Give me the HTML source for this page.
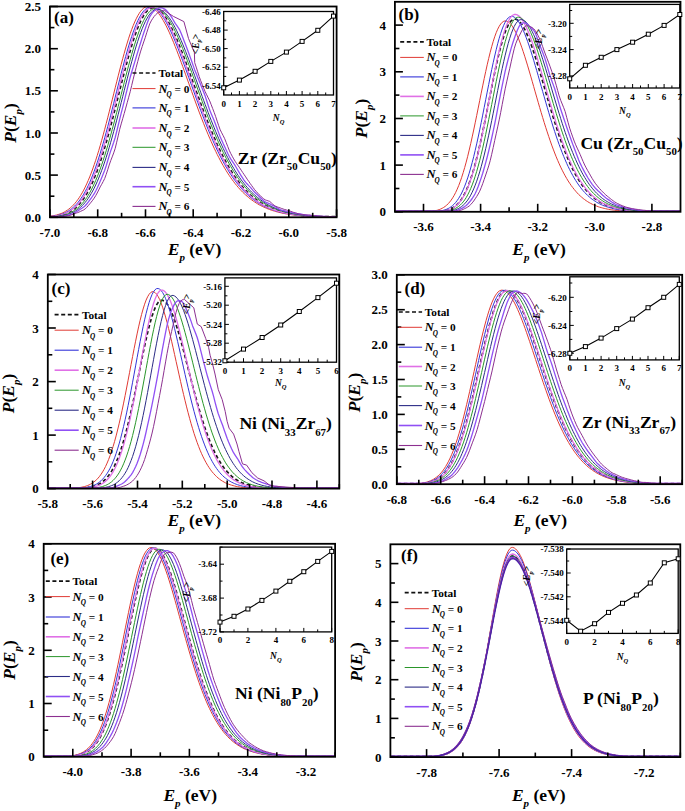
<!DOCTYPE html><html><head><meta charset="utf-8"><style>
html,body{margin:0;padding:0;background:#fff;}
svg{display:block;}
text{font-family:"Liberation Serif",serif;font-weight:bold;fill:#000;}
.tl{font-size:13px;}
.at{font-size:17.5px;}
.sub{font-size:11px;font-style:italic;}
.pl{font-size:17px;}
.lg{font-size:11.3px;}
.lsub{font-size:7.2px;font-style:italic;}
.lgN{font-size:12.5px;font-style:italic;}
.ml{font-size:17.6px;}
.msub{font-size:10.8px;}
.il{font-size:9px;}
.iat{font-size:9.5px;font-weight:bold;}
</style></head><body><svg width="685" height="811" viewBox="0 0 685 811">
<rect width="685" height="811" fill="#fff"/>
<polyline points="50.7,216.6 52.2,216.6 53.7,216.4 55.2,216.2 56.7,216.0 58.2,215.7 59.7,215.4 61.2,215.1 62.7,214.7 64.2,214.2 65.7,213.7 67.2,213.0 68.7,212.3 70.2,211.5 71.7,210.6 73.2,209.6 74.7,208.5 76.2,207.2 77.7,205.8 79.2,204.2 80.7,202.5 82.2,200.6 83.7,198.5 85.2,196.2 86.7,193.7 88.2,191.1 89.7,188.2 91.2,185.1 92.7,181.8 94.2,178.3 95.7,174.5 97.2,170.6 98.7,166.4 100.2,162.0 101.7,157.4 103.2,152.6 104.7,147.6 106.2,142.4 107.7,137.1 109.2,131.6 110.7,125.9 112.2,120.2 113.7,114.4 115.2,108.4 116.7,102.5 118.2,96.5 119.7,90.5 121.2,84.5 122.7,78.6 124.2,72.7 125.7,67.0 127.2,61.4 128.7,55.9 130.2,50.7 131.7,45.6 133.2,40.8 134.7,36.2 136.2,32.0 137.7,28.0 139.2,24.3 140.7,21.0 142.2,18.0 143.7,15.4 145.2,13.2 146.7,11.3 148.2,9.9 149.7,8.8 151.2,8.2 152.7,7.9 154.2,8.0 155.7,8.4 157.2,9.1 158.7,10.0 160.2,11.2 161.7,12.7 163.2,14.4 164.7,16.4 166.2,18.5 167.7,20.9 169.2,23.5 170.7,26.3 172.2,29.3 173.7,32.5 175.2,35.8 176.7,39.2 178.2,42.8 179.7,46.5 181.2,50.3 182.7,54.1 184.2,58.1 185.7,62.1 187.2,66.2 188.7,70.3 190.2,74.5 191.7,78.6 193.2,82.8 194.7,87.0 196.2,91.2 197.7,95.3 199.2,99.4 200.7,103.5 202.2,107.6 203.7,111.6 205.2,115.5 206.7,119.4 208.2,123.2 209.7,126.9 211.2,130.6 212.7,134.2 214.2,137.7 215.7,141.1 217.2,144.5 218.7,147.7 220.2,150.8 221.7,153.9 223.2,156.9 224.7,159.7 226.2,162.5 227.7,165.2 229.2,167.8 230.7,170.3 232.2,172.7 233.7,175.0 235.2,177.2 236.7,179.3 238.2,181.4 239.7,183.3 241.2,185.2 242.7,187.0 244.2,188.7 245.7,190.3 247.2,191.9 248.7,193.3 250.2,194.8 251.7,196.1 253.2,197.4 254.7,198.6 256.2,199.7 257.7,200.8 259.2,201.8 260.7,202.8 262.2,203.7 263.7,204.6 265.2,205.4 266.7,206.2 268.2,206.9 269.7,207.6 271.2,208.3 272.7,208.9 274.2,209.4 275.7,210.0 277.2,210.5 278.7,210.9 280.2,211.4 281.7,211.8 283.2,212.2 284.7,212.6 286.2,212.9 287.7,213.2 289.2,213.5 290.7,213.8 292.2,214.1 293.7,214.3 295.2,214.5 296.7,214.7 298.2,214.9 299.7,215.1 301.2,215.3 302.7,215.4 304.2,215.6 305.7,215.7 307.2,215.8 308.7,215.9 310.2,216.1 311.7,216.2 313.2,216.2 314.7,216.3 316.2,216.4 317.7,216.5 319.2,216.5 320.7,216.6 322.2,216.6 323.7,216.6 325.2,216.6 326.7,216.6 328.2,216.6 329.7,216.6 331.2,216.6 332.7,216.6 334.2,216.6 335.7,216.6 335.8,216.6" fill="none" stroke="#1a1a1a" stroke-width="1.7" stroke-dasharray="3.6 2.6"/>
<polyline points="50.7,216.2 52.2,215.9 53.7,215.7 55.2,215.3 56.7,215.0 58.2,214.5 59.7,214.0 61.2,213.5 62.7,212.8 64.2,212.1 65.7,211.2 67.2,210.3 68.7,209.2 70.2,208.0 71.7,206.7 73.2,205.2 74.7,203.6 76.2,201.8 77.7,199.8 79.2,197.7 80.7,195.3 82.2,192.8 83.7,190.1 85.2,187.1 86.7,183.9 88.2,180.5 89.7,176.9 91.2,173.1 92.7,169.0 94.2,164.7 95.7,160.3 97.2,155.6 98.7,150.7 100.2,145.6 101.7,140.3 103.2,134.9 104.7,129.3 106.2,123.6 107.7,117.8 109.2,111.9 110.7,105.9 112.2,99.9 113.7,93.9 115.2,87.8 116.7,81.8 118.2,75.9 119.7,70.0 121.2,64.3 122.7,58.7 124.2,53.3 125.7,48.0 127.2,43.0 128.7,38.2 130.2,33.7 131.7,29.5 133.2,25.6 134.7,22.0 136.2,18.8 137.7,15.9 139.2,13.4 140.7,11.2 142.2,9.5 143.7,8.1 145.2,7.2 146.7,6.7 148.2,6.5 149.7,6.7 151.2,7.2 152.7,7.9 154.2,9.0 155.7,10.3 157.2,11.8 158.7,13.6 160.2,15.6 161.7,17.9 163.2,20.4 164.7,23.1 166.2,25.9 167.7,29.0 169.2,32.2 170.7,35.6 172.2,39.1 173.7,42.7 175.2,46.5 176.7,50.3 178.2,54.2 179.7,58.2 181.2,62.3 182.7,66.4 184.2,70.6 185.7,74.8 187.2,79.0 188.7,83.2 190.2,87.4 191.7,91.6 193.2,95.7 194.7,99.9 196.2,104.0 197.7,108.0 199.2,112.1 200.7,116.0 202.2,119.9 203.7,123.7 205.2,127.5 206.7,131.1 208.2,134.7 209.7,138.2 211.2,141.6 212.7,145.0 214.2,148.2 215.7,151.3 217.2,154.4 218.7,157.3 220.2,160.2 221.7,163.0 223.2,165.6 224.7,168.2 226.2,170.7 227.7,173.1 229.2,175.4 230.7,177.6 232.2,179.7 233.7,181.7 235.2,183.7 236.7,185.5 238.2,187.3 239.7,189.0 241.2,190.6 242.7,192.2 244.2,193.6 245.7,195.0 247.2,196.3 248.7,197.6 250.2,198.8 251.7,199.9 253.2,201.0 254.7,202.0 256.2,203.0 257.7,203.9 259.2,204.8 260.7,205.6 262.2,206.3 263.7,207.1 265.2,207.7 266.7,208.4 268.2,209.0 269.7,209.5 271.2,210.1 272.7,210.6 274.2,211.0 275.7,211.5 277.2,211.9 278.7,212.3 280.2,212.6 281.7,213.0 283.2,213.3 284.7,213.6 286.2,213.9 287.7,214.1 289.2,214.3 290.7,214.6 292.2,214.8 293.7,215.0 295.2,215.1 296.7,215.3 298.2,215.5 299.7,215.6 301.2,215.7 302.7,215.9 304.2,216.0 305.7,216.1 307.2,216.2 308.7,216.3 310.2,216.3 311.7,216.4 313.2,216.5 314.7,216.6 316.2,216.6 317.7,216.6 319.2,216.6 320.7,216.6 322.2,216.6 323.7,216.6 325.2,216.6 326.7,216.6 328.2,216.6 329.7,216.6 331.2,216.6 332.7,216.6 334.2,216.6 335.7,216.6 335.8,216.6" fill="none" stroke="#e03a34" stroke-width="1.0" stroke-linejoin="round"/>
<polyline points="50.7,216.4 52.2,216.3 53.7,216.1 55.2,215.8 56.7,215.5 58.2,215.2 59.7,214.8 61.2,214.3 62.7,213.8 64.2,213.2 65.7,212.5 67.2,211.7 68.7,210.8 70.2,209.8 71.7,208.7 73.2,207.4 74.7,206.0 76.2,204.5 77.7,202.8 79.2,200.9 80.7,198.8 82.2,196.6 83.7,194.2 85.2,191.5 86.7,188.7 88.2,185.6 89.7,182.4 91.2,178.9 92.7,175.1 94.2,171.2 95.7,167.1 97.2,162.7 98.7,158.1 100.2,153.3 101.7,148.3 103.2,143.2 104.7,137.9 106.2,132.4 107.7,126.7 109.2,121.0 110.7,115.2 112.2,109.2 113.7,103.3 115.2,97.2 116.7,91.2 118.2,85.2 119.7,79.3 121.2,73.4 122.7,67.6 124.2,61.9 125.7,56.4 127.2,51.1 128.7,46.0 130.2,41.1 131.7,36.5 133.2,32.1 134.7,28.1 136.2,24.3 137.7,20.9 139.2,17.9 140.7,15.2 142.2,12.9 143.7,10.9 145.2,9.4 146.7,8.3 148.2,7.5 149.7,7.2 151.2,7.2 152.7,7.5 154.2,8.1 155.7,9.0 157.2,10.2 158.7,11.6 160.2,13.3 161.7,15.2 163.2,17.4 164.7,19.7 166.2,22.3 167.7,25.1 169.2,28.0 170.7,31.2 172.2,34.4 173.7,37.9 175.2,41.4 176.7,45.1 178.2,48.9 179.7,52.8 181.2,56.7 182.7,60.7 184.2,64.8 185.7,68.9 187.2,73.1 188.7,77.3 190.2,81.5 191.7,85.7 193.2,89.9 194.7,94.0 196.2,98.2 197.7,102.3 199.2,106.4 200.7,110.4 202.2,114.3 203.7,118.2 205.2,122.1 206.7,125.9 208.2,129.6 209.7,133.2 211.2,136.7 212.7,140.2 214.2,143.5 215.7,146.8 217.2,150.0 218.7,153.1 220.2,156.1 221.7,159.0 223.2,161.8 224.7,164.5 226.2,167.1 227.7,169.6 229.2,172.0 230.7,174.4 232.2,176.6 233.7,178.8 235.2,180.8 236.7,182.8 238.2,184.7 239.7,186.5 241.2,188.2 242.7,189.9 244.2,191.5 245.7,193.0 247.2,194.4 248.7,195.8 250.2,197.0 251.7,198.3 253.2,199.4 254.7,200.5 256.2,201.6 257.7,202.6 259.2,203.5 260.7,204.4 262.2,205.2 263.7,206.0 265.2,206.7 266.7,207.4 268.2,208.1 269.7,208.7 271.2,209.3 272.7,209.8 274.2,210.4 275.7,210.8 277.2,211.3 278.7,211.7 280.2,212.1 281.7,212.5 283.2,212.8 284.7,213.1 286.2,213.4 287.7,213.7 289.2,214.0 290.7,214.2 292.2,214.5 293.7,214.7 295.2,214.9 296.7,215.1 298.2,215.2 299.7,215.4 301.2,215.5 302.7,215.7 304.2,215.8 305.7,215.9 307.2,216.0 308.7,216.1 310.2,216.2 311.7,216.3 313.2,216.4 314.7,216.5 316.2,216.5 317.7,216.6 319.2,216.6 320.7,216.6 322.2,216.6 323.7,216.6 325.2,216.6 326.7,216.6 328.2,216.6 329.7,216.6 331.2,216.6 332.7,216.6 334.2,216.6 335.7,216.6 335.8,216.6" fill="none" stroke="#3434d8" stroke-width="1.0" stroke-linejoin="round"/>
<polyline points="50.7,216.6 52.2,216.4 53.7,216.3 55.2,216.1 56.7,215.8 58.2,215.5 59.7,215.2 61.2,214.8 62.7,214.3 64.2,213.8 65.7,213.2 67.2,212.5 68.7,211.7 70.2,210.8 71.7,209.8 73.2,208.7 74.7,207.4 76.2,206.0 77.7,204.5 79.2,202.8 80.7,200.9 82.2,198.9 83.7,196.6 85.2,194.2 86.7,191.6 88.2,188.7 89.7,185.7 91.2,182.4 92.7,178.9 94.2,175.2 95.7,171.3 97.2,167.2 98.7,162.8 100.2,158.2 101.7,153.5 103.2,148.5 104.7,143.3 106.2,138.0 107.7,132.5 109.2,126.9 110.7,121.2 112.2,115.4 113.7,109.5 115.2,103.5 116.7,97.5 118.2,91.5 119.7,85.5 121.2,79.5 122.7,73.7 124.2,67.9 125.7,62.3 127.2,56.8 128.7,51.5 130.2,46.3 131.7,41.5 133.2,36.8 134.7,32.5 136.2,28.4 137.7,24.7 139.2,21.3 140.7,18.3 142.2,15.6 143.7,13.3 145.2,11.3 146.7,9.8 148.2,8.7 149.7,7.9 151.2,7.6 152.7,7.6 154.2,7.9 155.7,8.6 157.2,9.5 158.7,10.6 160.2,12.0 161.7,13.7 163.2,15.6 164.7,17.8 166.2,20.1 167.7,22.7 169.2,25.5 170.7,28.4 172.2,31.5 173.7,34.8 175.2,38.2 176.7,41.8 178.2,45.4 179.7,49.2 181.2,53.1 182.7,57.0 184.2,61.1 185.7,65.1 187.2,69.2 188.7,73.4 190.2,77.6 191.7,81.8 193.2,85.9 194.7,90.1 196.2,94.3 197.7,98.4 199.2,102.5 200.7,106.6 202.2,110.6 203.7,114.5 205.2,118.4 206.7,122.3 208.2,126.0 209.7,129.7 211.2,133.3 212.7,136.9 214.2,140.3 215.7,143.7 217.2,146.9 218.7,150.1 220.2,153.2 221.7,156.2 223.2,159.1 224.7,161.9 226.2,164.6 227.7,167.2 229.2,169.7 230.7,172.1 232.2,174.5 233.7,176.7 235.2,178.8 236.7,180.9 238.2,182.9 239.7,184.8 241.2,186.6 242.7,188.3 244.2,190.0 245.7,191.5 247.2,193.0 248.7,194.4 250.2,195.8 251.7,197.1 253.2,198.3 254.7,199.5 256.2,200.6 257.7,201.6 259.2,202.6 260.7,203.5 262.2,204.4 263.7,205.2 265.2,206.0 266.7,206.8 268.2,207.5 269.7,208.1 271.2,208.7 272.7,209.3 274.2,209.9 275.7,210.4 277.2,210.8 278.7,211.3 280.2,211.7 281.7,212.1 283.2,212.5 284.7,212.8 286.2,213.2 287.7,213.5 289.2,213.7 290.7,214.0 292.2,214.2 293.7,214.5 295.2,214.7 296.7,214.9 298.2,215.1 299.7,215.2 301.2,215.4 302.7,215.5 304.2,215.7 305.7,215.8 307.2,215.9 308.7,216.0 310.2,216.1 311.7,216.2 313.2,216.3 314.7,216.4 316.2,216.5 317.7,216.5 319.2,216.6 320.7,216.6 322.2,216.6 323.7,216.6 325.2,216.6 326.7,216.6 328.2,216.6 329.7,216.6 331.2,216.6 332.7,216.6 334.2,216.6 335.7,216.6 335.8,216.6" fill="none" stroke="#e070e6" stroke-width="1.3" stroke-linejoin="round"/>
<polyline points="50.7,216.6 52.2,216.6 53.7,216.6 55.2,216.5 56.7,216.3 58.2,216.1 59.7,215.9 61.2,215.6 62.7,215.3 64.2,214.9 65.7,214.5 67.2,214.0 68.7,213.4 70.2,212.8 71.7,212.0 73.2,211.2 74.7,210.2 76.2,209.2 77.7,208.0 79.2,206.7 80.7,205.2 82.2,203.6 83.7,201.8 85.2,199.8 86.7,197.7 88.2,195.3 89.7,192.8 91.2,190.0 92.7,187.1 94.2,183.9 95.7,180.5 97.2,176.9 98.7,173.1 100.2,169.1 101.7,164.8 103.2,160.4 104.7,155.7 106.2,150.8 107.7,145.8 109.2,140.5 110.7,135.1 112.2,129.6 113.7,124.0 115.2,118.2 116.7,112.3 118.2,106.4 119.7,100.5 121.2,94.5 122.7,88.5 124.2,82.6 125.7,76.7 127.2,70.9 128.7,65.2 130.2,59.7 131.7,54.3 133.2,49.2 134.7,44.2 136.2,39.5 137.7,35.1 139.2,30.9 140.7,27.1 142.2,23.6 143.7,20.4 145.2,17.6 146.7,15.1 148.2,13.1 149.7,11.4 151.2,10.1 152.7,9.2 154.2,8.7 155.7,8.6 157.2,8.8 158.7,9.3 160.2,10.1 161.7,11.1 163.2,12.4 164.7,14.0 166.2,15.8 167.7,17.8 169.2,20.1 170.7,22.6 172.2,25.3 173.7,28.1 175.2,31.2 176.7,34.4 178.2,37.7 179.7,41.2 181.2,44.8 182.7,48.5 184.2,52.3 185.7,56.2 187.2,60.2 188.7,64.2 190.2,68.3 191.7,72.4 193.2,76.6 194.7,80.7 196.2,84.9 197.7,89.1 199.2,93.2 200.7,97.3 202.2,101.4 203.7,105.5 205.2,109.5 206.7,113.5 208.2,117.4 209.7,121.2 211.2,125.0 212.7,128.7 214.2,132.3 215.7,135.9 217.2,139.3 218.7,142.7 220.2,146.0 221.7,149.2 223.2,152.3 224.7,155.3 226.2,158.2 227.7,161.0 229.2,163.8 230.7,166.4 232.2,168.9 233.7,171.4 235.2,173.7 236.7,176.0 238.2,178.2 239.7,180.3 241.2,182.3 242.7,184.2 244.2,186.0 245.7,187.8 247.2,189.4 248.7,191.0 250.2,192.5 251.7,194.0 253.2,195.4 254.7,196.7 256.2,197.9 257.7,199.1 259.2,200.2 260.7,201.3 262.2,202.3 263.7,203.2 265.2,204.1 266.7,205.0 268.2,205.8 269.7,206.5 271.2,207.2 272.7,207.9 274.2,208.5 275.7,209.1 277.2,209.7 278.7,210.2 280.2,210.7 281.7,211.1 283.2,211.6 284.7,212.0 286.2,212.4 287.7,212.7 289.2,213.0 290.7,213.4 292.2,213.6 293.7,213.9 295.2,214.2 296.7,214.4 298.2,214.6 299.7,214.8 301.2,215.0 302.7,215.2 304.2,215.3 305.7,215.5 307.2,215.6 308.7,215.8 310.2,215.9 311.7,216.0 313.2,216.1 314.7,216.2 316.2,216.3 317.7,216.4 319.2,216.4 320.7,216.5 322.2,216.6 323.7,216.6 325.2,216.6 326.7,216.6 328.2,216.6 329.7,216.6 331.2,216.6 332.7,216.6 334.2,216.6 335.7,216.6 335.8,216.6" fill="none" stroke="#2a962a" stroke-width="1.0" stroke-linejoin="round"/>
<polyline points="50.7,216.6 52.2,216.6 53.7,216.6 55.2,216.6 56.7,216.6 58.2,216.4 59.7,216.2 61.2,216.0 62.7,215.7 64.2,215.4 65.7,215.1 67.2,214.7 68.7,214.2 70.2,213.6 71.7,213.0 73.2,212.3 74.7,211.5 76.2,210.6 77.7,209.5 79.2,208.4 80.7,207.1 82.2,205.7 83.7,204.1 85.2,202.4 86.7,200.5 88.2,198.4 89.7,196.1 91.2,193.6 92.7,191.0 94.2,188.1 95.7,185.0 97.2,181.7 98.7,178.1 100.2,174.4 101.7,170.4 103.2,166.3 104.7,161.9 106.2,157.3 107.7,152.5 109.2,147.5 110.7,142.3 112.2,137.0 113.7,131.5 115.2,125.9 116.7,120.2 118.2,114.4 119.7,108.5 121.2,102.5 122.7,96.6 124.2,90.6 125.7,84.7 127.2,78.8 128.7,73.0 130.2,67.3 131.7,61.8 133.2,56.4 134.7,51.1 136.2,46.1 137.7,41.4 139.2,36.9 140.7,32.6 142.2,28.7 143.7,25.1 145.2,21.8 146.7,18.9 148.2,16.4 149.7,14.2 151.2,12.4 152.7,11.0 154.2,10.0 155.7,9.3 157.2,9.1 158.7,9.2 160.2,9.7 161.7,10.4 163.2,11.3 164.7,12.5 166.2,14.0 167.7,15.8 169.2,17.7 170.7,19.9 172.2,22.3 173.7,24.9 175.2,27.7 176.7,30.7 178.2,33.9 179.7,37.2 181.2,40.6 182.7,44.2 184.2,47.8 185.7,51.6 187.2,55.5 188.7,59.4 190.2,63.4 191.7,67.5 193.2,71.6 194.7,75.7 196.2,79.9 197.7,84.0 199.2,88.2 200.7,92.3 202.2,96.4 203.7,100.5 205.2,104.6 206.7,108.6 208.2,112.6 209.7,116.5 211.2,120.3 212.7,124.1 214.2,127.8 215.7,131.5 217.2,135.0 218.7,138.5 220.2,141.9 221.7,145.2 223.2,148.4 224.7,151.5 226.2,154.6 227.7,157.5 229.2,160.4 230.7,163.1 232.2,165.8 233.7,168.3 235.2,170.8 236.7,173.2 238.2,175.5 239.7,177.7 241.2,179.8 242.7,181.8 244.2,183.7 245.7,185.6 247.2,187.3 248.7,189.0 250.2,190.6 251.7,192.2 253.2,193.6 254.7,195.0 256.2,196.3 257.7,197.6 259.2,198.8 260.7,199.9 262.2,201.0 263.7,202.0 265.2,203.0 266.7,203.9 268.2,204.8 269.7,205.6 271.2,206.3 272.7,207.0 274.2,207.7 275.7,208.4 277.2,209.0 278.7,209.5 280.2,210.1 281.7,210.6 283.2,211.0 284.7,211.5 286.2,211.9 287.7,212.3 289.2,212.6 290.7,213.0 292.2,213.3 293.7,213.6 295.2,213.8 296.7,214.1 298.2,214.3 299.7,214.6 301.2,214.8 302.7,215.0 304.2,215.1 305.7,215.3 307.2,215.5 308.7,215.6 310.2,215.7 311.7,215.9 313.2,216.0 314.7,216.1 316.2,216.2 317.7,216.3 319.2,216.3 320.7,216.4 322.2,216.5 323.7,216.6 325.2,216.6 326.7,216.6 328.2,216.6 329.7,216.6 331.2,216.6 332.7,216.6 334.2,216.6 335.7,216.6 335.8,216.6" fill="none" stroke="#2c2c86" stroke-width="1.0" stroke-linejoin="round"/>
<polyline points="50.7,216.6 52.2,216.6 53.7,216.6 55.2,216.6 56.7,216.6 58.2,216.6 59.7,216.6 61.2,216.5 62.7,216.3 64.2,216.1 65.7,215.8 67.2,215.4 68.7,215.0 70.2,214.6 71.7,214.1 73.2,213.5 74.7,212.8 76.2,212.0 77.7,211.0 79.2,210.0 80.7,209.0 82.2,208.0 83.7,206.9 85.2,205.7 86.7,204.0 88.2,202.2 89.7,200.2 91.2,198.2 92.7,196.0 94.2,193.7 95.7,191.0 97.2,188.0 98.7,184.7 100.2,181.3 101.7,177.8 103.2,174.1 104.7,170.2 106.2,165.7 107.7,160.8 109.2,155.6 110.7,150.9 112.2,146.7 113.7,142.3 115.2,137.5 116.7,131.5 118.2,125.4 119.7,119.2 121.2,113.2 122.7,107.3 124.2,101.3 125.7,95.2 127.2,89.1 128.7,83.0 130.2,77.2 131.7,72.0 133.2,67.0 134.7,62.1 136.2,57.0 137.7,52.1 139.2,47.3 140.7,42.5 142.2,37.6 143.7,33.0 145.2,28.7 146.7,24.4 148.2,20.4 149.7,16.8 151.2,14.3 152.7,12.4 154.2,10.9 155.7,9.6 157.2,8.6 158.7,8.0 160.2,7.8 161.7,7.9 163.2,8.3 164.7,9.0 166.2,10.3 167.7,11.9 169.2,13.8 170.7,15.9 172.2,18.2 173.7,20.8 175.2,23.4 176.7,25.4 178.2,27.6 179.7,29.9 181.2,33.4 182.7,37.2 184.2,41.2 185.7,45.1 187.2,49.0 188.7,53.0 190.2,57.1 191.7,61.3 193.2,65.6 194.7,69.9 196.2,73.6 197.7,77.4 199.2,81.1 200.7,84.8 202.2,88.5 203.7,92.2 205.2,96.1 206.7,100.8 208.2,105.5 209.7,110.1 211.2,113.8 212.7,117.3 214.2,120.8 215.7,124.7 217.2,128.8 218.7,132.9 220.2,136.8 221.7,140.2 223.2,143.6 224.7,146.8 226.2,150.0 227.7,153.2 229.2,156.2 230.7,158.9 232.2,161.2 233.7,163.4 235.2,165.7 236.7,168.3 238.2,170.9 239.7,173.3 241.2,175.8 242.7,178.2 244.2,180.5 245.7,182.4 247.2,184.0 248.7,185.6 250.2,187.1 251.7,188.9 253.2,190.6 254.7,192.2 256.2,193.7 257.7,195.1 259.2,196.5 260.7,197.9 262.2,199.3 263.7,200.7 265.2,201.9 266.7,202.5 268.2,203.2 269.7,203.8 271.2,204.6 272.7,205.3 274.2,206.0 275.7,206.9 277.2,207.9 278.7,208.8 280.2,209.6 281.7,210.1 283.2,210.5 284.7,210.9 286.2,211.3 287.7,211.6 289.2,211.9 290.7,212.2 292.2,212.6 293.7,212.9 295.2,213.2 296.7,213.5 298.2,213.7 299.7,213.9 301.2,214.2 302.7,214.5 304.2,214.7 305.7,215.0 307.2,215.1 308.7,215.3 310.2,215.5 311.7,215.6 313.2,215.6 314.7,215.7 316.2,215.9 317.7,216.0 319.2,216.2 320.7,216.3 322.2,216.3 323.7,216.4 325.2,216.4 326.7,216.6 328.2,216.6 329.7,216.6 331.2,216.6 332.7,216.6 334.2,216.6 335.7,216.6 335.8,216.6" fill="none" stroke="#9050f4" stroke-width="1.3" stroke-linejoin="round"/>
<polyline points="50.7,216.6 52.2,216.6 53.7,216.6 55.2,216.6 56.7,216.6 58.2,216.6 59.7,216.6 61.2,216.6 62.7,216.4 64.2,216.2 65.7,216.0 67.2,215.8 68.7,215.6 70.2,215.3 71.7,214.8 73.2,214.3 74.7,213.6 76.2,213.1 77.7,212.6 79.2,212.0 80.7,211.3 82.2,210.6 83.7,209.9 85.2,208.9 86.7,207.4 88.2,205.7 89.7,203.9 91.2,202.1 92.7,200.2 94.2,198.1 95.7,195.7 97.2,193.0 98.7,190.0 100.2,186.9 101.7,184.3 103.2,181.5 104.7,178.5 106.2,174.4 107.7,169.8 109.2,165.0 110.7,160.7 112.2,156.9 113.7,152.9 115.2,148.4 116.7,142.2 118.2,135.9 119.7,129.3 121.2,123.9 122.7,118.7 124.2,113.5 125.7,108.1 127.2,102.7 128.7,97.2 130.2,91.7 131.7,85.4 133.2,79.2 134.7,73.1 136.2,67.3 137.7,61.7 139.2,56.2 140.7,51.1 142.2,46.5 143.7,42.0 145.2,37.7 146.7,32.8 148.2,28.2 149.7,23.9 151.2,20.9 152.7,18.5 154.2,16.4 155.7,14.7 157.2,13.3 158.7,12.3 160.2,11.6 161.7,10.7 163.2,10.3 164.7,10.1 165.2,11.1 173.4,16.4 183.9,21.6 188.5,38.5 194.4,52.6 194.7,62.6 196.2,67.1 197.7,71.8 199.2,76.5 200.7,80.7 202.2,84.4 203.7,88.2 205.2,91.8 206.7,94.8 208.2,97.9 209.7,100.9 211.2,104.7 212.7,108.6 214.2,112.5 215.7,116.7 217.2,121.2 218.7,125.7 220.2,129.8 221.7,132.8 223.2,135.7 224.7,138.7 226.2,142.5 227.7,146.4 229.2,150.2 230.7,153.4 232.2,156.2 233.7,158.9 235.2,161.4 236.7,163.7 238.2,165.8 239.7,167.9 241.2,170.2 242.7,172.5 244.2,174.7 245.7,176.9 247.2,179.2 248.7,181.3 250.2,183.5 251.7,185.6 253.2,187.7 254.7,189.7 256.2,191.4 257.7,193.1 259.2,194.7 260.7,196.1 262.2,197.5 263.7,198.8 265.2,199.9 266.7,200.4 268.2,200.9 269.7,201.4 271.2,202.7 272.7,204.1 274.2,205.4 275.7,206.3 277.2,206.9 278.7,207.4 280.2,207.9 281.7,208.5 283.2,209.0 284.7,209.5 286.2,209.9 287.7,210.4 289.2,210.7 290.7,211.3 292.2,211.8 293.7,212.4 295.2,212.9 296.7,213.3 298.2,213.8 299.7,214.1 301.2,214.4 302.7,214.6 304.2,214.8 305.7,214.9 307.2,215.0 308.7,215.0 310.2,215.1 311.7,215.3 313.2,215.5 314.7,215.7 316.2,215.8 317.7,216.0 319.2,216.1 320.7,216.2 322.2,216.3 323.7,216.4 325.2,216.4 326.7,216.4 328.2,216.4 329.7,216.5 331.2,216.5 332.7,216.6 334.2,216.6 335.7,216.6 335.8,216.6" fill="none" stroke="#8c3090" stroke-width="1.0" stroke-linejoin="round"/>
<rect x="49.9" y="6.5" width="286.7" height="210.8" fill="none" stroke="#000" stroke-width="1.8"/>
<line x1="49.9" y1="217.3" x2="49.9" y2="209.3" stroke="#000" stroke-width="1.6"/>
<text x="49.9" y="236.8" text-anchor="middle" class="tl">-7.0</text>
<line x1="97.7" y1="217.3" x2="97.7" y2="209.3" stroke="#000" stroke-width="1.6"/>
<text x="97.7" y="236.8" text-anchor="middle" class="tl">-6.8</text>
<line x1="145.5" y1="217.3" x2="145.5" y2="209.3" stroke="#000" stroke-width="1.6"/>
<text x="145.5" y="236.8" text-anchor="middle" class="tl">-6.6</text>
<line x1="193.2" y1="217.3" x2="193.2" y2="209.3" stroke="#000" stroke-width="1.6"/>
<text x="193.2" y="236.8" text-anchor="middle" class="tl">-6.4</text>
<line x1="241.0" y1="217.3" x2="241.0" y2="209.3" stroke="#000" stroke-width="1.6"/>
<text x="241.0" y="236.8" text-anchor="middle" class="tl">-6.2</text>
<line x1="288.8" y1="217.3" x2="288.8" y2="209.3" stroke="#000" stroke-width="1.6"/>
<text x="288.8" y="236.8" text-anchor="middle" class="tl">-6.0</text>
<line x1="336.6" y1="217.3" x2="336.6" y2="209.3" stroke="#000" stroke-width="1.6"/>
<text x="336.6" y="236.8" text-anchor="middle" class="tl">-5.8</text>
<line x1="73.8" y1="217.3" x2="73.8" y2="212.8" stroke="#000" stroke-width="1.6"/>
<line x1="121.6" y1="217.3" x2="121.6" y2="212.8" stroke="#000" stroke-width="1.6"/>
<line x1="169.4" y1="217.3" x2="169.4" y2="212.8" stroke="#000" stroke-width="1.6"/>
<line x1="217.1" y1="217.3" x2="217.1" y2="212.8" stroke="#000" stroke-width="1.6"/>
<line x1="264.9" y1="217.3" x2="264.9" y2="212.8" stroke="#000" stroke-width="1.6"/>
<line x1="312.7" y1="217.3" x2="312.7" y2="212.8" stroke="#000" stroke-width="1.6"/>
<line x1="49.9" y1="217.3" x2="57.9" y2="217.3" stroke="#000" stroke-width="1.6"/>
<text x="40.9" y="221.8" text-anchor="end" class="tl">0.0</text>
<line x1="49.9" y1="175.1" x2="57.9" y2="175.1" stroke="#000" stroke-width="1.6"/>
<text x="40.9" y="179.6" text-anchor="end" class="tl">0.5</text>
<line x1="49.9" y1="133.0" x2="57.9" y2="133.0" stroke="#000" stroke-width="1.6"/>
<text x="40.9" y="137.5" text-anchor="end" class="tl">1.0</text>
<line x1="49.9" y1="90.8" x2="57.9" y2="90.8" stroke="#000" stroke-width="1.6"/>
<text x="40.9" y="95.3" text-anchor="end" class="tl">1.5</text>
<line x1="49.9" y1="48.7" x2="57.9" y2="48.7" stroke="#000" stroke-width="1.6"/>
<text x="40.9" y="53.2" text-anchor="end" class="tl">2.0</text>
<line x1="49.9" y1="6.5" x2="57.9" y2="6.5" stroke="#000" stroke-width="1.6"/>
<text x="40.9" y="11.0" text-anchor="end" class="tl">2.5</text>
<line x1="49.9" y1="196.2" x2="54.4" y2="196.2" stroke="#000" stroke-width="1.6"/>
<line x1="49.9" y1="154.1" x2="54.4" y2="154.1" stroke="#000" stroke-width="1.6"/>
<line x1="49.9" y1="111.9" x2="54.4" y2="111.9" stroke="#000" stroke-width="1.6"/>
<line x1="49.9" y1="69.7" x2="54.4" y2="69.7" stroke="#000" stroke-width="1.6"/>
<line x1="49.9" y1="27.6" x2="54.4" y2="27.6" stroke="#000" stroke-width="1.6"/>
<text x="167.7" y="254.7" class="at"><tspan font-style="italic">E</tspan><tspan class="sub" dy="6">p</tspan><tspan dy="-6"> (eV)</tspan></text>
<text transform="translate(15.5,123.0) rotate(-90)" text-anchor="middle" class="at"><tspan font-style="italic">P</tspan>(<tspan font-style="italic">E</tspan><tspan class="sub" dy="6">p</tspan><tspan dy="-6">)</tspan></text>
<text x="54.0" y="22.5" class="pl">(a)</text>
<line x1="132.5" y1="73.0" x2="155.5" y2="73.0" stroke="#111" stroke-width="1.7" stroke-dasharray="4 2.6"/>
<text x="158.5" y="77.0" class="lg">Total</text>
<line x1="132.5" y1="88.6" x2="155.5" y2="88.6" stroke="#e03a34" stroke-width="1.0"/>
<text x="158.5" y="92.6" class="lg"><tspan class="lgN">N</tspan><tspan class="lsub" dx="-1" dy="4.5">Q</tspan><tspan dy="-4.5"> = 0</tspan></text>
<line x1="132.5" y1="107.9" x2="155.5" y2="107.9" stroke="#3434d8" stroke-width="1.1"/>
<text x="158.5" y="111.9" class="lg"><tspan class="lgN">N</tspan><tspan class="lsub" dx="-1" dy="4.5">Q</tspan><tspan dy="-4.5"> = 1</tspan></text>
<line x1="132.5" y1="128.0" x2="155.5" y2="128.0" stroke="#e070e6" stroke-width="1.6"/>
<text x="158.5" y="132.0" class="lg"><tspan class="lgN">N</tspan><tspan class="lsub" dx="-1" dy="4.5">Q</tspan><tspan dy="-4.5"> = 2</tspan></text>
<line x1="132.5" y1="147.3" x2="155.5" y2="147.3" stroke="#2a962a" stroke-width="1.0"/>
<text x="158.5" y="151.3" class="lg"><tspan class="lgN">N</tspan><tspan class="lsub" dx="-1" dy="4.5">Q</tspan><tspan dy="-4.5"> = 3</tspan></text>
<line x1="132.5" y1="167.4" x2="155.5" y2="167.4" stroke="#2c2c86" stroke-width="1.1"/>
<text x="158.5" y="171.4" class="lg"><tspan class="lgN">N</tspan><tspan class="lsub" dx="-1" dy="4.5">Q</tspan><tspan dy="-4.5"> = 4</tspan></text>
<line x1="132.5" y1="186.7" x2="155.5" y2="186.7" stroke="#9050f4" stroke-width="1.6"/>
<text x="158.5" y="190.7" class="lg"><tspan class="lgN">N</tspan><tspan class="lsub" dx="-1" dy="4.5">Q</tspan><tspan dy="-4.5"> = 5</tspan></text>
<line x1="132.5" y1="206.4" x2="155.5" y2="206.4" stroke="#8c3090" stroke-width="1.1"/>
<text x="158.5" y="210.4" class="lg"><tspan class="lgN">N</tspan><tspan class="lsub" dx="-1" dy="4.5">Q</tspan><tspan dy="-4.5"> = 6</tspan></text>
<text x="237.8" y="163.8" class="ml">Zr (Zr<tspan class="msub" dy="6.5">50</tspan><tspan dy="-6.5">Cu</tspan><tspan class="msub" dy="6.5">50</tspan><tspan dy="-6.5">)</tspan></text>
<rect x="223.7" y="11.5" width="109.8" height="83.5" fill="#fff" stroke="#000" stroke-width="1.3"/>
<line x1="223.7" y1="95.0" x2="223.7" y2="91.0" stroke="#000" stroke-width="1"/>
<text x="223.7" y="106.5" text-anchor="middle" class="il">0</text>
<line x1="239.4" y1="95.0" x2="239.4" y2="91.0" stroke="#000" stroke-width="1"/>
<text x="239.4" y="106.5" text-anchor="middle" class="il">1</text>
<line x1="255.1" y1="95.0" x2="255.1" y2="91.0" stroke="#000" stroke-width="1"/>
<text x="255.1" y="106.5" text-anchor="middle" class="il">2</text>
<line x1="270.8" y1="95.0" x2="270.8" y2="91.0" stroke="#000" stroke-width="1"/>
<text x="270.8" y="106.5" text-anchor="middle" class="il">3</text>
<line x1="286.4" y1="95.0" x2="286.4" y2="91.0" stroke="#000" stroke-width="1"/>
<text x="286.4" y="106.5" text-anchor="middle" class="il">4</text>
<line x1="302.1" y1="95.0" x2="302.1" y2="91.0" stroke="#000" stroke-width="1"/>
<text x="302.1" y="106.5" text-anchor="middle" class="il">5</text>
<line x1="317.8" y1="95.0" x2="317.8" y2="91.0" stroke="#000" stroke-width="1"/>
<text x="317.8" y="106.5" text-anchor="middle" class="il">6</text>
<line x1="333.5" y1="95.0" x2="333.5" y2="91.0" stroke="#000" stroke-width="1"/>
<text x="333.5" y="106.5" text-anchor="middle" class="il">7</text>
<line x1="231.5" y1="95.0" x2="231.5" y2="92.5" stroke="#000" stroke-width="1"/>
<line x1="247.2" y1="95.0" x2="247.2" y2="92.5" stroke="#000" stroke-width="1"/>
<line x1="262.9" y1="95.0" x2="262.9" y2="92.5" stroke="#000" stroke-width="1"/>
<line x1="278.6" y1="95.0" x2="278.6" y2="92.5" stroke="#000" stroke-width="1"/>
<line x1="294.3" y1="95.0" x2="294.3" y2="92.5" stroke="#000" stroke-width="1"/>
<line x1="310.0" y1="95.0" x2="310.0" y2="92.5" stroke="#000" stroke-width="1"/>
<line x1="325.7" y1="95.0" x2="325.7" y2="92.5" stroke="#000" stroke-width="1"/>
<line x1="223.7" y1="11.5" x2="227.7" y2="11.5" stroke="#000" stroke-width="1"/>
<text x="220.7" y="14.7" text-anchor="end" class="il">-6.46</text>
<line x1="223.7" y1="30.1" x2="227.7" y2="30.1" stroke="#000" stroke-width="1"/>
<text x="220.7" y="33.3" text-anchor="end" class="il">-6.48</text>
<line x1="223.7" y1="48.6" x2="227.7" y2="48.6" stroke="#000" stroke-width="1"/>
<text x="220.7" y="51.8" text-anchor="end" class="il">-6.50</text>
<line x1="223.7" y1="67.2" x2="227.7" y2="67.2" stroke="#000" stroke-width="1"/>
<text x="220.7" y="70.4" text-anchor="end" class="il">-6.52</text>
<line x1="223.7" y1="85.7" x2="227.7" y2="85.7" stroke="#000" stroke-width="1"/>
<text x="220.7" y="88.9" text-anchor="end" class="il">-6.54</text>
<line x1="223.7" y1="20.8" x2="226.2" y2="20.8" stroke="#000" stroke-width="1"/>
<line x1="223.7" y1="39.3" x2="226.2" y2="39.3" stroke="#000" stroke-width="1"/>
<line x1="223.7" y1="57.9" x2="226.2" y2="57.9" stroke="#000" stroke-width="1"/>
<line x1="223.7" y1="76.4" x2="226.2" y2="76.4" stroke="#000" stroke-width="1"/>
<polyline points="223.7,87.8 239.4,80.1 255.1,71.3 270.8,61.4 286.4,52.1 302.1,41.4 317.8,30.3 333.5,16.1" fill="none" stroke="#000" stroke-width="1.1"/>
<rect x="221.7" y="85.8" width="4" height="4" fill="#fff" stroke="#000" stroke-width="1"/>
<rect x="237.4" y="78.1" width="4" height="4" fill="#fff" stroke="#000" stroke-width="1"/>
<rect x="253.1" y="69.3" width="4" height="4" fill="#fff" stroke="#000" stroke-width="1"/>
<rect x="268.8" y="59.4" width="4" height="4" fill="#fff" stroke="#000" stroke-width="1"/>
<rect x="284.4" y="50.1" width="4" height="4" fill="#fff" stroke="#000" stroke-width="1"/>
<rect x="300.1" y="39.4" width="4" height="4" fill="#fff" stroke="#000" stroke-width="1"/>
<rect x="315.8" y="28.3" width="4" height="4" fill="#fff" stroke="#000" stroke-width="1"/>
<rect x="331.5" y="14.1" width="4" height="4" fill="#fff" stroke="#000" stroke-width="1"/>
<text x="278.6" y="121.0" text-anchor="middle" class="iat"><tspan font-style="italic">N</tspan><tspan font-size="6.5" font-style="italic" dy="3">Q</tspan></text>
<text transform="translate(198.5,44.0) rotate(-90)" text-anchor="middle" class="iat">&lt;<tspan font-style="italic">E</tspan><tspan font-size="6.5" font-style="italic" dy="2.5">p</tspan><tspan dy="-2.5">&gt;</tspan></text>
<polyline points="395.7,211.1 397.2,211.1 398.7,211.1 400.2,211.1 401.7,211.1 403.2,211.1 404.7,211.1 406.2,211.1 407.7,211.1 409.2,211.1 410.7,211.1 412.2,211.1 413.7,211.1 415.2,211.1 416.7,211.1 418.2,211.1 419.7,211.1 421.2,211.1 422.7,211.1 424.2,211.1 425.7,211.1 427.2,211.1 428.7,211.1 430.2,211.1 431.7,211.1 433.2,211.1 434.7,211.1 436.2,211.1 437.7,211.1 439.2,211.1 440.7,211.1 442.2,211.1 443.7,211.0 445.2,210.7 446.7,210.3 448.2,209.9 449.7,209.4 451.2,208.7 452.7,207.9 454.2,207.0 455.7,205.8 457.2,204.5 458.7,202.9 460.2,201.0 461.7,198.9 463.2,196.5 464.7,193.7 466.2,190.6 467.7,187.2 469.2,183.3 470.7,179.1 472.2,174.5 473.7,169.5 475.2,164.1 476.7,158.3 478.2,152.2 479.7,145.7 481.2,139.0 482.7,132.0 484.2,124.8 485.7,117.4 487.2,109.9 488.7,102.3 490.2,94.7 491.7,87.2 493.2,79.8 494.7,72.6 496.2,65.6 497.7,58.9 499.2,52.6 500.7,46.7 502.2,41.3 503.7,36.4 505.2,32.0 506.7,28.3 508.2,25.1 509.7,22.6 511.2,20.8 512.7,19.6 514.2,19.1 515.7,19.2 517.2,19.8 518.7,20.8 520.2,22.3 521.7,24.3 523.2,26.6 524.7,29.3 526.2,32.4 527.7,35.8 529.2,39.5 530.7,43.4 532.2,47.7 533.7,52.1 535.2,56.7 536.7,61.5 538.2,66.4 539.7,71.4 541.2,76.5 542.7,81.6 544.2,86.8 545.7,92.0 547.2,97.1 548.7,102.3 550.2,107.3 551.7,112.3 553.2,117.2 554.7,122.0 556.2,126.7 557.7,131.3 559.2,135.8 560.7,140.1 562.2,144.2 563.7,148.2 565.2,152.1 566.7,155.8 568.2,159.4 569.7,162.8 571.2,166.0 572.7,169.1 574.2,172.0 575.7,174.8 577.2,177.4 578.7,179.9 580.2,182.2 581.7,184.4 583.2,186.5 584.7,188.4 586.2,190.2 587.7,191.9 589.2,193.5 590.7,195.0 592.2,196.4 593.7,197.6 595.2,198.8 596.7,199.9 598.2,200.9 599.7,201.9 601.2,202.8 602.7,203.6 604.2,204.3 605.7,205.0 607.2,205.6 608.7,206.2 610.2,206.7 611.7,207.2 613.2,207.6 614.7,208.0 616.2,208.4 617.7,208.7 619.2,209.0 620.7,209.3 622.2,209.5 623.7,209.8 625.2,210.0 626.7,210.2 628.2,210.3 629.7,210.5 631.2,210.6 632.7,210.7 634.2,210.9 635.7,211.0 637.2,211.1 638.7,211.1 640.2,211.1 641.7,211.1 643.2,211.1 644.7,211.1 646.2,211.1 647.7,211.1 649.2,211.1 650.7,211.1 652.2,211.1 653.7,211.1 655.2,211.1 656.7,211.1 658.2,211.1 659.7,211.1 661.2,211.1 662.7,211.1 664.2,211.1 665.7,211.1 667.2,211.1 668.7,211.1 670.2,211.1 671.7,211.1 673.2,211.1 674.7,211.1 676.2,211.1 677.7,211.1 679.2,211.1 679.7,211.1" fill="none" stroke="#1a1a1a" stroke-width="1.7" stroke-dasharray="3.6 2.6"/>
<polyline points="395.7,211.1 397.2,211.1 398.7,211.1 400.2,211.1 401.7,211.1 403.2,211.1 404.7,211.1 406.2,211.1 407.7,211.1 409.2,211.1 410.7,211.1 412.2,211.1 413.7,211.1 415.2,211.1 416.7,211.1 418.2,211.1 419.7,211.1 421.2,211.1 422.7,211.1 424.2,211.1 425.7,211.1 427.2,211.1 428.7,211.1 430.2,211.1 431.7,211.1 433.2,211.1 434.7,210.8 436.2,210.5 437.7,210.1 439.2,209.6 440.7,209.0 442.2,208.3 443.7,207.4 445.2,206.4 446.7,205.2 448.2,203.7 449.7,202.0 451.2,200.1 452.7,197.8 454.2,195.3 455.7,192.4 457.2,189.2 458.7,185.6 460.2,181.7 461.7,177.3 463.2,172.6 464.7,167.5 466.2,162.1 467.7,156.3 469.2,150.1 470.7,143.7 472.2,136.9 473.7,130.0 475.2,122.8 476.7,115.5 478.2,108.1 479.7,100.6 481.2,93.2 482.7,85.9 484.2,78.6 485.7,71.6 487.2,64.8 488.7,58.4 490.2,52.3 491.7,46.7 493.2,41.5 494.7,36.8 496.2,32.7 497.7,29.2 499.2,26.3 500.7,24.0 502.2,22.3 503.7,21.3 505.2,20.9 506.7,21.2 508.2,21.9 509.7,23.1 511.2,24.7 512.7,26.8 514.2,29.3 515.7,32.2 517.2,35.5 518.7,39.1 520.2,43.0 521.7,47.2 523.2,51.6 524.7,56.2 526.2,61.0 527.7,65.9 529.2,71.0 530.7,76.1 532.2,81.3 533.7,86.6 535.2,91.9 536.7,97.1 538.2,102.3 539.7,107.5 541.2,112.6 542.7,117.6 544.2,122.5 545.7,127.3 547.2,131.9 548.7,136.4 550.2,140.8 551.7,145.1 553.2,149.1 554.7,153.0 556.2,156.8 557.7,160.4 559.2,163.8 560.7,167.1 562.2,170.2 563.7,173.1 565.2,175.9 566.7,178.5 568.2,181.0 569.7,183.3 571.2,185.5 572.7,187.5 574.2,189.4 575.7,191.2 577.2,192.9 578.7,194.5 580.2,195.9 581.7,197.2 583.2,198.5 584.7,199.6 586.2,200.7 587.7,201.7 589.2,202.6 590.7,203.4 592.2,204.2 593.7,204.9 595.2,205.5 596.7,206.1 598.2,206.7 599.7,207.2 601.2,207.6 602.7,208.0 604.2,208.4 605.7,208.7 607.2,209.1 608.7,209.3 610.2,209.6 611.7,209.8 613.2,210.0 614.7,210.2 616.2,210.4 617.7,210.5 619.2,210.7 620.7,210.8 622.2,210.9 623.7,211.0 625.2,211.1 626.7,211.1 628.2,211.1 629.7,211.1 631.2,211.1 632.7,211.1 634.2,211.1 635.7,211.1 637.2,211.1 638.7,211.1 640.2,211.1 641.7,211.1 643.2,211.1 644.7,211.1 646.2,211.1 647.7,211.1 649.2,211.1 650.7,211.1 652.2,211.1 653.7,211.1 655.2,211.1 656.7,211.1 658.2,211.1 659.7,211.1 661.2,211.1 662.7,211.1 664.2,211.1 665.7,211.1 667.2,211.1 668.7,211.1 670.2,211.1 671.7,211.1 673.2,211.1 674.7,211.1 676.2,211.1 677.7,211.1 679.2,211.1 679.7,211.1" fill="none" stroke="#e03a34" stroke-width="1.0" stroke-linejoin="round"/>
<polyline points="395.7,211.1 397.2,211.1 398.7,211.1 400.2,211.1 401.7,211.1 403.2,211.1 404.7,211.1 406.2,211.1 407.7,211.1 409.2,211.1 410.7,211.1 412.2,211.1 413.7,211.1 415.2,211.1 416.7,211.1 418.2,211.1 419.7,211.1 421.2,211.1 422.7,211.1 424.2,211.1 425.7,211.1 427.2,211.1 428.7,211.1 430.2,211.1 431.7,211.1 433.2,211.1 434.7,211.1 436.2,211.1 437.7,211.1 439.2,211.1 440.7,210.9 442.2,210.6 443.7,210.2 445.2,209.8 446.7,209.2 448.2,208.5 449.7,207.7 451.2,206.7 452.7,205.5 454.2,204.1 455.7,202.4 457.2,200.5 458.7,198.3 460.2,195.8 461.7,193.0 463.2,189.8 464.7,186.2 466.2,182.2 467.7,177.9 469.2,173.2 470.7,168.0 472.2,162.5 473.7,156.7 475.2,150.4 476.7,143.9 478.2,137.0 479.7,129.9 481.2,122.6 482.7,115.1 484.2,107.4 485.7,99.8 487.2,92.1 488.7,84.5 490.2,77.0 491.7,69.7 493.2,62.7 494.7,56.0 496.2,49.7 497.7,43.7 499.2,38.3 500.7,33.4 502.2,29.0 503.7,25.3 505.2,22.2 506.7,19.7 508.2,17.9 509.7,16.8 511.2,16.3 512.7,16.4 514.2,17.1 515.7,18.2 517.2,19.8 518.7,21.8 520.2,24.2 521.7,27.0 523.2,30.2 524.7,33.7 526.2,37.6 527.7,41.7 529.2,46.0 530.7,50.6 532.2,55.4 533.7,60.3 535.2,65.4 536.7,70.5 538.2,75.7 539.7,81.0 541.2,86.3 542.7,91.6 544.2,96.8 545.7,102.1 547.2,107.2 548.7,112.3 550.2,117.3 551.7,122.2 553.2,127.0 554.7,131.6 556.2,136.1 557.7,140.5 559.2,144.7 560.7,148.7 562.2,152.6 563.7,156.4 565.2,159.9 566.7,163.4 568.2,166.6 569.7,169.7 571.2,172.6 572.7,175.4 574.2,178.0 575.7,180.5 577.2,182.8 578.7,185.0 580.2,187.0 581.7,189.0 583.2,190.8 584.7,192.4 586.2,194.0 587.7,195.5 589.2,196.8 590.7,198.1 592.2,199.3 593.7,200.3 595.2,201.3 596.7,202.3 598.2,203.1 599.7,203.9 601.2,204.6 602.7,205.3 604.2,205.9 605.7,206.4 607.2,206.9 608.7,207.4 610.2,207.8 611.7,208.2 613.2,208.6 614.7,208.9 616.2,209.2 617.7,209.4 619.2,209.7 620.7,209.9 622.2,210.1 623.7,210.3 625.2,210.4 626.7,210.6 628.2,210.7 629.7,210.8 631.2,210.9 632.7,211.0 634.2,211.1 635.7,211.1 637.2,211.1 638.7,211.1 640.2,211.1 641.7,211.1 643.2,211.1 644.7,211.1 646.2,211.1 647.7,211.1 649.2,211.1 650.7,211.1 652.2,211.1 653.7,211.1 655.2,211.1 656.7,211.1 658.2,211.1 659.7,211.1 661.2,211.1 662.7,211.1 664.2,211.1 665.7,211.1 667.2,211.1 668.7,211.1 670.2,211.1 671.7,211.1 673.2,211.1 674.7,211.1 676.2,211.1 677.7,211.1 679.2,211.1 679.7,211.1" fill="none" stroke="#3434d8" stroke-width="1.0" stroke-linejoin="round"/>
<polyline points="395.7,211.1 397.2,211.1 398.7,211.1 400.2,211.1 401.7,211.1 403.2,211.1 404.7,211.1 406.2,211.1 407.7,211.1 409.2,211.1 410.7,211.1 412.2,211.1 413.7,211.1 415.2,211.1 416.7,211.1 418.2,211.1 419.7,211.1 421.2,211.1 422.7,211.1 424.2,211.1 425.7,211.1 427.2,211.1 428.7,211.1 430.2,211.1 431.7,211.1 433.2,211.1 434.7,211.1 436.2,211.1 437.7,211.1 439.2,211.1 440.7,211.1 442.2,211.1 443.7,211.0 445.2,210.8 446.7,210.4 448.2,210.0 449.7,209.5 451.2,208.9 452.7,208.1 454.2,207.2 455.7,206.1 457.2,204.8 458.7,203.2 460.2,201.4 461.7,199.3 463.2,196.9 464.7,194.2 466.2,191.1 467.7,187.7 469.2,183.9 470.7,179.7 472.2,175.1 473.7,170.0 475.2,164.6 476.7,158.9 478.2,152.7 479.7,146.2 481.2,139.4 482.7,132.3 484.2,125.0 485.7,117.4 487.2,109.8 488.7,102.0 490.2,94.2 491.7,86.5 493.2,78.9 494.7,71.4 496.2,64.2 497.7,57.2 499.2,50.6 500.7,44.5 502.2,38.8 503.7,33.6 505.2,28.9 506.7,24.9 508.2,21.5 509.7,18.7 511.2,16.7 512.7,15.3 514.2,14.5 515.7,14.4 517.2,14.9 518.7,15.8 520.2,17.2 521.7,19.1 523.2,21.3 524.7,24.0 526.2,27.0 527.7,30.4 529.2,34.1 530.7,38.1 532.2,42.3 533.7,46.8 535.2,51.5 536.7,56.3 538.2,61.3 539.7,66.4 541.2,71.6 542.7,76.8 544.2,82.1 545.7,87.4 547.2,92.7 548.7,97.9 550.2,103.1 551.7,108.3 553.2,113.3 554.7,118.3 556.2,123.1 557.7,127.8 559.2,132.4 560.7,136.9 562.2,141.2 563.7,145.3 565.2,149.3 566.7,153.2 568.2,156.9 569.7,160.4 571.2,163.8 572.7,167.0 574.2,170.0 575.7,172.9 577.2,175.6 578.7,178.2 580.2,180.7 581.7,183.0 583.2,185.1 584.7,187.2 586.2,189.1 587.7,190.8 589.2,192.5 590.7,194.0 592.2,195.5 593.7,196.8 595.2,198.1 596.7,199.2 598.2,200.3 599.7,201.3 601.2,202.2 602.7,203.1 604.2,203.8 605.7,204.6 607.2,205.2 608.7,205.8 610.2,206.4 611.7,206.9 613.2,207.4 614.7,207.8 616.2,208.2 617.7,208.5 619.2,208.8 620.7,209.1 622.2,209.4 623.7,209.6 625.2,209.9 626.7,210.1 628.2,210.2 629.7,210.4 631.2,210.5 632.7,210.7 634.2,210.8 635.7,210.9 637.2,211.0 638.7,211.1 640.2,211.1 641.7,211.1 643.2,211.1 644.7,211.1 646.2,211.1 647.7,211.1 649.2,211.1 650.7,211.1 652.2,211.1 653.7,211.1 655.2,211.1 656.7,211.1 658.2,211.1 659.7,211.1 661.2,211.1 662.7,211.1 664.2,211.1 665.7,211.1 667.2,211.1 668.7,211.1 670.2,211.1 671.7,211.1 673.2,211.1 674.7,211.1 676.2,211.1 677.7,211.1 679.2,211.1 679.7,211.1" fill="none" stroke="#e070e6" stroke-width="1.3" stroke-linejoin="round"/>
<polyline points="395.7,211.1 397.2,211.1 398.7,211.1 400.2,211.1 401.7,211.1 403.2,211.1 404.7,211.1 406.2,211.1 407.7,211.1 409.2,211.1 410.7,211.1 412.2,211.1 413.7,211.1 415.2,211.1 416.7,211.1 418.2,211.1 419.7,211.1 421.2,211.1 422.7,211.1 424.2,211.1 425.7,211.1 427.2,211.1 428.7,211.1 430.2,211.1 431.7,211.1 433.2,211.1 434.7,211.1 436.2,211.1 437.7,211.1 439.2,211.1 440.7,211.1 442.2,211.1 443.7,211.1 445.2,211.1 446.7,211.1 448.2,210.8 449.7,210.5 451.2,210.1 452.7,209.7 454.2,209.1 455.7,208.3 457.2,207.4 458.7,206.4 460.2,205.1 461.7,203.6 463.2,201.9 464.7,199.9 466.2,197.6 467.7,194.9 469.2,191.9 470.7,188.6 472.2,184.9 473.7,180.8 475.2,176.3 476.7,171.4 478.2,166.1 479.7,160.5 481.2,154.4 482.7,148.1 484.2,141.4 485.7,134.4 487.2,127.1 488.7,119.7 490.2,112.2 491.7,104.5 493.2,96.8 494.7,89.2 496.2,81.6 497.7,74.2 499.2,67.0 500.7,60.1 502.2,53.6 503.7,47.4 505.2,41.7 506.7,36.6 508.2,31.9 509.7,27.9 511.2,24.5 512.7,21.7 514.2,19.6 515.7,18.1 517.2,17.3 518.7,17.2 520.2,17.6 521.7,18.5 523.2,19.8 524.7,21.6 526.2,23.7 527.7,26.3 529.2,29.2 530.7,32.5 532.2,36.0 533.7,39.9 535.2,44.0 536.7,48.3 538.2,52.9 539.7,57.6 541.2,62.4 542.7,67.4 544.2,72.4 545.7,77.5 547.2,82.7 548.7,87.9 550.2,93.0 551.7,98.2 553.2,103.3 554.7,108.3 556.2,113.3 557.7,118.1 559.2,122.9 560.7,127.6 562.2,132.1 563.7,136.5 565.2,140.8 566.7,144.9 568.2,148.8 569.7,152.7 571.2,156.3 572.7,159.8 574.2,163.2 575.7,166.4 577.2,169.4 578.7,172.3 580.2,175.0 581.7,177.6 583.2,180.1 584.7,182.4 586.2,184.5 587.7,186.6 589.2,188.5 590.7,190.3 592.2,192.0 593.7,193.5 595.2,195.0 596.7,196.4 598.2,197.6 599.7,198.8 601.2,199.9 602.7,200.9 604.2,201.9 605.7,202.7 607.2,203.5 608.7,204.3 610.2,204.9 611.7,205.6 613.2,206.1 614.7,206.6 616.2,207.1 617.7,207.6 619.2,208.0 620.7,208.3 622.2,208.7 623.7,209.0 625.2,209.3 626.7,209.5 628.2,209.7 629.7,209.9 631.2,210.1 632.7,210.3 634.2,210.5 635.7,210.6 637.2,210.7 638.7,210.8 640.2,210.9 641.7,211.0 643.2,211.1 644.7,211.1 646.2,211.1 647.7,211.1 649.2,211.1 650.7,211.1 652.2,211.1 653.7,211.1 655.2,211.1 656.7,211.1 658.2,211.1 659.7,211.1 661.2,211.1 662.7,211.1 664.2,211.1 665.7,211.1 667.2,211.1 668.7,211.1 670.2,211.1 671.7,211.1 673.2,211.1 674.7,211.1 676.2,211.1 677.7,211.1 679.2,211.1 679.7,211.1" fill="none" stroke="#2a962a" stroke-width="1.0" stroke-linejoin="round"/>
<polyline points="395.7,211.1 397.2,211.1 398.7,211.1 400.2,211.1 401.7,211.1 403.2,211.1 404.7,211.1 406.2,211.1 407.7,211.1 409.2,211.1 410.7,211.1 412.2,211.1 413.7,211.1 415.2,211.1 416.7,211.1 418.2,211.1 419.7,211.1 421.2,211.1 422.7,211.1 424.2,211.1 425.7,211.1 427.2,211.1 428.7,211.1 430.2,211.1 431.7,211.1 433.2,211.1 434.7,211.1 436.2,211.1 437.7,211.1 439.2,211.1 440.7,211.1 442.2,211.1 443.7,211.1 445.2,211.1 446.7,211.1 448.2,211.1 449.7,211.1 451.2,210.9 452.7,210.6 454.2,210.2 455.7,209.7 457.2,209.1 458.7,208.4 460.2,207.5 461.7,206.5 463.2,205.2 464.7,203.8 466.2,202.0 467.7,200.1 469.2,197.8 470.7,195.2 472.2,192.2 473.7,188.9 475.2,185.2 476.7,181.2 478.2,176.7 479.7,171.9 481.2,166.7 482.7,161.0 484.2,155.1 485.7,148.7 487.2,142.1 488.7,135.2 490.2,128.0 491.7,120.7 493.2,113.2 494.7,105.6 496.2,98.0 497.7,90.4 499.2,82.9 500.7,75.6 502.2,68.5 503.7,61.6 505.2,55.2 506.7,49.1 508.2,43.5 509.7,38.4 511.2,33.8 512.7,29.9 514.2,26.5 515.7,23.8 517.2,21.8 518.7,20.4 520.2,19.7 521.7,19.6 523.2,20.0 524.7,20.9 526.2,22.2 527.7,23.9 529.2,26.1 530.7,28.6 532.2,31.5 533.7,34.7 535.2,38.2 536.7,41.9 538.2,45.9 539.7,50.2 541.2,54.6 542.7,59.2 544.2,64.0 545.7,68.8 547.2,73.8 548.7,78.8 550.2,83.8 551.7,88.9 553.2,94.0 554.7,99.0 556.2,104.0 557.7,109.0 559.2,113.8 560.7,118.6 562.2,123.3 563.7,127.9 565.2,132.4 566.7,136.7 568.2,140.9 569.7,145.0 571.2,148.9 572.7,152.6 574.2,156.3 575.7,159.7 577.2,163.0 578.7,166.2 580.2,169.2 581.7,172.1 583.2,174.8 584.7,177.4 586.2,179.8 587.7,182.1 589.2,184.3 590.7,186.3 592.2,188.2 593.7,190.0 595.2,191.7 596.7,193.3 598.2,194.7 599.7,196.1 601.2,197.4 602.7,198.6 604.2,199.7 605.7,200.7 607.2,201.6 608.7,202.5 610.2,203.3 611.7,204.1 613.2,204.7 614.7,205.4 616.2,206.0 617.7,206.5 619.2,207.0 620.7,207.4 622.2,207.8 623.7,208.2 625.2,208.6 626.7,208.9 628.2,209.2 629.7,209.4 631.2,209.6 632.7,209.9 634.2,210.1 635.7,210.2 637.2,210.4 638.7,210.5 640.2,210.7 641.7,210.8 643.2,210.9 644.7,211.0 646.2,211.1 647.7,211.1 649.2,211.1 650.7,211.1 652.2,211.1 653.7,211.1 655.2,211.1 656.7,211.1 658.2,211.1 659.7,211.1 661.2,211.1 662.7,211.1 664.2,211.1 665.7,211.1 667.2,211.1 668.7,211.1 670.2,211.1 671.7,211.1 673.2,211.1 674.7,211.1 676.2,211.1 677.7,211.1 679.2,211.1 679.7,211.1" fill="none" stroke="#2c2c86" stroke-width="1.0" stroke-linejoin="round"/>
<polyline points="395.7,211.1 397.2,211.1 398.7,211.1 400.2,211.1 401.7,211.1 403.2,211.1 404.7,211.1 406.2,211.1 407.7,211.1 409.2,211.1 410.7,211.1 412.2,211.1 413.7,211.1 415.2,211.1 416.7,211.1 418.2,211.1 419.7,211.1 421.2,211.1 422.7,211.1 424.2,211.1 425.7,211.1 427.2,211.1 428.7,211.1 430.2,211.1 431.7,211.1 433.2,211.1 434.7,211.1 436.2,211.1 437.7,211.1 439.2,211.1 440.7,211.1 442.2,211.1 443.7,211.1 445.2,211.1 446.7,211.1 448.2,211.1 449.7,211.1 451.2,211.1 452.7,211.1 454.2,211.0 455.7,210.7 457.2,210.3 458.7,209.7 460.2,209.1 461.7,208.4 463.2,207.6 464.7,206.6 466.2,205.4 467.7,204.0 469.2,202.3 470.7,200.5 472.2,198.5 473.7,196.2 475.2,193.5 476.7,190.2 478.2,186.5 479.7,182.3 481.2,177.9 482.7,173.2 484.2,168.0 485.7,162.6 487.2,157.0 488.7,151.0 490.2,144.7 491.7,138.0 493.2,131.1 494.7,124.0 496.2,116.4 497.7,108.7 499.2,100.9 500.7,93.2 502.2,85.7 503.7,78.3 505.2,71.2 506.7,65.0 508.2,59.1 509.7,53.6 511.2,48.2 512.7,43.2 514.2,38.8 515.7,34.5 517.2,30.6 518.7,27.2 520.2,24.7 521.7,23.4 523.2,22.8 524.7,22.9 526.2,23.4 527.7,24.4 529.2,25.9 530.7,27.2 532.2,28.6 533.7,30.3 535.2,32.7 536.7,36.5 538.2,40.6 539.7,45.0 541.2,48.7 542.7,52.4 544.2,56.4 545.7,61.0 547.2,66.1 548.7,71.4 550.2,76.4 551.7,80.5 553.2,84.6 554.7,88.7 556.2,93.9 557.7,99.1 559.2,104.4 560.7,109.2 562.2,113.7 563.7,118.2 565.2,122.6 566.7,127.2 568.2,131.5 569.7,135.8 571.2,140.0 572.7,144.1 574.2,148.1 575.7,152.1 577.2,156.1 578.7,159.9 580.2,163.4 581.7,166.5 583.2,169.4 584.7,172.2 586.2,174.9 587.7,177.5 589.2,179.9 590.7,182.2 592.2,184.3 593.7,186.2 595.2,188.0 596.7,189.5 598.2,191.0 599.7,192.3 601.2,193.8 602.7,195.3 604.2,196.6 605.7,197.8 607.2,198.9 608.7,199.9 610.2,200.9 611.7,202.0 613.2,202.9 614.7,203.8 616.2,204.5 617.7,205.1 619.2,205.6 620.7,206.2 622.2,206.7 623.7,207.2 625.2,207.6 626.7,207.9 628.2,208.2 629.7,208.5 631.2,208.8 632.7,209.1 634.2,209.4 635.7,209.7 637.2,209.9 638.7,210.2 640.2,210.3 641.7,210.5 643.2,210.6 644.7,210.7 646.2,210.8 647.7,210.9 649.2,210.9 650.7,211.0 652.2,211.1 653.7,211.1 655.2,211.1 656.7,211.1 658.2,211.1 659.7,211.1 661.2,211.1 662.7,211.1 664.2,211.1 665.7,211.1 667.2,211.1 668.7,211.1 670.2,211.1 671.7,211.1 673.2,211.1 674.7,211.1 676.2,211.1 677.7,211.1 679.2,211.1 679.7,211.1" fill="none" stroke="#9050f4" stroke-width="1.3" stroke-linejoin="round"/>
<polyline points="395.7,211.1 397.2,211.1 398.7,211.1 400.2,211.1 401.7,211.1 403.2,211.1 404.7,211.1 406.2,211.1 407.7,211.1 409.2,211.1 410.7,211.1 412.2,211.1 413.7,211.1 415.2,211.1 416.7,211.1 418.2,211.1 419.7,211.1 421.2,211.1 422.7,211.1 424.2,211.1 425.7,211.1 427.2,211.1 428.7,211.1 430.2,211.1 431.7,211.1 433.2,211.1 434.7,211.1 436.2,211.1 437.7,211.1 439.2,211.1 440.7,211.1 442.2,211.1 443.7,211.1 445.2,211.1 446.7,211.1 448.2,211.1 449.7,211.1 451.2,211.1 452.7,211.1 454.2,211.1 455.7,211.1 457.2,211.1 458.7,210.8 460.2,210.5 461.7,210.0 463.2,209.4 464.7,208.6 466.2,207.9 467.7,207.0 469.2,206.0 470.7,204.6 472.2,202.9 473.7,201.0 475.2,198.8 476.7,196.5 478.2,194.0 479.7,191.2 481.2,187.7 482.7,183.7 484.2,179.4 485.7,175.0 487.2,170.6 488.7,165.9 490.2,160.7 491.7,154.3 493.2,147.6 494.7,140.5 496.2,133.8 497.7,126.9 499.2,119.9 500.7,112.4 502.2,104.5 503.7,96.6 505.2,88.8 506.7,81.9 508.2,75.2 509.7,68.7 511.2,61.8 512.7,55.1 514.2,48.8 515.7,43.8 517.2,40.0 518.7,36.8 520.2,34.0 521.7,30.9 523.2,28.4 524.7,26.6 526.2,25.8 527.7,25.8 529.2,26.3 530.7,26.9 532.2,27.6 533.7,28.8 535.2,30.5 536.7,32.9 538.2,35.8 539.7,38.9 541.2,42.7 542.7,46.7 544.2,51.0 545.7,55.0 547.2,58.8 548.7,62.8 550.2,66.9 551.7,71.2 553.2,75.6 554.7,80.0 556.2,85.2 557.7,90.6 559.2,95.9 560.7,100.3 562.2,104.0 563.7,107.7 565.2,111.7 566.7,117.4 568.2,122.8 569.7,128.2 571.2,132.7 572.7,136.9 574.2,141.1 575.7,144.8 577.2,148.1 578.7,151.3 580.2,154.6 581.7,158.2 583.2,161.7 584.7,165.0 586.2,167.9 587.7,170.6 589.2,173.2 590.7,175.9 592.2,178.5 593.7,180.9 595.2,183.2 596.7,185.1 598.2,187.0 599.7,188.7 601.2,190.4 602.7,191.9 604.2,193.4 605.7,194.8 607.2,196.1 608.7,197.3 610.2,198.5 611.7,199.7 613.2,200.8 614.7,201.9 616.2,202.8 617.7,203.6 619.2,204.3 620.7,205.0 622.2,205.7 623.7,206.2 625.2,206.8 626.7,207.3 628.2,207.7 629.7,208.1 631.2,208.4 632.7,208.7 634.2,209.0 635.7,209.2 637.2,209.4 638.7,209.6 640.2,209.8 641.7,210.0 643.2,210.2 644.7,210.3 646.2,210.5 647.7,210.6 649.2,210.8 650.7,210.9 652.2,211.0 653.7,211.1 655.2,211.1 656.7,211.1 658.2,211.1 659.7,211.1 661.2,211.1 662.7,211.1 664.2,211.1 665.7,211.1 667.2,211.1 668.7,211.1 670.2,211.1 671.7,211.1 673.2,211.1 674.7,211.1 676.2,211.1 677.7,211.1 679.2,211.1 679.7,211.1" fill="none" stroke="#8c3090" stroke-width="1.0" stroke-linejoin="round"/>
<rect x="394.9" y="1.8" width="285.6" height="210.0" fill="none" stroke="#000" stroke-width="1.8"/>
<line x1="423.5" y1="211.8" x2="423.5" y2="203.8" stroke="#000" stroke-width="1.6"/>
<text x="423.5" y="231.3" text-anchor="middle" class="tl">-3.6</text>
<line x1="480.6" y1="211.8" x2="480.6" y2="203.8" stroke="#000" stroke-width="1.6"/>
<text x="480.6" y="231.3" text-anchor="middle" class="tl">-3.4</text>
<line x1="537.7" y1="211.8" x2="537.7" y2="203.8" stroke="#000" stroke-width="1.6"/>
<text x="537.7" y="231.3" text-anchor="middle" class="tl">-3.2</text>
<line x1="594.8" y1="211.8" x2="594.8" y2="203.8" stroke="#000" stroke-width="1.6"/>
<text x="594.8" y="231.3" text-anchor="middle" class="tl">-3.0</text>
<line x1="651.9" y1="211.8" x2="651.9" y2="203.8" stroke="#000" stroke-width="1.6"/>
<text x="651.9" y="231.3" text-anchor="middle" class="tl">-2.8</text>
<line x1="452.0" y1="211.8" x2="452.0" y2="207.3" stroke="#000" stroke-width="1.6"/>
<line x1="509.1" y1="211.8" x2="509.1" y2="207.3" stroke="#000" stroke-width="1.6"/>
<line x1="566.3" y1="211.8" x2="566.3" y2="207.3" stroke="#000" stroke-width="1.6"/>
<line x1="623.4" y1="211.8" x2="623.4" y2="207.3" stroke="#000" stroke-width="1.6"/>
<line x1="394.9" y1="211.8" x2="402.9" y2="211.8" stroke="#000" stroke-width="1.6"/>
<text x="385.9" y="216.3" text-anchor="end" class="tl">0</text>
<line x1="394.9" y1="165.1" x2="402.9" y2="165.1" stroke="#000" stroke-width="1.6"/>
<text x="385.9" y="169.6" text-anchor="end" class="tl">1</text>
<line x1="394.9" y1="118.5" x2="402.9" y2="118.5" stroke="#000" stroke-width="1.6"/>
<text x="385.9" y="123.0" text-anchor="end" class="tl">2</text>
<line x1="394.9" y1="71.8" x2="402.9" y2="71.8" stroke="#000" stroke-width="1.6"/>
<text x="385.9" y="76.3" text-anchor="end" class="tl">3</text>
<line x1="394.9" y1="25.1" x2="402.9" y2="25.1" stroke="#000" stroke-width="1.6"/>
<text x="385.9" y="29.6" text-anchor="end" class="tl">4</text>
<line x1="394.9" y1="188.5" x2="399.4" y2="188.5" stroke="#000" stroke-width="1.6"/>
<line x1="394.9" y1="141.8" x2="399.4" y2="141.8" stroke="#000" stroke-width="1.6"/>
<line x1="394.9" y1="95.1" x2="399.4" y2="95.1" stroke="#000" stroke-width="1.6"/>
<line x1="394.9" y1="48.5" x2="399.4" y2="48.5" stroke="#000" stroke-width="1.6"/>
<text x="512.3" y="255.3" class="at"><tspan font-style="italic">E</tspan><tspan class="sub" dy="6">p</tspan><tspan dy="-6"> (eV)</tspan></text>
<text transform="translate(366.5,118.5) rotate(-90)" text-anchor="middle" class="at"><tspan font-style="italic">P</tspan>(<tspan font-style="italic">E</tspan><tspan class="sub" dy="6">p</tspan><tspan dy="-6">)</tspan></text>
<text x="398.5" y="19.8" class="pl">(b)</text>
<line x1="400.2" y1="41.9" x2="423.8" y2="41.9" stroke="#111" stroke-width="1.7" stroke-dasharray="4 2.6"/>
<text x="426.5" y="45.9" class="lg">Total</text>
<line x1="400.2" y1="57.4" x2="423.8" y2="57.4" stroke="#e03a34" stroke-width="1.0"/>
<text x="426.5" y="61.4" class="lg"><tspan class="lgN">N</tspan><tspan class="lsub" dx="-1" dy="4.5">Q</tspan><tspan dy="-4.5"> = 0</tspan></text>
<line x1="400.2" y1="76.9" x2="423.8" y2="76.9" stroke="#3434d8" stroke-width="1.1"/>
<text x="426.5" y="80.9" class="lg"><tspan class="lgN">N</tspan><tspan class="lsub" dx="-1" dy="4.5">Q</tspan><tspan dy="-4.5"> = 1</tspan></text>
<line x1="400.2" y1="96.4" x2="423.8" y2="96.4" stroke="#e070e6" stroke-width="1.6"/>
<text x="426.5" y="100.4" class="lg"><tspan class="lgN">N</tspan><tspan class="lsub" dx="-1" dy="4.5">Q</tspan><tspan dy="-4.5"> = 2</tspan></text>
<line x1="400.2" y1="115.9" x2="423.8" y2="115.9" stroke="#2a962a" stroke-width="1.0"/>
<text x="426.5" y="119.9" class="lg"><tspan class="lgN">N</tspan><tspan class="lsub" dx="-1" dy="4.5">Q</tspan><tspan dy="-4.5"> = 3</tspan></text>
<line x1="400.2" y1="135.4" x2="423.8" y2="135.4" stroke="#2c2c86" stroke-width="1.1"/>
<text x="426.5" y="139.4" class="lg"><tspan class="lgN">N</tspan><tspan class="lsub" dx="-1" dy="4.5">Q</tspan><tspan dy="-4.5"> = 4</tspan></text>
<line x1="400.2" y1="154.9" x2="423.8" y2="154.9" stroke="#9050f4" stroke-width="1.6"/>
<text x="426.5" y="158.9" class="lg"><tspan class="lgN">N</tspan><tspan class="lsub" dx="-1" dy="4.5">Q</tspan><tspan dy="-4.5"> = 5</tspan></text>
<line x1="400.2" y1="174.4" x2="423.8" y2="174.4" stroke="#8c3090" stroke-width="1.1"/>
<text x="426.5" y="178.4" class="lg"><tspan class="lgN">N</tspan><tspan class="lsub" dx="-1" dy="4.5">Q</tspan><tspan dy="-4.5"> = 6</tspan></text>
<text x="580.4" y="148.5" class="ml">Cu (Zr<tspan class="msub" dy="6.5">50</tspan><tspan dy="-6.5">Cu</tspan><tspan class="msub" dy="6.5">50</tspan><tspan dy="-6.5">)</tspan></text>
<rect x="569.7" y="4.4" width="110.1" height="83.6" fill="#fff" stroke="#000" stroke-width="1.3"/>
<line x1="569.7" y1="88.0" x2="569.7" y2="84.0" stroke="#000" stroke-width="1"/>
<text x="569.7" y="99.5" text-anchor="middle" class="il">0</text>
<line x1="585.4" y1="88.0" x2="585.4" y2="84.0" stroke="#000" stroke-width="1"/>
<text x="585.4" y="99.5" text-anchor="middle" class="il">1</text>
<line x1="601.2" y1="88.0" x2="601.2" y2="84.0" stroke="#000" stroke-width="1"/>
<text x="601.2" y="99.5" text-anchor="middle" class="il">2</text>
<line x1="616.9" y1="88.0" x2="616.9" y2="84.0" stroke="#000" stroke-width="1"/>
<text x="616.9" y="99.5" text-anchor="middle" class="il">3</text>
<line x1="632.6" y1="88.0" x2="632.6" y2="84.0" stroke="#000" stroke-width="1"/>
<text x="632.6" y="99.5" text-anchor="middle" class="il">4</text>
<line x1="648.3" y1="88.0" x2="648.3" y2="84.0" stroke="#000" stroke-width="1"/>
<text x="648.3" y="99.5" text-anchor="middle" class="il">5</text>
<line x1="664.1" y1="88.0" x2="664.1" y2="84.0" stroke="#000" stroke-width="1"/>
<text x="664.1" y="99.5" text-anchor="middle" class="il">6</text>
<line x1="679.8" y1="88.0" x2="679.8" y2="84.0" stroke="#000" stroke-width="1"/>
<text x="679.8" y="99.5" text-anchor="middle" class="il">7</text>
<line x1="577.6" y1="88.0" x2="577.6" y2="85.5" stroke="#000" stroke-width="1"/>
<line x1="593.3" y1="88.0" x2="593.3" y2="85.5" stroke="#000" stroke-width="1"/>
<line x1="609.0" y1="88.0" x2="609.0" y2="85.5" stroke="#000" stroke-width="1"/>
<line x1="624.8" y1="88.0" x2="624.8" y2="85.5" stroke="#000" stroke-width="1"/>
<line x1="640.5" y1="88.0" x2="640.5" y2="85.5" stroke="#000" stroke-width="1"/>
<line x1="656.2" y1="88.0" x2="656.2" y2="85.5" stroke="#000" stroke-width="1"/>
<line x1="671.9" y1="88.0" x2="671.9" y2="85.5" stroke="#000" stroke-width="1"/>
<line x1="569.7" y1="23.3" x2="573.7" y2="23.3" stroke="#000" stroke-width="1"/>
<text x="566.7" y="26.5" text-anchor="end" class="il">-3.20</text>
<line x1="569.7" y1="49.6" x2="573.7" y2="49.6" stroke="#000" stroke-width="1"/>
<text x="566.7" y="52.8" text-anchor="end" class="il">-3.24</text>
<line x1="569.7" y1="75.9" x2="573.7" y2="75.9" stroke="#000" stroke-width="1"/>
<text x="566.7" y="79.1" text-anchor="end" class="il">-3.28</text>
<line x1="569.7" y1="10.5" x2="572.2" y2="10.5" stroke="#000" stroke-width="1"/>
<line x1="569.7" y1="36.4" x2="572.2" y2="36.4" stroke="#000" stroke-width="1"/>
<line x1="569.7" y1="62.5" x2="572.2" y2="62.5" stroke="#000" stroke-width="1"/>
<polyline points="569.7,78.8 585.4,65.3 601.2,57.3 616.9,49.6 632.6,42.2 648.3,34.2 664.1,25.4 679.8,14.5" fill="none" stroke="#000" stroke-width="1.1"/>
<rect x="567.7" y="76.8" width="4" height="4" fill="#fff" stroke="#000" stroke-width="1"/>
<rect x="583.4" y="63.3" width="4" height="4" fill="#fff" stroke="#000" stroke-width="1"/>
<rect x="599.2" y="55.3" width="4" height="4" fill="#fff" stroke="#000" stroke-width="1"/>
<rect x="614.9" y="47.6" width="4" height="4" fill="#fff" stroke="#000" stroke-width="1"/>
<rect x="630.6" y="40.2" width="4" height="4" fill="#fff" stroke="#000" stroke-width="1"/>
<rect x="646.3" y="32.2" width="4" height="4" fill="#fff" stroke="#000" stroke-width="1"/>
<rect x="662.1" y="23.4" width="4" height="4" fill="#fff" stroke="#000" stroke-width="1"/>
<rect x="677.8" y="12.5" width="4" height="4" fill="#fff" stroke="#000" stroke-width="1"/>
<text x="624.8" y="114.0" text-anchor="middle" class="iat"><tspan font-style="italic">N</tspan><tspan font-size="6.5" font-style="italic" dy="3">Q</tspan></text>
<text transform="translate(542.0,39.0) rotate(-90)" text-anchor="middle" class="iat">&lt;<tspan font-style="italic">E</tspan><tspan font-size="6.5" font-style="italic" dy="2.5">p</tspan><tspan dy="-2.5">&gt;</tspan></text>
<polyline points="48.6,487.9 50.1,487.9 51.6,487.9 53.1,487.9 54.6,487.9 56.1,487.9 57.6,487.9 59.1,487.9 60.6,487.9 62.1,487.9 63.6,487.9 65.1,487.9 66.6,487.9 68.1,487.9 69.6,487.9 71.1,487.9 72.6,487.9 74.1,487.9 75.6,487.9 77.1,487.9 78.6,487.9 80.1,487.9 81.6,487.9 83.1,487.9 84.6,487.9 86.1,487.8 87.6,487.6 89.1,487.3 90.6,487.0 92.1,486.7 93.6,486.3 95.1,485.8 96.6,485.2 98.1,484.5 99.6,483.7 101.1,482.8 102.6,481.7 104.1,480.5 105.6,479.0 107.1,477.4 108.6,475.6 110.1,473.5 111.6,471.1 113.1,468.5 114.6,465.6 116.1,462.3 117.6,458.8 119.1,454.9 120.6,450.6 122.1,446.0 123.6,441.0 125.1,435.7 126.6,430.0 128.1,424.0 129.6,417.7 131.1,411.1 132.6,404.3 134.1,397.2 135.6,389.9 137.1,382.6 138.6,375.1 140.1,367.7 141.6,360.3 143.1,353.0 144.6,346.0 146.1,339.2 147.6,332.7 149.1,326.7 150.6,321.1 152.1,316.1 153.6,311.7 155.1,307.9 156.6,304.9 158.1,302.6 159.6,301.0 161.1,300.3 162.6,300.3 164.1,300.9 165.6,302.2 167.1,303.9 168.6,306.3 170.1,309.1 171.6,312.4 173.1,316.1 174.6,320.2 176.1,324.7 177.6,329.5 179.1,334.6 180.6,339.9 182.1,345.3 183.6,350.9 185.1,356.7 186.6,362.5 188.1,368.3 189.6,374.1 191.1,379.9 192.6,385.6 194.1,391.3 195.6,396.8 197.1,402.3 198.6,407.5 200.1,412.6 201.6,417.6 203.1,422.3 204.6,426.9 206.1,431.2 207.6,435.4 209.1,439.3 210.6,443.1 212.1,446.6 213.6,449.9 215.1,453.1 216.6,456.0 218.1,458.8 219.6,461.3 221.1,463.7 222.6,465.9 224.1,468.0 225.6,469.9 227.1,471.6 228.6,473.2 230.1,474.7 231.6,476.1 233.1,477.3 234.6,478.5 236.1,479.5 237.6,480.4 239.1,481.3 240.6,482.1 242.1,482.8 243.6,483.4 245.1,484.0 246.6,484.5 248.1,484.9 249.6,485.4 251.1,485.7 252.6,486.1 254.1,486.4 255.6,486.6 257.1,486.9 258.6,487.1 260.1,487.3 261.6,487.4 263.1,487.6 264.6,487.7 266.1,487.8 267.6,487.9 269.1,487.9 270.6,487.9 272.1,487.9 273.6,487.9 275.1,487.9 276.6,487.9 278.1,487.9 279.6,487.9 281.1,487.9 282.6,487.9 284.1,487.9 285.6,487.9 287.1,487.9 288.6,487.9 290.1,487.9 291.6,487.9 293.1,487.9 294.6,487.9 296.1,487.9 297.6,487.9 299.1,487.9 300.6,487.9 302.1,487.9 303.6,487.9 305.1,487.9 306.6,487.9 308.1,487.9 309.6,487.9 311.1,487.9 312.6,487.9 314.1,487.9 315.6,487.9 317.1,487.9 318.6,487.9 320.1,487.9 321.6,487.9 323.1,487.9 324.6,487.9 326.1,487.9 327.6,487.9 329.1,487.9 330.6,487.9 332.1,487.9 333.6,487.9 335.1,487.9 336.6,487.9 338.1,487.9 338.5,487.9" fill="none" stroke="#1a1a1a" stroke-width="1.7" stroke-dasharray="3.6 2.6"/>
<polyline points="48.6,487.9 50.1,487.9 51.6,487.9 53.1,487.9 54.6,487.9 56.1,487.9 57.6,487.9 59.1,487.9 60.6,487.9 62.1,487.9 63.6,487.9 65.1,487.9 66.6,487.9 68.1,487.9 69.6,487.9 71.1,487.9 72.6,487.9 74.1,487.9 75.6,487.9 77.1,487.9 78.6,487.7 80.1,487.5 81.6,487.2 83.1,486.9 84.6,486.5 86.1,486.1 87.6,485.5 89.1,484.9 90.6,484.1 92.1,483.3 93.6,482.2 95.1,481.0 96.6,479.7 98.1,478.1 99.6,476.3 101.1,474.2 102.6,471.9 104.1,469.3 105.6,466.4 107.1,463.1 108.6,459.5 110.1,455.5 111.6,451.2 113.1,446.5 114.6,441.4 116.1,435.9 117.6,430.0 119.1,423.8 120.6,417.2 122.1,410.3 123.6,403.1 125.1,395.7 126.6,388.0 128.1,380.2 129.6,372.3 131.1,364.4 132.6,356.5 134.1,348.7 135.6,341.2 137.1,333.9 138.6,326.9 140.1,320.4 141.6,314.4 143.1,309.0 144.6,304.2 146.1,300.1 147.6,296.8 149.1,294.3 150.6,292.6 152.1,291.7 153.6,291.7 155.1,292.6 156.6,294.1 158.1,296.4 159.6,299.4 161.1,303.0 162.6,307.2 164.1,311.9 165.6,317.1 167.1,322.6 168.6,328.6 170.1,334.8 171.6,341.2 173.1,347.8 174.6,354.6 176.1,361.4 177.6,368.1 179.1,374.9 180.6,381.6 182.1,388.2 183.6,394.6 185.1,400.8 186.6,406.9 188.1,412.7 189.6,418.3 191.1,423.7 192.6,428.7 194.1,433.6 195.6,438.1 197.1,442.4 198.6,446.4 200.1,450.2 201.6,453.7 203.1,456.9 204.6,459.9 206.1,462.7 207.6,465.3 209.1,467.6 210.6,469.8 212.1,471.8 213.6,473.5 215.1,475.2 216.6,476.6 218.1,478.0 219.6,479.2 221.1,480.3 222.6,481.2 224.1,482.1 225.6,482.9 227.1,483.6 228.6,484.2 230.1,484.7 231.6,485.2 233.1,485.6 234.6,486.0 236.1,486.4 237.6,486.7 239.1,486.9 240.6,487.1 242.1,487.3 243.6,487.5 245.1,487.7 246.6,487.8 248.1,487.9 249.6,487.9 251.1,487.9 252.6,487.9 254.1,487.9 255.6,487.9 257.1,487.9 258.6,487.9 260.1,487.9 261.6,487.9 263.1,487.9 264.6,487.9 266.1,487.9 267.6,487.9 269.1,487.9 270.6,487.9 272.1,487.9 273.6,487.9 275.1,487.9 276.6,487.9 278.1,487.9 279.6,487.9 281.1,487.9 282.6,487.9 284.1,487.9 285.6,487.9 287.1,487.9 288.6,487.9 290.1,487.9 291.6,487.9 293.1,487.9 294.6,487.9 296.1,487.9 297.6,487.9 299.1,487.9 300.6,487.9 302.1,487.9 303.6,487.9 305.1,487.9 306.6,487.9 308.1,487.9 309.6,487.9 311.1,487.9 312.6,487.9 314.1,487.9 315.6,487.9 317.1,487.9 318.6,487.9 320.1,487.9 321.6,487.9 323.1,487.9 324.6,487.9 326.1,487.9 327.6,487.9 329.1,487.9 330.6,487.9 332.1,487.9 333.6,487.9 335.1,487.9 336.6,487.9 338.1,487.9 338.5,487.9" fill="none" stroke="#e03a34" stroke-width="1.0" stroke-linejoin="round"/>
<polyline points="48.6,487.9 50.1,487.9 51.6,487.9 53.1,487.9 54.6,487.9 56.1,487.9 57.6,487.9 59.1,487.9 60.6,487.9 62.1,487.9 63.6,487.9 65.1,487.9 66.6,487.9 68.1,487.9 69.6,487.9 71.1,487.9 72.6,487.9 74.1,487.9 75.6,487.9 77.1,487.9 78.6,487.9 80.1,487.9 81.6,487.9 83.1,487.9 84.6,487.7 86.1,487.5 87.6,487.2 89.1,486.9 90.6,486.5 92.1,486.0 93.6,485.4 95.1,484.8 96.6,484.0 98.1,483.0 99.6,481.9 101.1,480.7 102.6,479.2 104.1,477.5 105.6,475.6 107.1,473.4 108.6,471.0 110.1,468.2 111.6,465.1 113.1,461.6 114.6,457.8 116.1,453.5 117.6,448.9 119.1,443.9 120.6,438.5 122.1,432.6 123.6,426.4 125.1,419.8 126.6,412.9 128.1,405.6 129.6,398.0 131.1,390.2 132.6,382.2 134.1,374.1 135.6,365.9 137.1,357.7 138.6,349.6 140.1,341.7 141.6,334.1 143.1,326.7 144.6,319.8 146.1,313.5 147.6,307.7 149.1,302.5 150.6,298.1 152.1,294.4 153.6,291.6 155.1,289.7 156.6,288.6 158.1,288.5 159.6,289.1 161.1,290.5 162.6,292.5 164.1,295.2 165.6,298.6 167.1,302.5 168.6,306.9 170.1,311.8 171.6,317.1 173.1,322.8 174.6,328.7 176.1,335.0 177.6,341.4 179.1,347.9 180.6,354.6 182.1,361.2 183.6,367.9 185.1,374.6 186.6,381.1 188.1,387.6 189.6,393.9 191.1,400.0 192.6,405.9 194.1,411.6 195.6,417.1 197.1,422.4 198.6,427.4 200.1,432.2 201.6,436.7 203.1,440.9 204.6,444.9 206.1,448.7 207.6,452.2 209.1,455.5 210.6,458.5 212.1,461.3 213.6,463.9 215.1,466.3 216.6,468.5 218.1,470.5 219.6,472.4 221.1,474.1 222.6,475.6 224.1,477.0 225.6,478.2 227.1,479.4 228.6,480.4 230.1,481.3 231.6,482.2 233.1,482.9 234.6,483.6 236.1,484.2 237.6,484.7 239.1,485.2 240.6,485.6 242.1,486.0 243.6,486.3 245.1,486.6 246.6,486.9 248.1,487.1 249.6,487.3 251.1,487.5 252.6,487.6 254.1,487.7 255.6,487.9 257.1,487.9 258.6,487.9 260.1,487.9 261.6,487.9 263.1,487.9 264.6,487.9 266.1,487.9 267.6,487.9 269.1,487.9 270.6,487.9 272.1,487.9 273.6,487.9 275.1,487.9 276.6,487.9 278.1,487.9 279.6,487.9 281.1,487.9 282.6,487.9 284.1,487.9 285.6,487.9 287.1,487.9 288.6,487.9 290.1,487.9 291.6,487.9 293.1,487.9 294.6,487.9 296.1,487.9 297.6,487.9 299.1,487.9 300.6,487.9 302.1,487.9 303.6,487.9 305.1,487.9 306.6,487.9 308.1,487.9 309.6,487.9 311.1,487.9 312.6,487.9 314.1,487.9 315.6,487.9 317.1,487.9 318.6,487.9 320.1,487.9 321.6,487.9 323.1,487.9 324.6,487.9 326.1,487.9 327.6,487.9 329.1,487.9 330.6,487.9 332.1,487.9 333.6,487.9 335.1,487.9 336.6,487.9 338.1,487.9 338.5,487.9" fill="none" stroke="#3434d8" stroke-width="1.0" stroke-linejoin="round"/>
<polyline points="48.6,487.9 50.1,487.9 51.6,487.9 53.1,487.9 54.6,487.9 56.1,487.9 57.6,487.9 59.1,487.9 60.6,487.9 62.1,487.9 63.6,487.9 65.1,487.9 66.6,487.9 68.1,487.9 69.6,487.9 71.1,487.9 72.6,487.9 74.1,487.9 75.6,487.9 77.1,487.9 78.6,487.9 80.1,487.9 81.6,487.9 83.1,487.9 84.6,487.9 86.1,487.9 87.6,487.9 89.1,487.8 90.6,487.6 92.1,487.3 93.6,487.0 95.1,486.7 96.6,486.2 98.1,485.7 99.6,485.1 101.1,484.3 102.6,483.4 104.1,482.4 105.6,481.2 107.1,479.8 108.6,478.2 110.1,476.3 111.6,474.2 113.1,471.8 114.6,469.0 116.1,466.0 117.6,462.6 119.1,458.8 120.6,454.6 122.1,450.0 123.6,445.1 125.1,439.7 126.6,433.8 128.1,427.6 129.6,421.0 131.1,414.0 132.6,406.7 134.1,399.1 135.6,391.3 137.1,383.2 138.6,375.1 140.1,366.8 141.6,358.6 143.1,350.5 144.6,342.5 146.1,334.8 147.6,327.5 149.1,320.6 150.6,314.2 152.1,308.4 153.6,303.3 155.1,299.0 156.6,295.5 158.1,292.8 159.6,291.0 161.1,290.1 162.6,290.1 164.1,290.9 165.6,292.3 167.1,294.4 168.6,297.1 170.1,300.3 171.6,304.1 173.1,308.4 174.6,313.1 176.1,318.3 177.6,323.7 179.1,329.4 180.6,335.4 182.1,341.6 183.6,347.9 185.1,354.3 186.6,360.7 188.1,367.2 189.6,373.6 191.1,380.0 192.6,386.2 194.1,392.3 195.6,398.3 197.1,404.1 198.6,409.7 200.1,415.2 201.6,420.3 203.1,425.3 204.6,430.0 206.1,434.5 207.6,438.8 209.1,442.8 210.6,446.6 212.1,450.1 213.6,453.4 215.1,456.5 216.6,459.4 218.1,462.1 219.6,464.5 221.1,466.8 222.6,468.9 224.1,470.8 225.6,472.6 227.1,474.2 228.6,475.7 230.1,477.1 231.6,478.3 233.1,479.4 234.6,480.4 236.1,481.3 237.6,482.1 239.1,482.8 240.6,483.5 242.1,484.1 243.6,484.6 245.1,485.1 246.6,485.5 248.1,485.9 249.6,486.2 251.1,486.5 252.6,486.8 254.1,487.0 255.6,487.2 257.1,487.4 258.6,487.5 260.1,487.7 261.6,487.8 263.1,487.9 264.6,487.9 266.1,487.9 267.6,487.9 269.1,487.9 270.6,487.9 272.1,487.9 273.6,487.9 275.1,487.9 276.6,487.9 278.1,487.9 279.6,487.9 281.1,487.9 282.6,487.9 284.1,487.9 285.6,487.9 287.1,487.9 288.6,487.9 290.1,487.9 291.6,487.9 293.1,487.9 294.6,487.9 296.1,487.9 297.6,487.9 299.1,487.9 300.6,487.9 302.1,487.9 303.6,487.9 305.1,487.9 306.6,487.9 308.1,487.9 309.6,487.9 311.1,487.9 312.6,487.9 314.1,487.9 315.6,487.9 317.1,487.9 318.6,487.9 320.1,487.9 321.6,487.9 323.1,487.9 324.6,487.9 326.1,487.9 327.6,487.9 329.1,487.9 330.6,487.9 332.1,487.9 333.6,487.9 335.1,487.9 336.6,487.9 338.1,487.9 338.5,487.9" fill="none" stroke="#e070e6" stroke-width="1.3" stroke-linejoin="round"/>
<polyline points="48.6,487.9 50.1,487.9 51.6,487.9 53.1,487.9 54.6,487.9 56.1,487.9 57.6,487.9 59.1,487.9 60.6,487.9 62.1,487.9 63.6,487.9 65.1,487.9 66.6,487.9 68.1,487.9 69.6,487.9 71.1,487.9 72.6,487.9 74.1,487.9 75.6,487.9 77.1,487.9 78.6,487.9 80.1,487.9 81.6,487.9 83.1,487.9 84.6,487.9 86.1,487.9 87.6,487.9 89.1,487.9 90.6,487.9 92.1,487.9 93.6,487.9 95.1,487.9 96.6,487.7 98.1,487.5 99.6,487.2 101.1,486.9 102.6,486.5 104.1,486.0 105.6,485.4 107.1,484.7 108.6,483.9 110.1,482.9 111.6,481.8 113.1,480.4 114.6,478.9 116.1,477.1 117.6,475.1 119.1,472.8 120.6,470.1 122.1,467.2 123.6,463.8 125.1,460.1 126.6,456.0 128.1,451.5 129.6,446.6 131.1,441.3 132.6,435.5 134.1,429.3 135.6,422.7 137.1,415.8 138.6,408.5 140.1,400.9 141.6,393.1 143.1,385.0 144.6,376.9 146.1,368.7 147.6,360.5 149.1,352.4 150.6,344.5 152.1,336.8 153.6,329.6 155.1,322.8 156.6,316.6 158.1,311.0 159.6,306.1 161.1,302.0 162.6,298.7 164.1,296.3 165.6,294.8 167.1,294.3 168.6,294.6 170.1,295.5 171.6,297.0 173.1,299.1 174.6,301.8 176.1,305.0 177.6,308.7 179.1,312.8 180.6,317.3 182.1,322.1 183.6,327.3 185.1,332.7 186.6,338.3 188.1,344.1 189.6,350.1 191.1,356.1 192.6,362.2 194.1,368.3 195.6,374.4 197.1,380.4 198.6,386.3 200.1,392.2 201.6,397.9 203.1,403.5 204.6,408.8 206.1,414.1 207.6,419.1 209.1,423.9 210.6,428.5 212.1,432.9 213.6,437.0 215.1,441.0 216.6,444.7 218.1,448.2 219.6,451.6 221.1,454.6 222.6,457.5 224.1,460.2 225.6,462.8 227.1,465.1 228.6,467.2 230.1,469.2 231.6,471.1 233.1,472.8 234.6,474.3 236.1,475.7 237.6,477.0 239.1,478.2 240.6,479.3 242.1,480.2 243.6,481.1 245.1,481.9 246.6,482.7 248.1,483.3 249.6,483.9 251.1,484.4 252.6,484.9 254.1,485.3 255.6,485.7 257.1,486.1 258.6,486.4 260.1,486.6 261.6,486.9 263.1,487.1 264.6,487.3 266.1,487.4 267.6,487.6 269.1,487.7 270.6,487.8 272.1,487.9 273.6,487.9 275.1,487.9 276.6,487.9 278.1,487.9 279.6,487.9 281.1,487.9 282.6,487.9 284.1,487.9 285.6,487.9 287.1,487.9 288.6,487.9 290.1,487.9 291.6,487.9 293.1,487.9 294.6,487.9 296.1,487.9 297.6,487.9 299.1,487.9 300.6,487.9 302.1,487.9 303.6,487.9 305.1,487.9 306.6,487.9 308.1,487.9 309.6,487.9 311.1,487.9 312.6,487.9 314.1,487.9 315.6,487.9 317.1,487.9 318.6,487.9 320.1,487.9 321.6,487.9 323.1,487.9 324.6,487.9 326.1,487.9 327.6,487.9 329.1,487.9 330.6,487.9 332.1,487.9 333.6,487.9 335.1,487.9 336.6,487.9 338.1,487.9 338.5,487.9" fill="none" stroke="#2a962a" stroke-width="1.0" stroke-linejoin="round"/>
<polyline points="48.6,487.9 50.1,487.9 51.6,487.9 53.1,487.9 54.6,487.9 56.1,487.9 57.6,487.9 59.1,487.9 60.6,487.9 62.1,487.9 63.6,487.9 65.1,487.9 66.6,487.9 68.1,487.9 69.6,487.9 71.1,487.9 72.6,487.9 74.1,487.9 75.6,487.9 77.1,487.9 78.6,487.9 80.1,487.9 81.6,487.9 83.1,487.9 84.6,487.9 86.1,487.9 87.6,487.9 89.1,487.9 90.6,487.9 92.1,487.9 93.6,487.9 95.1,487.9 96.6,487.9 98.1,487.9 99.6,487.9 101.1,487.9 102.6,487.8 104.1,487.6 105.6,487.3 107.1,487.0 108.6,486.6 110.1,486.2 111.6,485.6 113.1,485.0 114.6,484.2 116.1,483.2 117.6,482.1 119.1,480.8 120.6,479.3 122.1,477.5 123.6,475.5 125.1,473.2 126.6,470.6 128.1,467.6 129.6,464.2 131.1,460.5 132.6,456.4 134.1,451.8 135.6,446.8 137.1,441.4 138.6,435.6 140.1,429.3 141.6,422.6 143.1,415.5 144.6,408.1 146.1,400.4 147.6,392.4 149.1,384.2 150.6,375.9 152.1,367.6 153.6,359.3 155.1,351.1 156.6,343.2 158.1,335.5 159.6,328.3 161.1,321.6 162.6,315.5 164.1,310.1 165.6,305.4 167.1,301.6 168.6,298.6 170.1,296.6 171.6,295.5 173.1,295.4 174.6,296.0 176.1,297.1 177.6,298.8 179.1,301.0 180.6,303.7 182.1,306.9 183.6,310.6 185.1,314.6 186.6,319.0 188.1,323.7 189.6,328.7 191.1,334.0 192.6,339.4 194.1,345.0 195.6,350.7 197.1,356.5 198.6,362.4 200.1,368.3 201.6,374.1 203.1,379.9 204.6,385.7 206.1,391.3 207.6,396.8 209.1,402.2 210.6,407.5 212.1,412.6 213.6,417.5 215.1,422.2 216.6,426.7 218.1,431.0 219.6,435.2 221.1,439.1 222.6,442.8 224.1,446.3 225.6,449.6 227.1,452.7 228.6,455.6 230.1,458.4 231.6,460.9 233.1,463.3 234.6,465.5 236.1,467.6 237.6,469.5 239.1,471.2 240.6,472.9 242.1,474.4 243.6,475.7 245.1,477.0 246.6,478.1 248.1,479.2 249.6,480.1 251.1,481.0 252.6,481.8 254.1,482.5 255.6,483.2 257.1,483.7 258.6,484.3 260.1,484.7 261.6,485.2 263.1,485.6 264.6,485.9 266.1,486.2 267.6,486.5 269.1,486.7 270.6,487.0 272.1,487.2 273.6,487.3 275.1,487.5 276.6,487.6 278.1,487.7 279.6,487.8 281.1,487.9 282.6,487.9 284.1,487.9 285.6,487.9 287.1,487.9 288.6,487.9 290.1,487.9 291.6,487.9 293.1,487.9 294.6,487.9 296.1,487.9 297.6,487.9 299.1,487.9 300.6,487.9 302.1,487.9 303.6,487.9 305.1,487.9 306.6,487.9 308.1,487.9 309.6,487.9 311.1,487.9 312.6,487.9 314.1,487.9 315.6,487.9 317.1,487.9 318.6,487.9 320.1,487.9 321.6,487.9 323.1,487.9 324.6,487.9 326.1,487.9 327.6,487.9 329.1,487.9 330.6,487.9 332.1,487.9 333.6,487.9 335.1,487.9 336.6,487.9 338.1,487.9 338.5,487.9" fill="none" stroke="#2c2c86" stroke-width="1.0" stroke-linejoin="round"/>
<polyline points="48.6,487.9 50.1,487.9 51.6,487.9 53.1,487.9 54.6,487.9 56.1,487.9 57.6,487.9 59.1,487.9 60.6,487.9 62.1,487.9 63.6,487.9 65.1,487.9 66.6,487.9 68.1,487.9 69.6,487.9 71.1,487.9 72.6,487.9 74.1,487.9 75.6,487.9 77.1,487.9 78.6,487.9 80.1,487.9 81.6,487.9 83.1,487.9 84.6,487.9 86.1,487.9 87.6,487.9 89.1,487.9 90.6,487.9 92.1,487.9 93.6,487.9 95.1,487.9 96.6,487.9 98.1,487.9 99.6,487.9 101.1,487.9 102.6,487.9 104.1,487.9 105.6,487.9 107.1,487.9 108.6,487.9 110.1,487.8 111.6,487.6 113.1,487.3 114.6,486.9 116.1,486.4 117.6,485.8 119.1,485.2 120.6,484.5 122.1,483.7 123.6,482.7 125.1,481.4 126.6,480.0 128.1,478.4 129.6,476.7 131.1,474.8 132.6,472.6 134.1,469.8 135.6,466.7 137.1,463.2 138.6,459.2 140.1,454.8 141.6,449.8 143.1,444.4 144.6,438.5 146.1,432.0 147.6,425.2 149.1,418.5 150.6,411.6 152.1,404.4 153.6,396.9 155.1,389.1 156.6,381.2 158.1,373.2 159.6,364.7 161.1,356.4 162.6,348.2 164.1,340.1 165.6,332.4 167.1,325.2 168.6,319.1 170.1,314.3 171.6,310.2 173.1,306.9 174.6,303.9 176.1,301.9 177.6,300.8 179.1,300.6 180.6,300.9 182.1,301.7 183.6,303.7 185.1,306.5 186.6,309.8 188.1,313.5 189.6,317.3 191.1,321.4 192.6,325.9 194.1,329.5 195.6,333.3 197.1,337.2 198.6,342.3 200.1,348.2 201.6,354.2 203.1,360.2 204.6,365.7 206.1,371.3 207.6,376.8 209.1,381.6 210.6,386.4 212.1,391.0 213.6,396.4 215.1,402.3 216.6,408.0 218.1,413.3 219.6,417.4 221.1,421.4 222.6,425.3 224.1,429.7 225.6,434.0 227.1,438.2 228.6,442.0 230.1,445.5 231.6,448.8 233.1,451.9 234.6,454.3 236.1,456.6 237.6,458.8 239.1,461.4 240.6,464.0 242.1,466.4 243.6,468.4 245.1,470.1 246.6,471.7 248.1,473.2 249.6,474.7 251.1,476.1 252.6,477.4 254.1,478.5 255.6,479.5 257.1,480.3 258.6,481.1 260.1,481.7 261.6,482.3 263.1,482.8 264.6,483.4 266.1,483.9 267.6,484.4 269.1,484.9 270.6,485.4 272.1,485.8 273.6,486.1 275.1,486.3 276.6,486.5 278.1,486.7 279.6,486.9 281.1,487.1 282.6,487.3 284.1,487.5 285.6,487.7 287.1,487.8 288.6,487.9 290.1,487.9 291.6,487.9 293.1,487.9 294.6,487.9 296.1,487.9 297.6,487.9 299.1,487.9 300.6,487.9 302.1,487.9 303.6,487.9 305.1,487.9 306.6,487.9 308.1,487.9 309.6,487.9 311.1,487.9 312.6,487.9 314.1,487.9 315.6,487.9 317.1,487.9 318.6,487.9 320.1,487.9 321.6,487.9 323.1,487.9 324.6,487.9 326.1,487.9 327.6,487.9 329.1,487.9 330.6,487.9 332.1,487.9 333.6,487.9 335.1,487.9 336.6,487.9 338.1,487.9 338.5,487.9" fill="none" stroke="#9050f4" stroke-width="1.3" stroke-linejoin="round"/>
<polyline points="48.6,487.9 50.1,487.9 51.6,487.9 53.1,487.9 54.6,487.9 56.1,487.9 57.6,487.9 59.1,487.9 60.6,487.9 62.1,487.9 63.6,487.9 65.1,487.9 66.6,487.9 68.1,487.9 69.6,487.9 71.1,487.9 72.6,487.9 74.1,487.9 75.6,487.9 77.1,487.9 78.6,487.9 80.1,487.9 81.6,487.9 83.1,487.9 84.6,487.9 86.1,487.9 87.6,487.9 89.1,487.9 90.6,487.9 92.1,487.9 93.6,487.9 95.1,487.9 96.6,487.9 98.1,487.9 99.6,487.9 101.1,487.9 102.6,487.9 104.1,487.9 105.6,487.9 107.1,487.9 108.6,487.9 110.1,487.9 111.6,487.9 113.1,487.9 114.6,487.9 116.1,487.9 117.6,487.8 119.1,487.5 120.6,487.2 122.1,486.7 123.6,486.2 125.1,485.7 126.6,485.0 128.1,484.2 129.6,483.3 131.1,482.2 132.6,481.0 134.1,479.4 135.6,477.6 137.1,475.5 138.6,473.1 140.1,470.3 141.6,467.2 143.1,463.6 144.6,459.5 146.1,454.8 147.6,449.7 149.1,444.5 150.6,438.9 152.1,433.0 153.6,426.3 155.1,419.0 156.6,411.3 158.1,403.3 159.6,395.5 161.1,387.5 162.6,379.3 164.1,370.6 165.6,361.9 167.1,353.3 168.6,345.4 170.1,338.2 171.6,331.5 173.1,325.1 174.6,318.3 176.1,312.3 177.6,307.1 179.1,303.6 180.6,301.3 182.1,299.9 183.6,299.6 184.4,299.4 193.8,307.8 197.3,324.1 201.2,326.6 205.7,338.4 208.6,347.3 210.1,355.2 212.6,364.1 215.0,374.0 218.3,389.7 222.2,399.6 225.2,411.4 227.1,421.3 229.1,428.2 233.6,434.1 237.0,444.0 239.0,451.7 242.5,463.9 246.6,465.1 251.9,472.7 257.7,478.0 264.1,480.9 269.4,485.0 274.0,486.1 289.2,487.3 300.0,487.9 300.6,487.9 302.1,487.9 303.6,487.9 305.1,487.9 306.6,487.9 308.1,487.9 309.6,487.9 311.1,487.9 312.6,487.9 314.1,487.9 315.6,487.9 317.1,487.9 318.6,487.9 320.1,487.9 321.6,487.9 323.1,487.9 324.6,487.9 326.1,487.9 327.6,487.9 329.1,487.9 330.6,487.9 332.1,487.9 333.6,487.9 335.1,487.9 336.6,487.9 338.1,487.9 338.5,487.9" fill="none" stroke="#8c3090" stroke-width="1.0" stroke-linejoin="round"/>
<rect x="47.8" y="274.5" width="291.5" height="214.1" fill="none" stroke="#000" stroke-width="1.8"/>
<line x1="47.8" y1="488.6" x2="47.8" y2="480.6" stroke="#000" stroke-width="1.6"/>
<text x="47.8" y="508.1" text-anchor="middle" class="tl">-5.8</text>
<line x1="92.6" y1="488.6" x2="92.6" y2="480.6" stroke="#000" stroke-width="1.6"/>
<text x="92.6" y="508.1" text-anchor="middle" class="tl">-5.6</text>
<line x1="137.5" y1="488.6" x2="137.5" y2="480.6" stroke="#000" stroke-width="1.6"/>
<text x="137.5" y="508.1" text-anchor="middle" class="tl">-5.4</text>
<line x1="182.3" y1="488.6" x2="182.3" y2="480.6" stroke="#000" stroke-width="1.6"/>
<text x="182.3" y="508.1" text-anchor="middle" class="tl">-5.2</text>
<line x1="227.2" y1="488.6" x2="227.2" y2="480.6" stroke="#000" stroke-width="1.6"/>
<text x="227.2" y="508.1" text-anchor="middle" class="tl">-5.0</text>
<line x1="272.0" y1="488.6" x2="272.0" y2="480.6" stroke="#000" stroke-width="1.6"/>
<text x="272.0" y="508.1" text-anchor="middle" class="tl">-4.8</text>
<line x1="316.9" y1="488.6" x2="316.9" y2="480.6" stroke="#000" stroke-width="1.6"/>
<text x="316.9" y="508.1" text-anchor="middle" class="tl">-4.6</text>
<line x1="70.2" y1="488.6" x2="70.2" y2="484.1" stroke="#000" stroke-width="1.6"/>
<line x1="115.1" y1="488.6" x2="115.1" y2="484.1" stroke="#000" stroke-width="1.6"/>
<line x1="159.9" y1="488.6" x2="159.9" y2="484.1" stroke="#000" stroke-width="1.6"/>
<line x1="204.8" y1="488.6" x2="204.8" y2="484.1" stroke="#000" stroke-width="1.6"/>
<line x1="249.6" y1="488.6" x2="249.6" y2="484.1" stroke="#000" stroke-width="1.6"/>
<line x1="294.5" y1="488.6" x2="294.5" y2="484.1" stroke="#000" stroke-width="1.6"/>
<line x1="339.3" y1="488.6" x2="339.3" y2="484.1" stroke="#000" stroke-width="1.6"/>
<line x1="47.8" y1="488.6" x2="55.8" y2="488.6" stroke="#000" stroke-width="1.6"/>
<text x="38.8" y="493.1" text-anchor="end" class="tl">0</text>
<line x1="47.8" y1="435.1" x2="55.8" y2="435.1" stroke="#000" stroke-width="1.6"/>
<text x="38.8" y="439.6" text-anchor="end" class="tl">1</text>
<line x1="47.8" y1="381.6" x2="55.8" y2="381.6" stroke="#000" stroke-width="1.6"/>
<text x="38.8" y="386.1" text-anchor="end" class="tl">2</text>
<line x1="47.8" y1="328.0" x2="55.8" y2="328.0" stroke="#000" stroke-width="1.6"/>
<text x="38.8" y="332.5" text-anchor="end" class="tl">3</text>
<line x1="47.8" y1="274.5" x2="55.8" y2="274.5" stroke="#000" stroke-width="1.6"/>
<text x="38.8" y="279.0" text-anchor="end" class="tl">4</text>
<line x1="47.8" y1="461.8" x2="52.3" y2="461.8" stroke="#000" stroke-width="1.6"/>
<line x1="47.8" y1="408.3" x2="52.3" y2="408.3" stroke="#000" stroke-width="1.6"/>
<line x1="47.8" y1="354.8" x2="52.3" y2="354.8" stroke="#000" stroke-width="1.6"/>
<line x1="47.8" y1="301.3" x2="52.3" y2="301.3" stroke="#000" stroke-width="1.6"/>
<text x="167.5" y="526.2" class="at"><tspan font-style="italic">E</tspan><tspan class="sub" dy="6">p</tspan><tspan dy="-6"> (eV)</tspan></text>
<text transform="translate(13.5,393.5) rotate(-90)" text-anchor="middle" class="at"><tspan font-style="italic">P</tspan>(<tspan font-style="italic">E</tspan><tspan class="sub" dy="6">p</tspan><tspan dy="-6">)</tspan></text>
<text x="51.5" y="293.8" class="pl">(c)</text>
<line x1="54.6" y1="314.6" x2="78.7" y2="314.6" stroke="#111" stroke-width="1.7" stroke-dasharray="4 2.6"/>
<text x="81.9" y="318.6" class="lg">Total</text>
<line x1="54.6" y1="330.2" x2="78.7" y2="330.2" stroke="#e03a34" stroke-width="1.0"/>
<text x="81.9" y="334.2" class="lg"><tspan class="lgN">N</tspan><tspan class="lsub" dx="-1" dy="4.5">Q</tspan><tspan dy="-4.5"> = 0</tspan></text>
<line x1="54.6" y1="350.2" x2="78.7" y2="350.2" stroke="#3434d8" stroke-width="1.1"/>
<text x="81.9" y="354.2" class="lg"><tspan class="lgN">N</tspan><tspan class="lsub" dx="-1" dy="4.5">Q</tspan><tspan dy="-4.5"> = 1</tspan></text>
<line x1="54.6" y1="370.2" x2="78.7" y2="370.2" stroke="#e070e6" stroke-width="1.6"/>
<text x="81.9" y="374.2" class="lg"><tspan class="lgN">N</tspan><tspan class="lsub" dx="-1" dy="4.5">Q</tspan><tspan dy="-4.5"> = 2</tspan></text>
<line x1="54.6" y1="390.2" x2="78.7" y2="390.2" stroke="#2a962a" stroke-width="1.0"/>
<text x="81.9" y="394.2" class="lg"><tspan class="lgN">N</tspan><tspan class="lsub" dx="-1" dy="4.5">Q</tspan><tspan dy="-4.5"> = 3</tspan></text>
<line x1="54.6" y1="410.2" x2="78.7" y2="410.2" stroke="#2c2c86" stroke-width="1.1"/>
<text x="81.9" y="414.2" class="lg"><tspan class="lgN">N</tspan><tspan class="lsub" dx="-1" dy="4.5">Q</tspan><tspan dy="-4.5"> = 4</tspan></text>
<line x1="54.6" y1="430.2" x2="78.7" y2="430.2" stroke="#9050f4" stroke-width="1.6"/>
<text x="81.9" y="434.2" class="lg"><tspan class="lgN">N</tspan><tspan class="lsub" dx="-1" dy="4.5">Q</tspan><tspan dy="-4.5"> = 5</tspan></text>
<line x1="54.6" y1="450.2" x2="78.7" y2="450.2" stroke="#8c3090" stroke-width="1.1"/>
<text x="81.9" y="454.2" class="lg"><tspan class="lgN">N</tspan><tspan class="lsub" dx="-1" dy="4.5">Q</tspan><tspan dy="-4.5"> = 6</tspan></text>
<text x="239.4" y="429.3" class="ml">Ni (Ni<tspan class="msub" dy="6.5">33</tspan><tspan dy="-6.5">Zr</tspan><tspan class="msub" dy="6.5">67</tspan><tspan dy="-6.5">)</tspan></text>
<rect x="224.9" y="277.9" width="111.6" height="84.3" fill="#fff" stroke="#000" stroke-width="1.3"/>
<line x1="224.9" y1="362.2" x2="224.9" y2="358.2" stroke="#000" stroke-width="1"/>
<text x="224.9" y="373.7" text-anchor="middle" class="il">0</text>
<line x1="243.5" y1="362.2" x2="243.5" y2="358.2" stroke="#000" stroke-width="1"/>
<text x="243.5" y="373.7" text-anchor="middle" class="il">1</text>
<line x1="262.1" y1="362.2" x2="262.1" y2="358.2" stroke="#000" stroke-width="1"/>
<text x="262.1" y="373.7" text-anchor="middle" class="il">2</text>
<line x1="280.7" y1="362.2" x2="280.7" y2="358.2" stroke="#000" stroke-width="1"/>
<text x="280.7" y="373.7" text-anchor="middle" class="il">3</text>
<line x1="299.3" y1="362.2" x2="299.3" y2="358.2" stroke="#000" stroke-width="1"/>
<text x="299.3" y="373.7" text-anchor="middle" class="il">4</text>
<line x1="317.9" y1="362.2" x2="317.9" y2="358.2" stroke="#000" stroke-width="1"/>
<text x="317.9" y="373.7" text-anchor="middle" class="il">5</text>
<line x1="336.5" y1="362.2" x2="336.5" y2="358.2" stroke="#000" stroke-width="1"/>
<text x="336.5" y="373.7" text-anchor="middle" class="il">6</text>
<line x1="234.2" y1="362.2" x2="234.2" y2="359.7" stroke="#000" stroke-width="1"/>
<line x1="252.8" y1="362.2" x2="252.8" y2="359.7" stroke="#000" stroke-width="1"/>
<line x1="271.4" y1="362.2" x2="271.4" y2="359.7" stroke="#000" stroke-width="1"/>
<line x1="290.0" y1="362.2" x2="290.0" y2="359.7" stroke="#000" stroke-width="1"/>
<line x1="308.6" y1="362.2" x2="308.6" y2="359.7" stroke="#000" stroke-width="1"/>
<line x1="327.2" y1="362.2" x2="327.2" y2="359.7" stroke="#000" stroke-width="1"/>
<line x1="224.9" y1="286.3" x2="228.9" y2="286.3" stroke="#000" stroke-width="1"/>
<text x="221.9" y="289.5" text-anchor="end" class="il">-5.16</text>
<line x1="224.9" y1="305.2" x2="228.9" y2="305.2" stroke="#000" stroke-width="1"/>
<text x="221.9" y="308.4" text-anchor="end" class="il">-5.20</text>
<line x1="224.9" y1="324.4" x2="228.9" y2="324.4" stroke="#000" stroke-width="1"/>
<text x="221.9" y="327.6" text-anchor="end" class="il">-5.24</text>
<line x1="224.9" y1="343.2" x2="228.9" y2="343.2" stroke="#000" stroke-width="1"/>
<text x="221.9" y="346.4" text-anchor="end" class="il">-5.28</text>
<line x1="224.9" y1="362.2" x2="228.9" y2="362.2" stroke="#000" stroke-width="1"/>
<text x="221.9" y="365.4" text-anchor="end" class="il">-5.32</text>
<line x1="224.9" y1="295.8" x2="227.4" y2="295.8" stroke="#000" stroke-width="1"/>
<line x1="224.9" y1="314.8" x2="227.4" y2="314.8" stroke="#000" stroke-width="1"/>
<line x1="224.9" y1="333.8" x2="227.4" y2="333.8" stroke="#000" stroke-width="1"/>
<line x1="224.9" y1="352.7" x2="227.4" y2="352.7" stroke="#000" stroke-width="1"/>
<polyline points="224.9,360.8 243.5,349.1 262.1,337.5 280.7,325.0 299.3,311.5 317.9,297.6 336.5,283.2" fill="none" stroke="#000" stroke-width="1.1"/>
<rect x="222.9" y="358.8" width="4" height="4" fill="#fff" stroke="#000" stroke-width="1"/>
<rect x="241.5" y="347.1" width="4" height="4" fill="#fff" stroke="#000" stroke-width="1"/>
<rect x="260.1" y="335.5" width="4" height="4" fill="#fff" stroke="#000" stroke-width="1"/>
<rect x="278.7" y="323.0" width="4" height="4" fill="#fff" stroke="#000" stroke-width="1"/>
<rect x="297.3" y="309.5" width="4" height="4" fill="#fff" stroke="#000" stroke-width="1"/>
<rect x="315.9" y="295.6" width="4" height="4" fill="#fff" stroke="#000" stroke-width="1"/>
<rect x="334.5" y="281.2" width="4" height="4" fill="#fff" stroke="#000" stroke-width="1"/>
<text x="280.7" y="386.0" text-anchor="middle" class="iat"><tspan font-style="italic">N</tspan><tspan font-size="6.5" font-style="italic" dy="3">Q</tspan></text>
<text transform="translate(190.0,304.0) rotate(-90)" text-anchor="middle" class="iat">&lt;<tspan font-style="italic">E</tspan><tspan font-size="6.5" font-style="italic" dy="2.5">p</tspan><tspan dy="-2.5">&gt;</tspan></text>
<polyline points="397.6,483.5 399.1,483.5 400.6,483.5 402.1,483.5 403.6,483.5 405.1,483.5 406.6,483.5 408.1,483.5 409.6,483.5 411.1,483.5 412.6,483.5 414.1,483.5 415.6,483.5 417.1,483.5 418.6,483.5 420.1,483.5 421.6,483.5 423.1,483.4 424.6,483.3 426.1,483.0 427.6,482.8 429.1,482.4 430.6,482.0 432.1,481.6 433.6,481.0 435.1,480.4 436.6,479.6 438.1,478.8 439.6,477.8 441.1,476.6 442.6,475.3 444.1,473.8 445.6,472.1 447.1,470.2 448.6,468.1 450.1,465.7 451.6,463.1 453.1,460.3 454.6,457.1 456.1,453.7 457.6,450.0 459.1,446.0 460.6,441.7 462.1,437.1 463.6,432.2 465.1,427.0 466.6,421.6 468.1,415.9 469.6,409.9 471.1,403.8 472.6,397.5 474.1,391.0 475.6,384.4 477.1,377.7 478.6,371.0 480.1,364.2 481.6,357.5 483.1,350.9 484.6,344.4 486.1,338.2 487.6,332.1 489.1,326.3 490.6,320.8 492.1,315.7 493.6,310.9 495.1,306.6 496.6,302.7 498.1,299.4 499.6,296.5 501.1,294.2 502.6,292.5 504.1,291.3 505.6,290.6 507.1,290.5 508.6,290.9 510.1,291.6 511.6,292.7 513.1,294.1 514.6,295.9 516.1,298.0 517.6,300.5 519.1,303.2 520.6,306.1 522.1,309.4 523.6,312.8 525.1,316.5 526.6,320.3 528.1,324.3 529.6,328.4 531.1,332.7 532.6,337.1 534.1,341.5 535.6,346.0 537.1,350.6 538.6,355.2 540.1,359.8 541.6,364.4 543.1,368.9 544.6,373.5 546.1,378.0 547.6,382.4 549.1,386.8 550.6,391.1 552.1,395.4 553.6,399.5 555.1,403.5 556.6,407.5 558.1,411.3 559.6,415.0 561.1,418.6 562.6,422.1 564.1,425.4 565.6,428.7 567.1,431.8 568.6,434.7 570.1,437.6 571.6,440.3 573.1,443.0 574.6,445.5 576.1,447.8 577.6,450.1 579.1,452.3 580.6,454.3 582.1,456.3 583.6,458.1 585.1,459.8 586.6,461.5 588.1,463.0 589.6,464.5 591.1,465.9 592.6,467.2 594.1,468.4 595.6,469.5 597.1,470.6 598.6,471.6 600.1,472.5 601.6,473.4 603.1,474.2 604.6,475.0 606.1,475.7 607.6,476.4 609.1,477.0 610.6,477.6 612.1,478.1 613.6,478.6 615.1,479.0 616.6,479.5 618.1,479.9 619.6,480.2 621.1,480.5 622.6,480.9 624.1,481.1 625.6,481.4 627.1,481.6 628.6,481.9 630.1,482.1 631.6,482.3 633.1,482.4 634.6,482.6 636.1,482.7 637.6,482.9 639.1,483.0 640.6,483.1 642.1,483.2 643.6,483.3 645.1,483.4 646.6,483.5 648.1,483.5 649.6,483.5 651.1,483.5 652.6,483.5 654.1,483.5 655.6,483.5 657.1,483.5 658.6,483.5 660.1,483.5 661.6,483.5 663.1,483.5 664.6,483.5 666.1,483.5 667.6,483.5 669.1,483.5 670.6,483.5 672.1,483.5 673.6,483.5 675.1,483.5 676.6,483.5 678.1,483.5 679.6,483.5 681.1,483.5 681.4,483.5" fill="none" stroke="#1a1a1a" stroke-width="1.7" stroke-dasharray="3.6 2.6"/>
<polyline points="397.6,483.5 399.1,483.5 400.6,483.5 402.1,483.5 403.6,483.5 405.1,483.5 406.6,483.5 408.1,483.5 409.6,483.5 411.1,483.5 412.6,483.5 414.1,483.5 415.6,483.5 417.1,483.5 418.6,483.5 420.1,483.4 421.6,483.2 423.1,482.9 424.6,482.6 426.1,482.3 427.6,481.8 429.1,481.3 430.6,480.7 432.1,480.0 433.6,479.2 435.1,478.2 436.6,477.1 438.1,475.9 439.6,474.4 441.1,472.8 442.6,471.0 444.1,468.9 445.6,466.6 447.1,464.0 448.6,461.2 450.1,458.1 451.6,454.7 453.1,451.0 454.6,447.1 456.1,442.8 457.6,438.2 459.1,433.3 460.6,428.1 462.1,422.6 463.6,416.9 465.1,410.9 466.6,404.7 468.1,398.3 469.6,391.7 471.1,385.0 472.6,378.2 474.1,371.4 475.6,364.5 477.1,357.7 478.6,351.0 480.1,344.4 481.6,338.0 483.1,331.9 484.6,326.0 486.1,320.4 487.6,315.2 489.1,310.4 490.6,306.0 492.1,302.1 493.6,298.8 495.1,295.9 496.6,293.7 498.1,291.9 499.6,290.8 501.1,290.2 502.6,290.2 504.1,290.6 505.6,291.4 507.1,292.5 508.6,294.0 510.1,295.8 511.6,298.0 513.1,300.4 514.6,303.1 516.1,306.1 517.6,309.4 519.1,312.8 520.6,316.5 522.1,320.3 523.6,324.3 525.1,328.4 526.6,332.7 528.1,337.0 529.6,341.4 531.1,345.9 532.6,350.5 534.1,355.0 535.6,359.6 537.1,364.2 538.6,368.7 540.1,373.3 541.6,377.7 543.1,382.2 544.6,386.5 546.1,390.8 547.6,395.0 549.1,399.2 550.6,403.2 552.1,407.1 553.6,410.9 555.1,414.6 556.6,418.2 558.1,421.7 559.6,425.0 561.1,428.2 562.6,431.3 564.1,434.3 565.6,437.2 567.1,439.9 568.6,442.5 570.1,445.0 571.6,447.4 573.1,449.7 574.6,451.9 576.1,453.9 577.6,455.9 579.1,457.7 580.6,459.5 582.1,461.1 583.6,462.7 585.1,464.2 586.6,465.6 588.1,466.9 589.6,468.1 591.1,469.2 592.6,470.3 594.1,471.3 595.6,472.3 597.1,473.2 598.6,474.0 600.1,474.8 601.6,475.5 603.1,476.2 604.6,476.8 606.1,477.4 607.6,477.9 609.1,478.4 610.6,478.9 612.1,479.3 613.6,479.7 615.1,480.1 616.6,480.4 618.1,480.7 619.6,481.0 621.1,481.3 622.6,481.5 624.1,481.8 625.6,482.0 627.1,482.2 628.6,482.4 630.1,482.5 631.6,482.7 633.1,482.8 634.6,482.9 636.1,483.0 637.6,483.2 639.1,483.2 640.6,483.3 642.1,483.4 643.6,483.5 645.1,483.5 646.6,483.5 648.1,483.5 649.6,483.5 651.1,483.5 652.6,483.5 654.1,483.5 655.6,483.5 657.1,483.5 658.6,483.5 660.1,483.5 661.6,483.5 663.1,483.5 664.6,483.5 666.1,483.5 667.6,483.5 669.1,483.5 670.6,483.5 672.1,483.5 673.6,483.5 675.1,483.5 676.6,483.5 678.1,483.5 679.6,483.5 681.1,483.5 681.4,483.5" fill="none" stroke="#e03a34" stroke-width="1.0" stroke-linejoin="round"/>
<polyline points="397.6,483.5 399.1,483.5 400.6,483.5 402.1,483.5 403.6,483.5 405.1,483.5 406.6,483.5 408.1,483.5 409.6,483.5 411.1,483.5 412.6,483.5 414.1,483.5 415.6,483.5 417.1,483.5 418.6,483.5 420.1,483.5 421.6,483.4 423.1,483.2 424.6,483.0 426.1,482.7 427.6,482.3 429.1,481.9 430.6,481.4 432.1,480.8 433.6,480.2 435.1,479.4 436.6,478.4 438.1,477.4 439.6,476.2 441.1,474.8 442.6,473.2 444.1,471.5 445.6,469.5 447.1,467.2 448.6,464.8 450.1,462.1 451.6,459.1 453.1,455.8 454.6,452.2 456.1,448.3 457.6,444.2 459.1,439.7 460.6,434.9 462.1,429.9 463.6,424.5 465.1,418.9 466.6,413.1 468.1,407.0 469.6,400.7 471.1,394.2 472.6,387.6 474.1,380.9 475.6,374.2 477.1,367.4 478.6,360.6 480.1,353.9 481.6,347.3 483.1,340.9 484.6,334.6 486.1,328.7 487.6,323.0 489.1,317.6 490.6,312.7 492.1,308.2 493.6,304.1 495.1,300.5 496.6,297.4 498.1,294.9 499.6,292.9 501.1,291.5 502.6,290.6 504.1,290.3 505.6,290.5 507.1,291.1 508.6,292.1 510.1,293.4 511.6,295.0 513.1,297.0 514.6,299.3 516.1,301.9 517.6,304.8 519.1,307.9 520.6,311.3 522.1,314.8 523.6,318.6 525.1,322.5 526.6,326.6 528.1,330.8 529.6,335.1 531.1,339.5 532.6,344.0 534.1,348.5 535.6,353.1 537.1,357.7 538.6,362.3 540.1,366.8 541.6,371.4 543.1,375.9 544.6,380.4 546.1,384.8 547.6,389.1 549.1,393.3 550.6,397.5 552.1,401.6 553.6,405.6 555.1,409.4 556.6,413.2 558.1,416.8 559.6,420.3 561.1,423.7 562.6,427.0 564.1,430.2 565.6,433.2 567.1,436.1 568.6,438.9 570.1,441.6 571.6,444.2 573.1,446.6 574.6,448.9 576.1,451.1 577.6,453.2 579.1,455.2 580.6,457.1 582.1,458.9 583.6,460.6 585.1,462.2 586.6,463.7 588.1,465.1 589.6,466.5 591.1,467.7 592.6,468.9 594.1,470.0 595.6,471.0 597.1,472.0 598.6,472.9 600.1,473.8 601.6,474.6 603.1,475.3 604.6,476.0 606.1,476.6 607.6,477.2 609.1,477.8 610.6,478.3 612.1,478.8 613.6,479.2 615.1,479.6 616.6,480.0 618.1,480.3 619.6,480.7 621.1,481.0 622.6,481.2 624.1,481.5 625.6,481.7 627.1,481.9 628.6,482.1 630.1,482.3 631.6,482.5 633.1,482.6 634.6,482.8 636.1,482.9 637.6,483.0 639.1,483.1 640.6,483.2 642.1,483.3 643.6,483.4 645.1,483.5 646.6,483.5 648.1,483.5 649.6,483.5 651.1,483.5 652.6,483.5 654.1,483.5 655.6,483.5 657.1,483.5 658.6,483.5 660.1,483.5 661.6,483.5 663.1,483.5 664.6,483.5 666.1,483.5 667.6,483.5 669.1,483.5 670.6,483.5 672.1,483.5 673.6,483.5 675.1,483.5 676.6,483.5 678.1,483.5 679.6,483.5 681.1,483.5 681.4,483.5" fill="none" stroke="#3434d8" stroke-width="1.0" stroke-linejoin="round"/>
<polyline points="397.6,483.5 399.1,483.5 400.6,483.5 402.1,483.5 403.6,483.5 405.1,483.5 406.6,483.5 408.1,483.5 409.6,483.5 411.1,483.5 412.6,483.5 414.1,483.5 415.6,483.5 417.1,483.5 418.6,483.5 420.1,483.5 421.6,483.5 423.1,483.5 424.6,483.3 426.1,483.1 427.6,482.8 429.1,482.5 430.6,482.1 432.1,481.7 433.6,481.1 435.1,480.5 436.6,479.8 438.1,478.9 439.6,478.0 441.1,476.9 442.6,475.6 444.1,474.1 445.6,472.5 447.1,470.6 448.6,468.6 450.1,466.3 451.6,463.7 453.1,460.9 454.6,457.8 456.1,454.5 457.6,450.8 459.1,446.9 460.6,442.6 462.1,438.1 463.6,433.3 465.1,428.2 466.6,422.8 468.1,417.2 469.6,411.3 471.1,405.2 472.6,398.9 474.1,392.5 475.6,385.9 477.1,379.3 478.6,372.5 480.1,365.8 481.6,359.1 483.1,352.5 484.6,346.0 486.1,339.7 487.6,333.5 489.1,327.7 490.6,322.1 492.1,316.9 493.6,312.1 495.1,307.6 496.6,303.7 498.1,300.2 499.6,297.2 501.1,294.8 502.6,292.9 504.1,291.5 505.6,290.8 507.1,290.5 508.6,290.8 510.1,291.4 511.6,292.4 513.1,293.8 514.6,295.5 516.1,297.5 517.6,299.9 519.1,302.5 520.6,305.4 522.1,308.6 523.6,312.0 525.1,315.6 526.6,319.4 528.1,323.3 529.6,327.4 531.1,331.7 532.6,336.0 534.1,340.4 535.6,344.9 537.1,349.5 538.6,354.1 540.1,358.7 541.6,363.3 543.1,367.9 544.6,372.4 546.1,376.9 547.6,381.4 549.1,385.8 550.6,390.1 552.1,394.4 553.6,398.5 555.1,402.6 556.6,406.6 558.1,410.4 559.6,414.2 561.1,417.8 562.6,421.3 564.1,424.7 565.6,427.9 567.1,431.1 568.6,434.1 570.1,437.0 571.6,439.7 573.1,442.4 574.6,444.9 576.1,447.3 577.6,449.6 579.1,451.8 580.6,453.9 582.1,455.8 583.6,457.7 585.1,459.5 586.6,461.1 588.1,462.7 589.6,464.2 591.1,465.6 592.6,466.9 594.1,468.1 595.6,469.3 597.1,470.4 598.6,471.4 600.1,472.3 601.6,473.2 603.1,474.1 604.6,474.8 606.1,475.6 607.6,476.2 609.1,476.9 610.6,477.4 612.1,478.0 613.6,478.5 615.1,478.9 616.6,479.4 618.1,479.8 619.6,480.1 621.1,480.5 622.6,480.8 624.1,481.1 625.6,481.4 627.1,481.6 628.6,481.8 630.1,482.0 631.6,482.2 633.1,482.4 634.6,482.6 636.1,482.7 637.6,482.8 639.1,483.0 640.6,483.1 642.1,483.2 643.6,483.3 645.1,483.4 646.6,483.4 648.1,483.5 649.6,483.5 651.1,483.5 652.6,483.5 654.1,483.5 655.6,483.5 657.1,483.5 658.6,483.5 660.1,483.5 661.6,483.5 663.1,483.5 664.6,483.5 666.1,483.5 667.6,483.5 669.1,483.5 670.6,483.5 672.1,483.5 673.6,483.5 675.1,483.5 676.6,483.5 678.1,483.5 679.6,483.5 681.1,483.5 681.4,483.5" fill="none" stroke="#e070e6" stroke-width="1.3" stroke-linejoin="round"/>
<polyline points="397.6,483.5 399.1,483.5 400.6,483.5 402.1,483.5 403.6,483.5 405.1,483.5 406.6,483.5 408.1,483.5 409.6,483.5 411.1,483.5 412.6,483.5 414.1,483.5 415.6,483.5 417.1,483.5 418.6,483.5 420.1,483.5 421.6,483.5 423.1,483.5 424.6,483.5 426.1,483.4 427.6,483.2 429.1,483.0 430.6,482.7 432.1,482.4 433.6,482.0 435.1,481.5 436.6,481.0 438.1,480.3 439.6,479.6 441.1,478.7 442.6,477.7 444.1,476.5 445.6,475.2 447.1,473.8 448.6,472.1 450.1,470.2 451.6,468.1 453.1,465.8 454.6,463.2 456.1,460.4 457.6,457.3 459.1,453.9 460.6,450.3 462.1,446.3 463.6,442.1 465.1,437.6 466.6,432.8 468.1,427.7 469.6,422.3 471.1,416.7 472.6,410.9 474.1,404.9 475.6,398.6 477.1,392.2 478.6,385.7 480.1,379.1 481.6,372.5 483.1,365.8 484.6,359.2 486.1,352.7 487.6,346.2 489.1,340.0 490.6,333.9 492.1,328.1 493.6,322.6 495.1,317.4 496.6,312.6 498.1,308.2 499.6,304.2 501.1,300.7 502.6,297.7 504.1,295.3 505.6,293.3 507.1,291.9 508.6,291.1 510.1,290.8 511.6,291.0 513.1,291.5 514.6,292.5 516.1,293.8 517.6,295.5 519.1,297.5 520.6,299.8 522.1,302.4 523.6,305.3 525.1,308.4 526.6,311.8 528.1,315.4 529.6,319.2 531.1,323.2 532.6,327.3 534.1,331.5 535.6,335.9 537.1,340.3 538.6,344.8 540.1,349.4 541.6,354.0 543.1,358.6 544.6,363.2 546.1,367.8 547.6,372.4 549.1,376.9 550.6,381.4 552.1,385.8 553.6,390.2 555.1,394.4 556.6,398.6 558.1,402.7 559.6,406.7 561.1,410.5 562.6,414.3 564.1,417.9 565.6,421.4 567.1,424.8 568.6,428.1 570.1,431.2 571.6,434.3 573.1,437.1 574.6,439.9 576.1,442.6 577.6,445.1 579.1,447.5 580.6,449.8 582.1,452.0 583.6,454.1 585.1,456.0 586.6,457.9 588.1,459.7 589.6,461.3 591.1,462.9 592.6,464.4 594.1,465.8 595.6,467.1 597.1,468.3 598.6,469.4 600.1,470.5 601.6,471.5 603.1,472.5 604.6,473.4 606.1,474.2 607.6,475.0 609.1,475.7 610.6,476.3 612.1,477.0 613.6,477.5 615.1,478.1 616.6,478.6 618.1,479.0 619.6,479.5 621.1,479.9 622.6,480.2 624.1,480.6 625.6,480.9 627.1,481.1 628.6,481.4 630.1,481.7 631.6,481.9 633.1,482.1 634.6,482.3 636.1,482.4 637.6,482.6 639.1,482.7 640.6,482.9 642.1,483.0 643.6,483.1 645.1,483.2 646.6,483.3 648.1,483.4 649.6,483.5 651.1,483.5 652.6,483.5 654.1,483.5 655.6,483.5 657.1,483.5 658.6,483.5 660.1,483.5 661.6,483.5 663.1,483.5 664.6,483.5 666.1,483.5 667.6,483.5 669.1,483.5 670.6,483.5 672.1,483.5 673.6,483.5 675.1,483.5 676.6,483.5 678.1,483.5 679.6,483.5 681.1,483.5 681.4,483.5" fill="none" stroke="#2a962a" stroke-width="1.0" stroke-linejoin="round"/>
<polyline points="397.6,483.5 399.1,483.5 400.6,483.5 402.1,483.5 403.6,483.5 405.1,483.5 406.6,483.5 408.1,483.5 409.6,483.5 411.1,483.5 412.6,483.5 414.1,483.5 415.6,483.5 417.1,483.5 418.6,483.5 420.1,483.5 421.6,483.5 423.1,483.5 424.6,483.5 426.1,483.5 427.6,483.5 429.1,483.3 430.6,483.1 432.1,482.9 433.6,482.6 435.1,482.3 436.6,481.8 438.1,481.3 439.6,480.8 441.1,480.1 442.6,479.3 444.1,478.4 445.6,477.4 447.1,476.2 448.6,474.9 450.1,473.4 451.6,471.7 453.1,469.8 454.6,467.7 456.1,465.3 457.6,462.7 459.1,459.9 460.6,456.8 462.1,453.4 463.6,449.7 465.1,445.8 466.6,441.5 468.1,437.0 469.6,432.2 471.1,427.2 472.6,421.9 474.1,416.3 475.6,410.5 477.1,404.5 478.6,398.3 480.1,392.0 481.6,385.6 483.1,379.0 484.6,372.5 486.1,365.9 487.6,359.3 489.1,352.8 490.6,346.5 492.1,340.3 493.6,334.3 495.1,328.5 496.6,323.0 498.1,317.9 499.6,313.1 501.1,308.7 502.6,304.8 504.1,301.3 505.6,298.3 507.1,295.8 508.6,293.8 510.1,292.3 511.6,291.4 513.1,291.0 514.6,291.1 516.1,291.7 517.6,292.6 519.1,293.8 520.6,295.5 522.1,297.4 523.6,299.7 525.1,302.3 526.6,305.2 528.1,308.3 529.6,311.7 531.1,315.3 532.6,319.0 534.1,323.0 535.6,327.1 537.1,331.4 538.6,335.7 540.1,340.2 541.6,344.7 543.1,349.3 544.6,353.9 546.1,358.5 547.6,363.2 549.1,367.8 550.6,372.4 552.1,376.9 553.6,381.4 555.1,385.9 556.6,390.2 558.1,394.5 559.6,398.7 561.1,402.8 562.6,406.8 564.1,410.6 565.6,414.4 567.1,418.1 568.6,421.6 570.1,425.0 571.6,428.3 573.1,431.4 574.6,434.4 576.1,437.3 577.6,440.1 579.1,442.8 580.6,445.3 582.1,447.7 583.6,450.0 585.1,452.2 586.6,454.3 588.1,456.2 589.6,458.1 591.1,459.8 592.6,461.5 594.1,463.1 595.6,464.5 597.1,465.9 598.6,467.2 600.1,468.5 601.6,469.6 603.1,470.7 604.6,471.7 606.1,472.6 607.6,473.5 609.1,474.3 610.6,475.1 612.1,475.8 613.6,476.5 615.1,477.1 616.6,477.6 618.1,478.2 619.6,478.7 621.1,479.1 622.6,479.5 624.1,479.9 625.6,480.3 627.1,480.6 628.6,480.9 630.1,481.2 631.6,481.5 633.1,481.7 634.6,481.9 636.1,482.1 637.6,482.3 639.1,482.5 640.6,482.6 642.1,482.8 643.6,482.9 645.1,483.0 646.6,483.1 648.1,483.2 649.6,483.3 651.1,483.4 652.6,483.5 654.1,483.5 655.6,483.5 657.1,483.5 658.6,483.5 660.1,483.5 661.6,483.5 663.1,483.5 664.6,483.5 666.1,483.5 667.6,483.5 669.1,483.5 670.6,483.5 672.1,483.5 673.6,483.5 675.1,483.5 676.6,483.5 678.1,483.5 679.6,483.5 681.1,483.5 681.4,483.5" fill="none" stroke="#2c2c86" stroke-width="1.0" stroke-linejoin="round"/>
<polyline points="397.6,483.5 399.1,483.5 400.6,483.5 402.1,483.5 403.6,483.5 405.1,483.5 406.6,483.5 408.1,483.5 409.6,483.5 411.1,483.5 412.6,483.5 414.1,483.5 415.6,483.5 417.1,483.5 418.6,483.5 420.1,483.5 421.6,483.5 423.1,483.5 424.6,483.5 426.1,483.5 427.6,483.5 429.1,483.5 430.6,483.5 432.1,483.3 433.6,483.1 435.1,482.9 436.6,482.6 438.1,482.3 439.6,481.9 441.1,481.4 442.6,480.8 444.1,480.1 445.6,479.3 447.1,478.3 448.6,477.4 450.1,476.4 451.6,475.2 453.1,473.6 454.6,471.9 456.1,469.9 457.6,467.8 459.1,465.4 460.6,462.8 462.1,460.1 463.6,457.2 465.1,454.1 466.6,450.8 468.1,446.8 469.6,442.4 471.1,437.7 472.6,432.9 474.1,427.8 475.6,422.5 477.1,417.1 478.6,411.9 480.1,406.5 481.6,400.9 483.1,394.6 484.6,388.1 486.1,381.5 487.6,374.8 489.1,368.3 490.6,361.7 492.1,355.2 493.6,348.8 495.1,342.5 496.6,336.5 498.1,331.0 499.6,325.9 501.1,321.1 502.6,316.2 504.1,311.2 505.6,306.7 507.1,302.6 508.6,299.2 510.1,296.3 511.6,293.9 513.1,292.4 514.6,291.4 516.1,291.0 517.6,291.2 519.1,291.8 520.6,292.7 522.1,294.1 523.6,295.6 525.1,297.5 526.6,299.7 528.1,302.1 529.6,304.7 531.1,307.7 532.6,310.6 534.1,313.7 535.6,317.0 537.1,320.5 538.6,324.5 540.1,328.7 541.6,332.9 543.1,337.9 544.6,342.9 546.1,348.0 547.6,352.6 549.1,356.7 550.6,360.9 552.1,365.2 553.6,370.1 555.1,374.9 556.6,379.6 558.1,384.3 559.6,389.0 561.1,393.5 562.6,397.8 564.1,401.8 565.6,405.8 567.1,409.7 568.6,413.6 570.1,417.4 571.6,421.1 573.1,424.4 574.6,427.6 576.1,430.7 577.6,433.8 579.1,436.9 580.6,439.8 582.1,442.5 583.6,444.9 585.1,447.2 586.6,449.4 588.1,451.5 589.6,453.5 591.1,455.4 592.6,457.4 594.1,459.4 595.6,461.4 597.1,463.2 598.6,464.6 600.1,466.0 601.6,467.3 603.1,468.5 604.6,469.6 606.1,470.7 607.6,471.7 609.1,472.7 610.6,473.6 612.1,474.4 613.6,475.1 615.1,475.8 616.6,476.5 618.1,477.1 619.6,477.6 621.1,478.1 622.6,478.6 624.1,479.1 625.6,479.5 627.1,479.9 628.6,480.2 630.1,480.6 631.6,480.9 633.1,481.2 634.6,481.4 636.1,481.6 637.6,481.9 639.1,482.1 640.6,482.4 642.1,482.6 643.6,482.7 645.1,482.8 646.6,482.9 648.1,483.0 649.6,483.1 651.1,483.3 652.6,483.3 654.1,483.4 655.6,483.4 657.1,483.5 658.6,483.5 660.1,483.5 661.6,483.5 663.1,483.5 664.6,483.5 666.1,483.5 667.6,483.5 669.1,483.5 670.6,483.5 672.1,483.5 673.6,483.5 675.1,483.5 676.6,483.5 678.1,483.5 679.6,483.5 681.1,483.5 681.4,483.5" fill="none" stroke="#9050f4" stroke-width="1.3" stroke-linejoin="round"/>
<polyline points="397.6,483.5 399.1,483.5 400.6,483.5 402.1,483.5 403.6,483.5 405.1,483.5 406.6,483.5 408.1,483.5 409.6,483.5 411.1,483.5 412.6,483.5 414.1,483.5 415.6,483.5 417.1,483.5 418.6,483.5 420.1,483.5 421.6,483.5 423.1,483.5 424.6,483.5 426.1,483.5 427.6,483.5 429.1,483.5 430.6,483.5 432.1,483.5 433.6,483.4 435.1,483.3 436.6,483.2 438.1,482.9 439.6,482.5 441.1,482.0 442.6,481.6 444.1,481.1 445.6,480.5 447.1,479.9 448.6,479.2 450.1,478.4 451.6,477.6 453.1,476.5 454.6,475.2 456.1,473.8 457.6,472.0 459.1,469.9 460.6,467.6 462.1,465.1 463.6,462.8 465.1,460.2 466.6,457.4 468.1,454.0 469.6,450.3 471.1,446.2 472.6,442.2 474.1,438.3 475.6,434.2 477.1,429.7 478.6,424.4 480.1,418.8 481.6,413.0 483.1,407.3 484.6,401.5 486.1,395.5 487.6,389.4 489.1,383.3 490.6,377.2 492.1,370.9 493.6,364.0 495.1,357.1 496.6,350.2 498.1,343.9 499.6,337.8 501.1,331.9 502.6,326.7 504.1,322.1 505.6,317.9 507.1,313.9 508.6,309.6 510.1,305.6 511.6,302.1 513.1,298.9 514.6,296.0 516.1,293.7 517.6,292.5 519.1,292.5 520.6,293.0 522.1,293.6 523.6,293.3 525.1,293.4 526.6,293.9 528.1,295.6 529.6,297.8 531.1,300.3 532.6,303.0 534.1,306.0 535.6,309.2 537.1,312.8 538.6,316.7 540.1,320.9 541.6,325.2 543.1,329.1 544.6,333.0 546.1,337.1 547.6,341.2 549.1,345.4 550.6,349.7 552.1,354.2 553.6,359.5 555.1,364.7 556.6,370.0 558.1,374.8 559.6,379.6 561.1,384.4 562.6,388.5 564.1,392.2 565.6,395.8 567.1,399.6 568.6,404.3 570.1,408.8 571.6,413.1 573.1,417.0 574.6,420.7 576.1,424.2 577.6,427.4 579.1,430.1 580.6,432.8 582.1,435.5 583.6,438.4 585.1,441.2 586.6,443.9 588.1,446.3 589.6,448.6 591.1,450.8 592.6,452.9 594.1,454.9 595.6,456.9 597.1,458.7 598.6,460.7 600.1,462.5 601.6,464.2 603.1,465.6 604.6,466.9 606.1,468.1 607.6,469.4 609.1,470.6 610.6,471.7 612.1,472.8 613.6,473.5 615.1,474.1 616.6,474.8 618.1,475.5 619.6,476.2 621.1,476.9 622.6,477.4 624.1,477.9 625.6,478.4 627.1,478.8 628.6,479.2 630.1,479.6 631.6,480.0 633.1,480.4 634.6,480.8 636.1,481.1 637.6,481.5 639.1,481.8 640.6,482.1 642.1,482.3 643.6,482.4 645.1,482.4 646.6,482.5 648.1,482.7 649.6,482.9 651.1,483.0 652.6,483.2 654.1,483.3 655.6,483.3 657.1,483.4 658.6,483.5 660.1,483.5 661.6,483.5 663.1,483.5 664.6,483.5 666.1,483.5 667.6,483.5 669.1,483.5 670.6,483.5 672.1,483.5 673.6,483.5 675.1,483.5 676.6,483.5 678.1,483.5 679.6,483.5 681.1,483.5 681.4,483.5" fill="none" stroke="#8c3090" stroke-width="1.0" stroke-linejoin="round"/>
<rect x="396.8" y="274.8" width="285.4" height="209.4" fill="none" stroke="#000" stroke-width="1.8"/>
<line x1="396.8" y1="484.2" x2="396.8" y2="476.2" stroke="#000" stroke-width="1.6"/>
<text x="396.8" y="503.7" text-anchor="middle" class="tl">-6.8</text>
<line x1="440.7" y1="484.2" x2="440.7" y2="476.2" stroke="#000" stroke-width="1.6"/>
<text x="440.7" y="503.7" text-anchor="middle" class="tl">-6.6</text>
<line x1="484.6" y1="484.2" x2="484.6" y2="476.2" stroke="#000" stroke-width="1.6"/>
<text x="484.6" y="503.7" text-anchor="middle" class="tl">-6.4</text>
<line x1="528.5" y1="484.2" x2="528.5" y2="476.2" stroke="#000" stroke-width="1.6"/>
<text x="528.5" y="503.7" text-anchor="middle" class="tl">-6.2</text>
<line x1="572.4" y1="484.2" x2="572.4" y2="476.2" stroke="#000" stroke-width="1.6"/>
<text x="572.4" y="503.7" text-anchor="middle" class="tl">-6.0</text>
<line x1="616.3" y1="484.2" x2="616.3" y2="476.2" stroke="#000" stroke-width="1.6"/>
<text x="616.3" y="503.7" text-anchor="middle" class="tl">-5.8</text>
<line x1="660.2" y1="484.2" x2="660.2" y2="476.2" stroke="#000" stroke-width="1.6"/>
<text x="660.2" y="503.7" text-anchor="middle" class="tl">-5.6</text>
<line x1="418.8" y1="484.2" x2="418.8" y2="479.7" stroke="#000" stroke-width="1.6"/>
<line x1="462.7" y1="484.2" x2="462.7" y2="479.7" stroke="#000" stroke-width="1.6"/>
<line x1="506.6" y1="484.2" x2="506.6" y2="479.7" stroke="#000" stroke-width="1.6"/>
<line x1="550.5" y1="484.2" x2="550.5" y2="479.7" stroke="#000" stroke-width="1.6"/>
<line x1="594.4" y1="484.2" x2="594.4" y2="479.7" stroke="#000" stroke-width="1.6"/>
<line x1="638.3" y1="484.2" x2="638.3" y2="479.7" stroke="#000" stroke-width="1.6"/>
<line x1="682.2" y1="484.2" x2="682.2" y2="479.7" stroke="#000" stroke-width="1.6"/>
<line x1="396.8" y1="484.2" x2="404.8" y2="484.2" stroke="#000" stroke-width="1.6"/>
<text x="387.8" y="488.7" text-anchor="end" class="tl">0.0</text>
<line x1="396.8" y1="449.3" x2="404.8" y2="449.3" stroke="#000" stroke-width="1.6"/>
<text x="387.8" y="453.8" text-anchor="end" class="tl">0.5</text>
<line x1="396.8" y1="414.4" x2="404.8" y2="414.4" stroke="#000" stroke-width="1.6"/>
<text x="387.8" y="418.9" text-anchor="end" class="tl">1.0</text>
<line x1="396.8" y1="379.5" x2="404.8" y2="379.5" stroke="#000" stroke-width="1.6"/>
<text x="387.8" y="384.0" text-anchor="end" class="tl">1.5</text>
<line x1="396.8" y1="344.6" x2="404.8" y2="344.6" stroke="#000" stroke-width="1.6"/>
<text x="387.8" y="349.1" text-anchor="end" class="tl">2.0</text>
<line x1="396.8" y1="309.7" x2="404.8" y2="309.7" stroke="#000" stroke-width="1.6"/>
<text x="387.8" y="314.2" text-anchor="end" class="tl">2.5</text>
<line x1="396.8" y1="274.8" x2="404.8" y2="274.8" stroke="#000" stroke-width="1.6"/>
<text x="387.8" y="279.3" text-anchor="end" class="tl">3.0</text>
<line x1="396.8" y1="466.8" x2="401.3" y2="466.8" stroke="#000" stroke-width="1.6"/>
<line x1="396.8" y1="431.9" x2="401.3" y2="431.9" stroke="#000" stroke-width="1.6"/>
<line x1="396.8" y1="396.9" x2="401.3" y2="396.9" stroke="#000" stroke-width="1.6"/>
<line x1="396.8" y1="362.1" x2="401.3" y2="362.1" stroke="#000" stroke-width="1.6"/>
<line x1="396.8" y1="327.1" x2="401.3" y2="327.1" stroke="#000" stroke-width="1.6"/>
<line x1="396.8" y1="292.2" x2="401.3" y2="292.2" stroke="#000" stroke-width="1.6"/>
<text x="513.4" y="525.6" class="at"><tspan font-style="italic">E</tspan><tspan class="sub" dy="6">p</tspan><tspan dy="-6"> (eV)</tspan></text>
<text transform="translate(360.0,392.4) rotate(-90)" text-anchor="middle" class="at"><tspan font-style="italic">P</tspan>(<tspan font-style="italic">E</tspan><tspan class="sub" dy="6">p</tspan><tspan dy="-6">)</tspan></text>
<text x="404.5" y="294.0" class="pl">(d)</text>
<line x1="398.8" y1="312.0" x2="422.1" y2="312.0" stroke="#111" stroke-width="1.7" stroke-dasharray="4 2.6"/>
<text x="424.8" y="316.0" class="lg">Total</text>
<line x1="398.8" y1="327.3" x2="422.1" y2="327.3" stroke="#e03a34" stroke-width="1.0"/>
<text x="424.8" y="331.3" class="lg"><tspan class="lgN">N</tspan><tspan class="lsub" dx="-1" dy="4.5">Q</tspan><tspan dy="-4.5"> = 0</tspan></text>
<line x1="398.8" y1="347.2" x2="422.1" y2="347.2" stroke="#3434d8" stroke-width="1.1"/>
<text x="424.8" y="351.2" class="lg"><tspan class="lgN">N</tspan><tspan class="lsub" dx="-1" dy="4.5">Q</tspan><tspan dy="-4.5"> = 1</tspan></text>
<line x1="398.8" y1="366.5" x2="422.1" y2="366.5" stroke="#e070e6" stroke-width="1.6"/>
<text x="424.8" y="370.5" class="lg"><tspan class="lgN">N</tspan><tspan class="lsub" dx="-1" dy="4.5">Q</tspan><tspan dy="-4.5"> = 2</tspan></text>
<line x1="398.8" y1="386.0" x2="422.1" y2="386.0" stroke="#2a962a" stroke-width="1.0"/>
<text x="424.8" y="390.0" class="lg"><tspan class="lgN">N</tspan><tspan class="lsub" dx="-1" dy="4.5">Q</tspan><tspan dy="-4.5"> = 3</tspan></text>
<line x1="398.8" y1="405.6" x2="422.1" y2="405.6" stroke="#2c2c86" stroke-width="1.1"/>
<text x="424.8" y="409.6" class="lg"><tspan class="lgN">N</tspan><tspan class="lsub" dx="-1" dy="4.5">Q</tspan><tspan dy="-4.5"> = 4</tspan></text>
<line x1="398.8" y1="425.5" x2="422.1" y2="425.5" stroke="#9050f4" stroke-width="1.6"/>
<text x="424.8" y="429.5" class="lg"><tspan class="lgN">N</tspan><tspan class="lsub" dx="-1" dy="4.5">Q</tspan><tspan dy="-4.5"> = 5</tspan></text>
<line x1="398.8" y1="445.5" x2="422.1" y2="445.5" stroke="#8c3090" stroke-width="1.1"/>
<text x="424.8" y="449.5" class="lg"><tspan class="lgN">N</tspan><tspan class="lsub" dx="-1" dy="4.5">Q</tspan><tspan dy="-4.5"> = 6</tspan></text>
<text x="582.0" y="427.7" class="ml">Zr (Ni<tspan class="msub" dy="6.5">33</tspan><tspan dy="-6.5">Zr</tspan><tspan class="msub" dy="6.5">67</tspan><tspan dy="-6.5">)</tspan></text>
<rect x="569.8" y="276.8" width="109.5" height="83.1" fill="#fff" stroke="#000" stroke-width="1.3"/>
<line x1="569.8" y1="359.9" x2="569.8" y2="355.9" stroke="#000" stroke-width="1"/>
<text x="569.8" y="371.4" text-anchor="middle" class="il">0</text>
<line x1="585.4" y1="359.9" x2="585.4" y2="355.9" stroke="#000" stroke-width="1"/>
<text x="585.4" y="371.4" text-anchor="middle" class="il">1</text>
<line x1="601.1" y1="359.9" x2="601.1" y2="355.9" stroke="#000" stroke-width="1"/>
<text x="601.1" y="371.4" text-anchor="middle" class="il">2</text>
<line x1="616.7" y1="359.9" x2="616.7" y2="355.9" stroke="#000" stroke-width="1"/>
<text x="616.7" y="371.4" text-anchor="middle" class="il">3</text>
<line x1="632.4" y1="359.9" x2="632.4" y2="355.9" stroke="#000" stroke-width="1"/>
<text x="632.4" y="371.4" text-anchor="middle" class="il">4</text>
<line x1="648.0" y1="359.9" x2="648.0" y2="355.9" stroke="#000" stroke-width="1"/>
<text x="648.0" y="371.4" text-anchor="middle" class="il">5</text>
<line x1="663.7" y1="359.9" x2="663.7" y2="355.9" stroke="#000" stroke-width="1"/>
<text x="663.7" y="371.4" text-anchor="middle" class="il">6</text>
<line x1="679.3" y1="359.9" x2="679.3" y2="355.9" stroke="#000" stroke-width="1"/>
<text x="679.3" y="371.4" text-anchor="middle" class="il">7</text>
<line x1="577.6" y1="359.9" x2="577.6" y2="357.4" stroke="#000" stroke-width="1"/>
<line x1="593.3" y1="359.9" x2="593.3" y2="357.4" stroke="#000" stroke-width="1"/>
<line x1="608.9" y1="359.9" x2="608.9" y2="357.4" stroke="#000" stroke-width="1"/>
<line x1="624.5" y1="359.9" x2="624.5" y2="357.4" stroke="#000" stroke-width="1"/>
<line x1="640.2" y1="359.9" x2="640.2" y2="357.4" stroke="#000" stroke-width="1"/>
<line x1="655.8" y1="359.9" x2="655.8" y2="357.4" stroke="#000" stroke-width="1"/>
<line x1="671.5" y1="359.9" x2="671.5" y2="357.4" stroke="#000" stroke-width="1"/>
<line x1="569.8" y1="297.3" x2="573.8" y2="297.3" stroke="#000" stroke-width="1"/>
<text x="566.8" y="300.5" text-anchor="end" class="il">-6.20</text>
<line x1="569.8" y1="325.4" x2="573.8" y2="325.4" stroke="#000" stroke-width="1"/>
<text x="566.8" y="328.6" text-anchor="end" class="il">-6.24</text>
<line x1="569.8" y1="353.3" x2="573.8" y2="353.3" stroke="#000" stroke-width="1"/>
<text x="566.8" y="356.5" text-anchor="end" class="il">-6.28</text>
<line x1="569.8" y1="283.0" x2="572.3" y2="283.0" stroke="#000" stroke-width="1"/>
<line x1="569.8" y1="311.5" x2="572.3" y2="311.5" stroke="#000" stroke-width="1"/>
<line x1="569.8" y1="339.4" x2="572.3" y2="339.4" stroke="#000" stroke-width="1"/>
<polyline points="569.8,353.3 585.4,346.6 601.1,338.1 616.7,328.6 632.4,319.1 648.0,307.7 663.7,297.3 679.3,284.4" fill="none" stroke="#000" stroke-width="1.1"/>
<rect x="567.8" y="351.3" width="4" height="4" fill="#fff" stroke="#000" stroke-width="1"/>
<rect x="583.4" y="344.6" width="4" height="4" fill="#fff" stroke="#000" stroke-width="1"/>
<rect x="599.1" y="336.1" width="4" height="4" fill="#fff" stroke="#000" stroke-width="1"/>
<rect x="614.7" y="326.6" width="4" height="4" fill="#fff" stroke="#000" stroke-width="1"/>
<rect x="630.4" y="317.1" width="4" height="4" fill="#fff" stroke="#000" stroke-width="1"/>
<rect x="646.0" y="305.7" width="4" height="4" fill="#fff" stroke="#000" stroke-width="1"/>
<rect x="661.7" y="295.3" width="4" height="4" fill="#fff" stroke="#000" stroke-width="1"/>
<rect x="677.3" y="282.4" width="4" height="4" fill="#fff" stroke="#000" stroke-width="1"/>
<text x="624.5" y="386.0" text-anchor="middle" class="iat"><tspan font-style="italic">N</tspan><tspan font-size="6.5" font-style="italic" dy="3">Q</tspan></text>
<text transform="translate(540.0,314.0) rotate(-90)" text-anchor="middle" class="iat">&lt;<tspan font-style="italic">E</tspan><tspan font-size="6.5" font-style="italic" dy="2.5">p</tspan><tspan dy="-2.5">&gt;</tspan></text>
<polyline points="44.5,756.1 46.0,756.1 47.5,756.1 49.0,756.1 50.5,756.1 52.0,756.1 53.5,756.1 55.0,756.1 56.5,756.1 58.0,756.1 59.5,756.1 61.0,756.1 62.5,756.1 64.0,756.1 65.5,756.1 67.0,756.1 68.5,756.1 70.0,756.1 71.5,756.1 73.0,756.1 74.5,755.9 76.0,755.7 77.5,755.4 79.0,755.1 80.5,754.7 82.0,754.2 83.5,753.7 85.0,753.0 86.5,752.2 88.0,751.3 89.5,750.3 91.0,749.1 92.5,747.7 94.0,746.1 95.5,744.3 97.0,742.3 98.5,740.0 100.0,737.5 101.5,734.6 103.0,731.5 104.5,728.1 106.0,724.3 107.5,720.3 109.0,715.8 110.5,711.1 112.0,706.0 113.5,700.6 115.0,694.9 116.5,688.8 118.0,682.5 119.5,675.9 121.0,669.1 122.5,662.1 124.0,654.9 125.5,647.6 127.0,640.2 128.5,632.7 130.0,625.3 131.5,617.9 133.0,610.7 134.5,603.6 136.0,596.8 137.5,590.2 139.0,583.9 140.5,578.1 142.0,572.6 143.5,567.6 145.0,563.2 146.5,559.2 148.0,555.9 149.5,553.1 151.0,551.0 152.5,549.5 154.0,548.6 155.5,548.4 157.0,548.7 158.5,549.7 160.0,551.1 161.5,553.0 163.0,555.3 164.5,558.2 166.0,561.4 167.5,564.9 169.0,568.8 170.5,573.1 172.0,577.5 173.5,582.3 175.0,587.2 176.5,592.3 178.0,597.5 179.5,602.9 181.0,608.3 182.5,613.8 184.0,619.3 185.5,624.8 187.0,630.3 188.5,635.7 190.0,641.1 191.5,646.4 193.0,651.7 194.5,656.8 196.0,661.8 197.5,666.7 199.0,671.4 200.5,676.0 202.0,680.5 203.5,684.8 205.0,688.9 206.5,692.9 208.0,696.8 209.5,700.4 211.0,703.9 212.5,707.3 214.0,710.4 215.5,713.5 217.0,716.3 218.5,719.0 220.0,721.6 221.5,724.1 223.0,726.4 224.5,728.5 226.0,730.6 227.5,732.5 229.0,734.3 230.5,735.9 232.0,737.5 233.5,739.0 235.0,740.4 236.5,741.6 238.0,742.8 239.5,744.0 241.0,745.0 242.5,745.9 244.0,746.8 245.5,747.7 247.0,748.4 248.5,749.1 250.0,749.8 251.5,750.4 253.0,750.9 254.5,751.4 256.0,751.9 257.5,752.3 259.0,752.7 260.5,753.1 262.0,753.4 263.5,753.7 265.0,754.0 266.5,754.3 268.0,754.5 269.5,754.7 271.0,754.9 272.5,755.1 274.0,755.3 275.5,755.4 277.0,755.5 278.5,755.7 280.0,755.8 281.5,755.9 283.0,756.0 284.5,756.0 286.0,756.1 287.5,756.1 289.0,756.1 290.5,756.1 292.0,756.1 293.5,756.1 295.0,756.1 296.5,756.1 298.0,756.1 299.5,756.1 301.0,756.1 302.5,756.1 304.0,756.1 305.5,756.1 307.0,756.1 308.5,756.1 310.0,756.1 311.5,756.1 313.0,756.1 314.5,756.1 316.0,756.1 317.5,756.1 319.0,756.1 320.5,756.1 322.0,756.1 323.5,756.1 325.0,756.1 326.5,756.1 328.0,756.1 329.5,756.1 331.0,756.1 332.5,756.1 334.0,756.1 334.3,756.1" fill="none" stroke="#1a1a1a" stroke-width="1.7" stroke-dasharray="3.6 2.6"/>
<polyline points="44.5,756.1 46.0,756.1 47.5,756.1 49.0,756.1 50.5,756.1 52.0,756.1 53.5,756.1 55.0,756.1 56.5,756.1 58.0,756.1 59.5,756.1 61.0,756.1 62.5,756.1 64.0,756.1 65.5,756.1 67.0,756.1 68.5,756.1 70.0,756.0 71.5,755.8 73.0,755.6 74.5,755.3 76.0,754.9 77.5,754.5 79.0,754.0 80.5,753.4 82.0,752.7 83.5,751.8 85.0,750.8 86.5,749.7 88.0,748.4 89.5,746.9 91.0,745.2 92.5,743.2 94.0,741.1 95.5,738.6 97.0,735.9 98.5,732.9 100.0,729.6 101.5,725.9 103.0,721.9 104.5,717.6 106.0,713.0 107.5,708.0 109.0,702.6 110.5,697.0 112.0,691.0 113.5,684.7 115.0,678.1 116.5,671.3 118.0,664.3 119.5,657.1 121.0,649.7 122.5,642.3 124.0,634.7 125.5,627.2 127.0,619.8 128.5,612.4 130.0,605.2 131.5,598.2 133.0,591.4 134.5,585.0 136.0,578.9 137.5,573.3 139.0,568.1 140.5,563.5 142.0,559.4 143.5,555.8 145.0,552.9 146.5,550.6 148.0,548.9 149.5,547.9 151.0,547.5 152.5,547.8 154.0,548.5 155.5,549.8 157.0,551.6 158.5,553.9 160.0,556.6 161.5,559.7 163.0,563.1 164.5,566.9 166.0,571.0 167.5,575.4 169.0,580.0 170.5,584.9 172.0,589.9 173.5,595.1 175.0,600.4 176.5,605.7 178.0,611.2 179.5,616.7 181.0,622.1 182.5,627.6 184.0,633.1 185.5,638.5 187.0,643.8 188.5,649.0 190.0,654.2 191.5,659.2 193.0,664.1 194.5,668.9 196.0,673.6 197.5,678.1 199.0,682.5 200.5,686.7 202.0,690.7 203.5,694.6 205.0,698.3 206.5,701.9 208.0,705.3 209.5,708.5 211.0,711.6 212.5,714.6 214.0,717.4 215.5,720.0 217.0,722.5 218.5,724.9 220.0,727.1 221.5,729.2 223.0,731.2 224.5,733.1 226.0,734.8 227.5,736.4 229.0,738.0 230.5,739.4 232.0,740.7 233.5,742.0 235.0,743.1 236.5,744.2 238.0,745.2 239.5,746.2 241.0,747.0 242.5,747.8 244.0,748.6 245.5,749.3 247.0,749.9 248.5,750.5 250.0,751.0 251.5,751.5 253.0,752.0 254.5,752.4 256.0,752.8 257.5,753.1 259.0,753.5 260.5,753.8 262.0,754.1 263.5,754.3 265.0,754.5 266.5,754.7 268.0,754.9 269.5,755.1 271.0,755.3 272.5,755.4 274.0,755.5 275.5,755.7 277.0,755.8 278.5,755.9 280.0,756.0 281.5,756.0 283.0,756.1 284.5,756.1 286.0,756.1 287.5,756.1 289.0,756.1 290.5,756.1 292.0,756.1 293.5,756.1 295.0,756.1 296.5,756.1 298.0,756.1 299.5,756.1 301.0,756.1 302.5,756.1 304.0,756.1 305.5,756.1 307.0,756.1 308.5,756.1 310.0,756.1 311.5,756.1 313.0,756.1 314.5,756.1 316.0,756.1 317.5,756.1 319.0,756.1 320.5,756.1 322.0,756.1 323.5,756.1 325.0,756.1 326.5,756.1 328.0,756.1 329.5,756.1 331.0,756.1 332.5,756.1 334.0,756.1 334.3,756.1" fill="none" stroke="#e03a34" stroke-width="1.0" stroke-linejoin="round"/>
<polyline points="44.5,756.1 46.0,756.1 47.5,756.1 49.0,756.1 50.5,756.1 52.0,756.1 53.5,756.1 55.0,756.1 56.5,756.1 58.0,756.1 59.5,756.1 61.0,756.1 62.5,756.1 64.0,756.1 65.5,756.1 67.0,756.1 68.5,756.1 70.0,756.1 71.5,756.0 73.0,755.8 74.5,755.6 76.0,755.3 77.5,755.0 79.0,754.5 80.5,754.0 82.0,753.4 83.5,752.7 85.0,751.9 86.5,750.9 88.0,749.8 89.5,748.5 91.0,747.0 92.5,745.4 94.0,743.5 95.5,741.3 97.0,738.9 98.5,736.2 100.0,733.3 101.5,730.0 103.0,726.4 104.5,722.5 106.0,718.2 107.5,713.6 109.0,708.7 110.5,703.4 112.0,697.8 113.5,691.9 115.0,685.7 116.5,679.2 118.0,672.5 119.5,665.5 121.0,658.3 122.5,651.0 124.0,643.6 125.5,636.1 127.0,628.7 128.5,621.2 130.0,613.9 131.5,606.6 133.0,599.6 134.5,592.9 136.0,586.4 137.5,580.3 139.0,574.6 140.5,569.4 142.0,564.7 143.5,560.5 145.0,556.8 146.5,553.8 148.0,551.4 149.5,549.6 151.0,548.4 152.5,547.9 154.0,548.0 155.5,548.7 157.0,549.9 158.5,551.6 160.0,553.8 161.5,556.4 163.0,559.4 164.5,562.8 166.0,566.5 167.5,570.6 169.0,575.0 170.5,579.6 172.0,584.4 173.5,589.4 175.0,594.5 176.5,599.8 178.0,605.2 179.5,610.6 181.0,616.1 182.5,621.6 184.0,627.1 185.5,632.6 187.0,638.0 188.5,643.3 190.0,648.6 191.5,653.8 193.0,658.8 194.5,663.8 196.0,668.6 197.5,673.3 199.0,677.8 200.5,682.2 202.0,686.4 203.5,690.5 205.0,694.4 206.5,698.1 208.0,701.7 209.5,705.1 211.0,708.4 212.5,711.5 214.0,714.5 215.5,717.3 217.0,719.9 218.5,722.5 220.0,724.8 221.5,727.1 223.0,729.2 224.5,731.2 226.0,733.0 227.5,734.8 229.0,736.4 230.5,738.0 232.0,739.4 233.5,740.7 235.0,742.0 236.5,743.2 238.0,744.2 239.5,745.3 241.0,746.2 242.5,747.1 244.0,747.9 245.5,748.6 247.0,749.3 248.5,749.9 250.0,750.5 251.5,751.1 253.0,751.5 254.5,752.0 256.0,752.4 257.5,752.8 259.0,753.2 260.5,753.5 262.0,753.8 263.5,754.1 265.0,754.3 266.5,754.5 268.0,754.8 269.5,754.9 271.0,755.1 272.5,755.3 274.0,755.4 275.5,755.6 277.0,755.7 278.5,755.8 280.0,755.9 281.5,756.0 283.0,756.1 284.5,756.1 286.0,756.1 287.5,756.1 289.0,756.1 290.5,756.1 292.0,756.1 293.5,756.1 295.0,756.1 296.5,756.1 298.0,756.1 299.5,756.1 301.0,756.1 302.5,756.1 304.0,756.1 305.5,756.1 307.0,756.1 308.5,756.1 310.0,756.1 311.5,756.1 313.0,756.1 314.5,756.1 316.0,756.1 317.5,756.1 319.0,756.1 320.5,756.1 322.0,756.1 323.5,756.1 325.0,756.1 326.5,756.1 328.0,756.1 329.5,756.1 331.0,756.1 332.5,756.1 334.0,756.1 334.3,756.1" fill="none" stroke="#3434d8" stroke-width="1.0" stroke-linejoin="round"/>
<polyline points="44.5,756.1 46.0,756.1 47.5,756.1 49.0,756.1 50.5,756.1 52.0,756.1 53.5,756.1 55.0,756.1 56.5,756.1 58.0,756.1 59.5,756.1 61.0,756.1 62.5,756.1 64.0,756.1 65.5,756.1 67.0,756.1 68.5,756.1 70.0,756.1 71.5,756.1 73.0,756.0 74.5,755.9 76.0,755.6 77.5,755.3 79.0,755.0 80.5,754.6 82.0,754.1 83.5,753.5 85.0,752.8 86.5,752.0 88.0,751.0 89.5,749.9 91.0,748.6 92.5,747.2 94.0,745.5 95.5,743.7 97.0,741.6 98.5,739.2 100.0,736.6 101.5,733.6 103.0,730.4 104.5,726.9 106.0,723.0 107.5,718.8 109.0,714.3 110.5,709.4 112.0,704.2 113.5,698.7 115.0,692.8 116.5,686.7 118.0,680.3 119.5,673.6 121.0,666.7 122.5,659.6 124.0,652.3 125.5,645.0 127.0,637.5 128.5,630.1 130.0,622.7 131.5,615.3 133.0,608.1 134.5,601.1 136.0,594.3 137.5,587.9 139.0,581.7 140.5,576.0 142.0,570.7 143.5,565.9 145.0,561.6 146.5,557.9 148.0,554.7 149.5,552.2 151.0,550.3 152.5,549.0 154.0,548.4 155.5,548.4 157.0,548.9 158.5,550.0 160.0,551.6 161.5,553.7 163.0,556.2 164.5,559.1 166.0,562.5 167.5,566.2 169.0,570.2 170.5,574.5 172.0,579.1 173.5,583.9 175.0,588.9 176.5,594.0 178.0,599.3 179.5,604.6 181.0,610.1 182.5,615.6 184.0,621.1 185.5,626.6 187.0,632.1 188.5,637.5 190.0,642.9 191.5,648.2 193.0,653.3 194.5,658.4 196.0,663.4 197.5,668.2 199.0,672.9 200.5,677.5 202.0,681.9 203.5,686.1 205.0,690.2 206.5,694.2 208.0,697.9 209.5,701.5 211.0,705.0 212.5,708.3 214.0,711.4 215.5,714.4 217.0,717.2 218.5,719.9 220.0,722.4 221.5,724.8 223.0,727.0 224.5,729.2 226.0,731.1 227.5,733.0 229.0,734.8 230.5,736.4 232.0,738.0 233.5,739.4 235.0,740.8 236.5,742.0 238.0,743.2 239.5,744.3 241.0,745.3 242.5,746.2 244.0,747.1 245.5,747.9 247.0,748.6 248.5,749.3 250.0,749.9 251.5,750.5 253.0,751.1 254.5,751.6 256.0,752.0 257.5,752.5 259.0,752.8 260.5,753.2 262.0,753.5 263.5,753.8 265.0,754.1 266.5,754.3 268.0,754.6 269.5,754.8 271.0,755.0 272.5,755.1 274.0,755.3 275.5,755.4 277.0,755.6 278.5,755.7 280.0,755.8 281.5,755.9 283.0,756.0 284.5,756.1 286.0,756.1 287.5,756.1 289.0,756.1 290.5,756.1 292.0,756.1 293.5,756.1 295.0,756.1 296.5,756.1 298.0,756.1 299.5,756.1 301.0,756.1 302.5,756.1 304.0,756.1 305.5,756.1 307.0,756.1 308.5,756.1 310.0,756.1 311.5,756.1 313.0,756.1 314.5,756.1 316.0,756.1 317.5,756.1 319.0,756.1 320.5,756.1 322.0,756.1 323.5,756.1 325.0,756.1 326.5,756.1 328.0,756.1 329.5,756.1 331.0,756.1 332.5,756.1 334.0,756.1 334.3,756.1" fill="none" stroke="#e070e6" stroke-width="1.3" stroke-linejoin="round"/>
<polyline points="44.5,756.1 46.0,756.1 47.5,756.1 49.0,756.1 50.5,756.1 52.0,756.1 53.5,756.1 55.0,756.1 56.5,756.1 58.0,756.1 59.5,756.1 61.0,756.1 62.5,756.1 64.0,756.1 65.5,756.1 67.0,756.1 68.5,756.1 70.0,756.1 71.5,756.1 73.0,756.1 74.5,756.1 76.0,756.1 77.5,756.0 79.0,755.8 80.5,755.5 82.0,755.2 83.5,754.8 85.0,754.4 86.5,753.9 88.0,753.3 89.5,752.6 91.0,751.7 92.5,750.7 94.0,749.6 95.5,748.3 97.0,746.8 98.5,745.1 100.0,743.2 101.5,741.0 103.0,738.6 104.5,736.0 106.0,733.0 107.5,729.7 109.0,726.2 110.5,722.3 112.0,718.1 113.5,713.5 115.0,708.6 116.5,703.4 118.0,697.9 119.5,692.1 121.0,686.0 122.5,679.6 124.0,673.0 125.5,666.1 127.0,659.1 128.5,651.9 130.0,644.6 131.5,637.3 133.0,629.9 134.5,622.6 136.0,615.3 137.5,608.2 139.0,601.3 140.5,594.6 142.0,588.3 143.5,582.2 145.0,576.6 146.5,571.4 148.0,566.6 149.5,562.4 151.0,558.7 152.5,555.6 154.0,553.1 155.5,551.2 157.0,549.9 158.5,549.3 160.0,549.3 161.5,549.8 163.0,550.9 164.5,552.5 166.0,554.6 167.5,557.1 169.0,560.1 170.5,563.5 172.0,567.2 173.5,571.3 175.0,575.6 176.5,580.2 178.0,585.1 179.5,590.1 181.0,595.3 182.5,600.6 184.0,606.0 185.5,611.5 187.0,617.0 188.5,622.5 190.0,628.0 191.5,633.5 193.0,639.0 194.5,644.4 196.0,649.7 197.5,654.9 199.0,659.9 200.5,664.9 202.0,669.7 203.5,674.4 205.0,679.0 206.5,683.3 208.0,687.6 209.5,691.6 211.0,695.5 212.5,699.3 214.0,702.9 215.5,706.3 217.0,709.5 218.5,712.6 220.0,715.5 221.5,718.3 223.0,721.0 224.5,723.4 226.0,725.8 227.5,728.0 229.0,730.1 230.5,732.0 232.0,733.9 233.5,735.6 235.0,737.2 236.5,738.7 238.0,740.1 239.5,741.4 241.0,742.6 242.5,743.8 244.0,744.8 245.5,745.8 247.0,746.7 248.5,747.5 250.0,748.3 251.5,749.0 253.0,749.7 254.5,750.3 256.0,750.9 257.5,751.4 259.0,751.9 260.5,752.3 262.0,752.7 263.5,753.1 265.0,753.4 266.5,753.7 268.0,754.0 269.5,754.3 271.0,754.5 272.5,754.7 274.0,754.9 275.5,755.1 277.0,755.3 278.5,755.4 280.0,755.5 281.5,755.7 283.0,755.8 284.5,755.9 286.0,756.0 287.5,756.1 289.0,756.1 290.5,756.1 292.0,756.1 293.5,756.1 295.0,756.1 296.5,756.1 298.0,756.1 299.5,756.1 301.0,756.1 302.5,756.1 304.0,756.1 305.5,756.1 307.0,756.1 308.5,756.1 310.0,756.1 311.5,756.1 313.0,756.1 314.5,756.1 316.0,756.1 317.5,756.1 319.0,756.1 320.5,756.1 322.0,756.1 323.5,756.1 325.0,756.1 326.5,756.1 328.0,756.1 329.5,756.1 331.0,756.1 332.5,756.1 334.0,756.1 334.3,756.1" fill="none" stroke="#2a962a" stroke-width="1.0" stroke-linejoin="round"/>
<polyline points="44.5,756.1 46.0,756.1 47.5,756.1 49.0,756.1 50.5,756.1 52.0,756.1 53.5,756.1 55.0,756.1 56.5,756.1 58.0,756.1 59.5,756.1 61.0,756.1 62.5,756.1 64.0,756.1 65.5,756.1 67.0,756.1 68.5,756.1 70.0,756.1 71.5,756.1 73.0,756.1 74.5,756.1 76.0,756.1 77.5,756.1 79.0,756.1 80.5,755.9 82.0,755.7 83.5,755.4 85.0,755.1 86.5,754.7 88.0,754.3 89.5,753.7 91.0,753.1 92.5,752.3 94.0,751.5 95.5,750.4 97.0,749.3 98.5,747.9 100.0,746.4 101.5,744.7 103.0,742.7 104.5,740.5 106.0,738.1 107.5,735.4 109.0,732.3 110.5,729.0 112.0,725.4 113.5,721.5 115.0,717.2 116.5,712.7 118.0,707.8 119.5,702.5 121.0,697.0 122.5,691.2 124.0,685.0 125.5,678.7 127.0,672.0 128.5,665.2 130.0,658.2 131.5,651.1 133.0,643.8 134.5,636.5 136.0,629.2 137.5,622.0 139.0,614.8 140.5,607.8 142.0,600.9 143.5,594.3 145.0,588.0 146.5,582.1 148.0,576.5 149.5,571.4 151.0,566.8 152.5,562.6 154.0,559.0 155.5,556.0 157.0,553.5 158.5,551.7 160.0,550.5 161.5,549.9 163.0,549.9 164.5,550.5 166.0,551.6 167.5,553.2 169.0,555.4 170.5,558.0 172.0,561.0 173.5,564.4 175.0,568.2 176.5,572.3 178.0,576.7 179.5,581.3 181.0,586.2 182.5,591.3 184.0,596.5 185.5,601.8 187.0,607.3 188.5,612.8 190.0,618.3 191.5,623.9 193.0,629.4 194.5,634.9 196.0,640.4 197.5,645.7 199.0,651.0 200.5,656.2 202.0,661.3 203.5,666.3 205.0,671.1 206.5,675.7 208.0,680.3 209.5,684.6 211.0,688.8 212.5,692.9 214.0,696.7 215.5,700.4 217.0,704.0 218.5,707.3 220.0,710.6 221.5,713.6 223.0,716.5 224.5,719.3 226.0,721.9 227.5,724.3 229.0,726.6 230.5,728.8 232.0,730.8 233.5,732.8 235.0,734.6 236.5,736.2 238.0,737.8 239.5,739.3 241.0,740.7 242.5,741.9 244.0,743.1 245.5,744.2 247.0,745.3 248.5,746.2 250.0,747.1 251.5,747.9 253.0,748.7 254.5,749.4 256.0,750.0 257.5,750.6 259.0,751.1 260.5,751.6 262.0,752.1 263.5,752.5 265.0,752.9 266.5,753.3 268.0,753.6 269.5,753.9 271.0,754.1 272.5,754.4 274.0,754.6 275.5,754.8 277.0,755.0 278.5,755.2 280.0,755.3 281.5,755.5 283.0,755.6 284.5,755.7 286.0,755.8 287.5,755.9 289.0,756.0 290.5,756.1 292.0,756.1 293.5,756.1 295.0,756.1 296.5,756.1 298.0,756.1 299.5,756.1 301.0,756.1 302.5,756.1 304.0,756.1 305.5,756.1 307.0,756.1 308.5,756.1 310.0,756.1 311.5,756.1 313.0,756.1 314.5,756.1 316.0,756.1 317.5,756.1 319.0,756.1 320.5,756.1 322.0,756.1 323.5,756.1 325.0,756.1 326.5,756.1 328.0,756.1 329.5,756.1 331.0,756.1 332.5,756.1 334.0,756.1 334.3,756.1" fill="none" stroke="#2c2c86" stroke-width="1.0" stroke-linejoin="round"/>
<polyline points="44.5,756.1 46.0,756.1 47.5,756.1 49.0,756.1 50.5,756.1 52.0,756.1 53.5,756.1 55.0,756.1 56.5,756.1 58.0,756.1 59.5,756.1 61.0,756.1 62.5,756.1 64.0,756.1 65.5,756.1 67.0,756.1 68.5,756.1 70.0,756.1 71.5,756.1 73.0,756.1 74.5,756.1 76.0,756.1 77.5,756.1 79.0,756.1 80.5,756.1 82.0,756.1 83.5,755.9 85.0,755.7 86.5,755.4 88.0,755.1 89.5,754.7 91.0,754.3 92.5,753.7 94.0,753.1 95.5,752.4 97.0,751.6 98.5,750.6 100.0,749.5 101.5,748.3 103.0,746.9 104.5,745.2 106.0,743.2 107.5,740.9 109.0,738.5 110.5,735.9 112.0,733.1 113.5,730.0 115.0,726.5 116.5,722.8 118.0,718.8 119.5,714.4 121.0,709.6 122.5,704.5 124.0,699.0 125.5,693.2 127.0,687.1 128.5,680.6 130.0,674.3 131.5,667.7 133.0,661.0 134.5,653.9 136.0,646.6 137.5,639.2 139.0,631.9 140.5,624.9 142.0,618.0 143.5,611.2 145.0,604.3 146.5,597.5 148.0,591.0 149.5,585.0 151.0,579.4 152.5,574.3 154.0,569.6 155.5,565.1 157.0,561.2 158.5,557.8 160.0,555.3 161.5,553.4 163.0,552.1 164.5,551.2 166.0,550.6 167.5,550.6 169.0,551.3 170.5,552.6 172.0,554.4 173.5,556.7 175.0,559.6 176.5,562.9 178.0,566.5 179.5,570.8 181.0,575.7 182.5,580.8 184.0,585.9 185.5,590.4 187.0,595.1 188.5,599.9 190.0,605.6 191.5,611.5 193.0,617.4 194.5,623.0 196.0,628.3 197.5,633.5 199.0,638.8 200.5,644.3 202.0,649.8 203.5,655.1 205.0,660.5 206.5,665.7 208.0,670.7 209.5,675.4 211.0,679.7 212.5,683.9 214.0,687.9 215.5,692.1 217.0,696.0 218.5,699.8 220.0,703.4 221.5,706.9 223.0,710.2 224.5,713.2 226.0,716.0 227.5,718.7 229.0,721.3 230.5,723.8 232.0,726.2 233.5,728.4 235.0,730.7 236.5,732.8 238.0,734.7 239.5,736.5 241.0,738.0 242.5,739.4 244.0,740.7 245.5,742.0 247.0,743.3 248.5,744.4 250.0,745.4 251.5,746.3 253.0,747.1 254.5,748.0 256.0,748.8 257.5,749.6 259.0,750.2 260.5,750.7 262.0,751.1 263.5,751.6 265.0,752.1 266.5,752.5 268.0,753.0 269.5,753.3 271.0,753.6 272.5,753.8 274.0,754.1 275.5,754.4 277.0,754.6 278.5,754.8 280.0,755.0 281.5,755.2 283.0,755.4 284.5,755.5 286.0,755.6 287.5,755.8 289.0,755.9 290.5,755.9 292.0,756.0 293.5,756.1 295.0,756.1 296.5,756.1 298.0,756.1 299.5,756.1 301.0,756.1 302.5,756.1 304.0,756.1 305.5,756.1 307.0,756.1 308.5,756.1 310.0,756.1 311.5,756.1 313.0,756.1 314.5,756.1 316.0,756.1 317.5,756.1 319.0,756.1 320.5,756.1 322.0,756.1 323.5,756.1 325.0,756.1 326.5,756.1 328.0,756.1 329.5,756.1 331.0,756.1 332.5,756.1 334.0,756.1 334.3,756.1" fill="none" stroke="#9050f4" stroke-width="1.3" stroke-linejoin="round"/>
<polyline points="44.5,756.1 46.0,756.1 47.5,756.1 49.0,756.1 50.5,756.1 52.0,756.1 53.5,756.1 55.0,756.1 56.5,756.1 58.0,756.1 59.5,756.1 61.0,756.1 62.5,756.1 64.0,756.1 65.5,756.1 67.0,756.1 68.5,756.1 70.0,756.1 71.5,756.1 73.0,756.1 74.5,756.1 76.0,756.1 77.5,756.1 79.0,756.1 80.5,756.1 82.0,756.1 83.5,756.1 85.0,756.1 86.5,755.9 88.0,755.8 89.5,755.5 91.0,755.2 92.5,754.8 94.0,754.3 95.5,753.9 97.0,753.3 98.5,752.6 100.0,751.7 101.5,750.7 103.0,749.6 104.5,748.3 106.0,746.8 107.5,745.1 109.0,743.2 110.5,741.3 112.0,739.1 113.5,736.7 115.0,733.7 116.5,730.3 118.0,726.5 119.5,722.7 121.0,718.7 122.5,714.5 124.0,709.9 125.5,704.8 127.0,699.5 128.5,693.9 130.0,688.2 131.5,682.3 133.0,676.2 134.5,669.7 136.0,662.9 137.5,656.0 139.0,648.9 140.5,641.7 142.0,634.5 143.5,627.2 145.0,619.8 146.5,612.5 148.0,605.3 149.5,598.5 151.0,592.1 152.5,586.1 154.0,580.5 155.5,575.8 157.0,571.5 158.5,567.7 160.0,563.4 161.5,559.6 163.0,556.2 164.5,554.1 166.0,553.0 167.5,552.6 169.0,552.6 170.5,552.1 172.0,552.3 173.5,552.9 175.0,554.8 176.5,557.2 178.0,560.1 179.5,563.7 181.0,567.7 182.5,572.2 184.0,576.6 185.5,580.4 187.0,584.5 188.5,588.8 190.0,594.5 191.5,600.4 193.0,606.5 194.5,612.1 196.0,617.2 197.5,622.5 199.0,627.7 200.5,633.1 202.0,638.5 203.5,643.8 205.0,649.1 206.5,654.2 208.0,659.3 209.5,664.6 211.0,670.1 212.5,675.3 214.0,680.3 215.5,684.4 217.0,688.4 218.5,692.3 220.0,696.3 221.5,700.3 223.0,704.1 224.5,707.6 226.0,710.8 227.5,713.9 229.0,716.8 230.5,719.6 232.0,722.3 233.5,724.8 235.0,726.9 236.5,729.0 238.0,730.8 239.5,732.7 241.0,734.4 242.5,736.0 244.0,737.6 245.5,739.2 247.0,740.7 248.5,742.1 250.0,743.3 251.5,744.3 253.0,745.3 254.5,746.3 256.0,747.2 257.5,748.0 259.0,748.8 260.5,749.5 262.0,750.2 263.5,750.8 265.0,751.3 266.5,751.8 268.0,752.2 269.5,752.6 271.0,753.0 272.5,753.4 274.0,753.7 275.5,754.0 277.0,754.2 278.5,754.5 280.0,754.7 281.5,754.9 283.0,755.1 284.5,755.3 286.0,755.4 287.5,755.5 289.0,755.6 290.5,755.7 292.0,755.8 293.5,755.9 295.0,756.0 296.5,756.1 298.0,756.1 299.5,756.1 301.0,756.1 302.5,756.1 304.0,756.1 305.5,756.1 307.0,756.1 308.5,756.1 310.0,756.1 311.5,756.1 313.0,756.1 314.5,756.1 316.0,756.1 317.5,756.1 319.0,756.1 320.5,756.1 322.0,756.1 323.5,756.1 325.0,756.1 326.5,756.1 328.0,756.1 329.5,756.1 331.0,756.1 332.5,756.1 334.0,756.1 334.3,756.1" fill="none" stroke="#8c3090" stroke-width="1.0" stroke-linejoin="round"/>
<rect x="43.7" y="543.8" width="291.4" height="213.0" fill="none" stroke="#000" stroke-width="1.8"/>
<line x1="72.8" y1="756.8" x2="72.8" y2="748.8" stroke="#000" stroke-width="1.6"/>
<text x="72.8" y="776.3" text-anchor="middle" class="tl">-4.0</text>
<line x1="131.1" y1="756.8" x2="131.1" y2="748.8" stroke="#000" stroke-width="1.6"/>
<text x="131.1" y="776.3" text-anchor="middle" class="tl">-3.8</text>
<line x1="189.4" y1="756.8" x2="189.4" y2="748.8" stroke="#000" stroke-width="1.6"/>
<text x="189.4" y="776.3" text-anchor="middle" class="tl">-3.6</text>
<line x1="247.7" y1="756.8" x2="247.7" y2="748.8" stroke="#000" stroke-width="1.6"/>
<text x="247.7" y="776.3" text-anchor="middle" class="tl">-3.4</text>
<line x1="306.0" y1="756.8" x2="306.0" y2="748.8" stroke="#000" stroke-width="1.6"/>
<text x="306.0" y="776.3" text-anchor="middle" class="tl">-3.2</text>
<line x1="102.0" y1="756.8" x2="102.0" y2="752.3" stroke="#000" stroke-width="1.6"/>
<line x1="160.3" y1="756.8" x2="160.3" y2="752.3" stroke="#000" stroke-width="1.6"/>
<line x1="218.5" y1="756.8" x2="218.5" y2="752.3" stroke="#000" stroke-width="1.6"/>
<line x1="276.8" y1="756.8" x2="276.8" y2="752.3" stroke="#000" stroke-width="1.6"/>
<line x1="335.1" y1="756.8" x2="335.1" y2="752.3" stroke="#000" stroke-width="1.6"/>
<line x1="43.7" y1="756.8" x2="51.7" y2="756.8" stroke="#000" stroke-width="1.6"/>
<text x="34.7" y="761.3" text-anchor="end" class="tl">0</text>
<line x1="43.7" y1="703.5" x2="51.7" y2="703.5" stroke="#000" stroke-width="1.6"/>
<text x="34.7" y="708.0" text-anchor="end" class="tl">1</text>
<line x1="43.7" y1="650.3" x2="51.7" y2="650.3" stroke="#000" stroke-width="1.6"/>
<text x="34.7" y="654.8" text-anchor="end" class="tl">2</text>
<line x1="43.7" y1="597.0" x2="51.7" y2="597.0" stroke="#000" stroke-width="1.6"/>
<text x="34.7" y="601.5" text-anchor="end" class="tl">3</text>
<line x1="43.7" y1="543.8" x2="51.7" y2="543.8" stroke="#000" stroke-width="1.6"/>
<text x="34.7" y="548.3" text-anchor="end" class="tl">4</text>
<line x1="43.7" y1="730.2" x2="48.2" y2="730.2" stroke="#000" stroke-width="1.6"/>
<line x1="43.7" y1="676.9" x2="48.2" y2="676.9" stroke="#000" stroke-width="1.6"/>
<line x1="43.7" y1="623.7" x2="48.2" y2="623.7" stroke="#000" stroke-width="1.6"/>
<line x1="43.7" y1="570.4" x2="48.2" y2="570.4" stroke="#000" stroke-width="1.6"/>
<text x="163.4" y="800.9" class="at"><tspan font-style="italic">E</tspan><tspan class="sub" dy="6">p</tspan><tspan dy="-6"> (eV)</tspan></text>
<text transform="translate(15.0,660.0) rotate(-90)" text-anchor="middle" class="at"><tspan font-style="italic">P</tspan>(<tspan font-style="italic">E</tspan><tspan class="sub" dy="6">p</tspan><tspan dy="-6">)</tspan></text>
<text x="50.4" y="563.8" class="pl">(e)</text>
<line x1="45.8" y1="581.1" x2="69.9" y2="581.1" stroke="#111" stroke-width="1.7" stroke-dasharray="4 2.6"/>
<text x="72.6" y="585.1" class="lg">Total</text>
<line x1="45.8" y1="596.6" x2="69.9" y2="596.6" stroke="#e03a34" stroke-width="1.0"/>
<text x="72.6" y="600.6" class="lg"><tspan class="lgN">N</tspan><tspan class="lsub" dx="-1" dy="4.5">Q</tspan><tspan dy="-4.5"> = 0</tspan></text>
<line x1="45.8" y1="617.0" x2="69.9" y2="617.0" stroke="#3434d8" stroke-width="1.1"/>
<text x="72.6" y="621.0" class="lg"><tspan class="lgN">N</tspan><tspan class="lsub" dx="-1" dy="4.5">Q</tspan><tspan dy="-4.5"> = 1</tspan></text>
<line x1="45.8" y1="636.8" x2="69.9" y2="636.8" stroke="#e070e6" stroke-width="1.6"/>
<text x="72.6" y="640.8" class="lg"><tspan class="lgN">N</tspan><tspan class="lsub" dx="-1" dy="4.5">Q</tspan><tspan dy="-4.5"> = 2</tspan></text>
<line x1="45.8" y1="656.6" x2="69.9" y2="656.6" stroke="#2a962a" stroke-width="1.0"/>
<text x="72.6" y="660.6" class="lg"><tspan class="lgN">N</tspan><tspan class="lsub" dx="-1" dy="4.5">Q</tspan><tspan dy="-4.5"> = 3</tspan></text>
<line x1="45.8" y1="676.5" x2="69.9" y2="676.5" stroke="#2c2c86" stroke-width="1.1"/>
<text x="72.6" y="680.5" class="lg"><tspan class="lgN">N</tspan><tspan class="lsub" dx="-1" dy="4.5">Q</tspan><tspan dy="-4.5"> = 4</tspan></text>
<line x1="45.8" y1="696.5" x2="69.9" y2="696.5" stroke="#9050f4" stroke-width="1.6"/>
<text x="72.6" y="700.5" class="lg"><tspan class="lgN">N</tspan><tspan class="lsub" dx="-1" dy="4.5">Q</tspan><tspan dy="-4.5"> = 5</tspan></text>
<line x1="45.8" y1="716.5" x2="69.9" y2="716.5" stroke="#8c3090" stroke-width="1.1"/>
<text x="72.6" y="720.5" class="lg"><tspan class="lgN">N</tspan><tspan class="lsub" dx="-1" dy="4.5">Q</tspan><tspan dy="-4.5"> = 6</tspan></text>
<text x="235.0" y="699.3" class="ml">Ni (Ni<tspan class="msub" dy="6.5">80</tspan><tspan dy="-6.5">P</tspan><tspan class="msub" dy="6.5">20</tspan><tspan dy="-6.5">)</tspan></text>
<rect x="220.0" y="547.1" width="111.7" height="84.8" fill="#fff" stroke="#000" stroke-width="1.3"/>
<line x1="220.0" y1="631.9" x2="220.0" y2="627.9" stroke="#000" stroke-width="1"/>
<text x="220.0" y="643.4" text-anchor="middle" class="il">0</text>
<line x1="234.0" y1="631.9" x2="234.0" y2="629.4" stroke="#000" stroke-width="1"/>
<line x1="247.9" y1="631.9" x2="247.9" y2="627.9" stroke="#000" stroke-width="1"/>
<text x="247.9" y="643.4" text-anchor="middle" class="il">2</text>
<line x1="261.9" y1="631.9" x2="261.9" y2="629.4" stroke="#000" stroke-width="1"/>
<line x1="275.9" y1="631.9" x2="275.9" y2="627.9" stroke="#000" stroke-width="1"/>
<text x="275.9" y="643.4" text-anchor="middle" class="il">4</text>
<line x1="289.8" y1="631.9" x2="289.8" y2="629.4" stroke="#000" stroke-width="1"/>
<line x1="303.8" y1="631.9" x2="303.8" y2="627.9" stroke="#000" stroke-width="1"/>
<text x="303.8" y="643.4" text-anchor="middle" class="il">6</text>
<line x1="317.7" y1="631.9" x2="317.7" y2="629.4" stroke="#000" stroke-width="1"/>
<line x1="331.7" y1="631.9" x2="331.7" y2="627.9" stroke="#000" stroke-width="1"/>
<text x="331.7" y="643.4" text-anchor="middle" class="il">8</text>
<line x1="220.0" y1="564.2" x2="224.0" y2="564.2" stroke="#000" stroke-width="1"/>
<text x="217.0" y="567.4" text-anchor="end" class="il">-3.64</text>
<line x1="220.0" y1="598.1" x2="224.0" y2="598.1" stroke="#000" stroke-width="1"/>
<text x="217.0" y="601.3" text-anchor="end" class="il">-3.68</text>
<line x1="220.0" y1="631.9" x2="224.0" y2="631.9" stroke="#000" stroke-width="1"/>
<text x="217.0" y="635.1" text-anchor="end" class="il">-3.72</text>
<line x1="220.0" y1="547.1" x2="222.5" y2="547.1" stroke="#000" stroke-width="1"/>
<line x1="220.0" y1="581.1" x2="222.5" y2="581.1" stroke="#000" stroke-width="1"/>
<line x1="220.0" y1="615.0" x2="222.5" y2="615.0" stroke="#000" stroke-width="1"/>
<polyline points="220.0,622.1 234.0,616.3 247.9,609.0 261.9,600.4 275.9,591.1 289.8,581.3 303.8,571.7 317.7,561.4 331.7,551.4" fill="none" stroke="#000" stroke-width="1.1"/>
<rect x="218.0" y="620.1" width="4" height="4" fill="#fff" stroke="#000" stroke-width="1"/>
<rect x="232.0" y="614.3" width="4" height="4" fill="#fff" stroke="#000" stroke-width="1"/>
<rect x="245.9" y="607.0" width="4" height="4" fill="#fff" stroke="#000" stroke-width="1"/>
<rect x="259.9" y="598.4" width="4" height="4" fill="#fff" stroke="#000" stroke-width="1"/>
<rect x="273.9" y="589.1" width="4" height="4" fill="#fff" stroke="#000" stroke-width="1"/>
<rect x="287.8" y="579.3" width="4" height="4" fill="#fff" stroke="#000" stroke-width="1"/>
<rect x="301.8" y="569.7" width="4" height="4" fill="#fff" stroke="#000" stroke-width="1"/>
<rect x="315.7" y="559.4" width="4" height="4" fill="#fff" stroke="#000" stroke-width="1"/>
<rect x="329.7" y="549.4" width="4" height="4" fill="#fff" stroke="#000" stroke-width="1"/>
<text x="275.9" y="659.0" text-anchor="middle" class="iat"><tspan font-style="italic">N</tspan><tspan font-size="6.5" font-style="italic" dy="3">Q</tspan></text>
<text transform="translate(190.0,592.0) rotate(-90)" text-anchor="middle" class="iat">&lt;<tspan font-style="italic">E</tspan><tspan font-size="6.5" font-style="italic" dy="2.5">p</tspan><tspan dy="-2.5">&gt;</tspan></text>
<polyline points="391.2,756.4 392.7,756.4 394.2,756.4 395.7,756.4 397.2,756.4 398.7,756.4 400.2,756.4 401.7,756.4 403.2,756.4 404.7,756.4 406.2,756.4 407.7,756.4 409.2,756.4 410.7,756.4 412.2,756.4 413.7,756.4 415.2,756.4 416.7,756.4 418.2,756.4 419.7,756.4 421.2,756.4 422.7,756.4 424.2,756.4 425.7,756.4 427.2,756.4 428.7,756.4 430.2,756.4 431.7,756.4 433.2,756.4 434.7,756.3 436.2,756.1 437.7,755.9 439.2,755.7 440.7,755.4 442.2,755.0 443.7,754.6 445.2,754.1 446.7,753.6 448.2,752.9 449.7,752.1 451.2,751.2 452.7,750.2 454.2,749.0 455.7,747.6 457.2,746.0 458.7,744.3 460.2,742.3 461.7,740.0 463.2,737.5 464.7,734.6 466.2,731.5 467.7,728.0 469.2,724.2 470.7,720.1 472.2,715.5 473.7,710.6 475.2,705.3 476.7,699.6 478.2,693.6 479.7,687.1 481.2,680.4 482.7,673.3 484.2,665.9 485.7,658.3 487.2,650.5 488.7,642.6 490.2,634.5 491.7,626.5 493.2,618.5 494.7,610.6 496.2,603.0 497.7,595.7 499.2,588.7 500.7,582.2 502.2,576.3 503.7,571.0 505.2,566.4 506.7,562.6 508.2,559.6 509.7,557.4 511.2,556.2 512.7,555.9 514.2,556.3 515.7,557.2 517.2,558.5 518.7,560.4 520.2,562.7 521.7,565.5 523.2,568.7 524.7,572.3 526.2,576.2 527.7,580.5 529.2,585.0 530.7,589.9 532.2,594.9 533.7,600.2 535.2,605.6 536.7,611.1 538.2,616.8 539.7,622.5 541.2,628.3 542.7,634.1 544.2,639.8 545.7,645.5 547.2,651.2 548.7,656.8 550.2,662.2 551.7,667.6 553.2,672.8 554.7,677.8 556.2,682.7 557.7,687.4 559.2,692.0 560.7,696.4 562.2,700.5 563.7,704.5 565.2,708.3 566.7,711.9 568.2,715.3 569.7,718.5 571.2,721.6 572.7,724.4 574.2,727.1 575.7,729.6 577.2,731.9 578.7,734.1 580.2,736.1 581.7,738.0 583.2,739.7 584.7,741.3 586.2,742.8 587.7,744.2 589.2,745.4 590.7,746.6 592.2,747.6 593.7,748.6 595.2,749.4 596.7,750.2 598.2,750.9 599.7,751.6 601.2,752.2 602.7,752.7 604.2,753.2 605.7,753.6 607.2,754.0 608.7,754.4 610.2,754.7 611.7,755.0 613.2,755.2 614.7,755.4 616.2,755.6 617.7,755.8 619.2,756.0 620.7,756.1 622.2,756.2 623.7,756.3 625.2,756.4 626.7,756.4 628.2,756.4 629.7,756.4 631.2,756.4 632.7,756.4 634.2,756.4 635.7,756.4 637.2,756.4 638.7,756.4 640.2,756.4 641.7,756.4 643.2,756.4 644.7,756.4 646.2,756.4 647.7,756.4 649.2,756.4 650.7,756.4 652.2,756.4 653.7,756.4 655.2,756.4 656.7,756.4 658.2,756.4 659.7,756.4 661.2,756.4 662.7,756.4 664.2,756.4 665.7,756.4 667.2,756.4 668.7,756.4 670.2,756.4 671.7,756.4 673.2,756.4 674.7,756.4 676.2,756.4 677.7,756.4 679.2,756.4 679.5,756.4" fill="none" stroke="#1a1a1a" stroke-width="1.7" stroke-dasharray="3.6 2.6"/>
<polyline points="391.2,756.4 392.7,756.4 394.2,756.4 395.7,756.4 397.2,756.4 398.7,756.4 400.2,756.4 401.7,756.4 403.2,756.4 404.7,756.4 406.2,756.4 407.7,756.4 409.2,756.4 410.7,756.4 412.2,756.4 413.7,756.4 415.2,756.4 416.7,756.4 418.2,756.4 419.7,756.4 421.2,756.4 422.7,756.4 424.2,756.4 425.7,756.4 427.2,756.4 428.7,756.4 430.2,756.4 431.7,756.4 433.2,756.4 434.7,756.4 436.2,756.3 437.7,756.2 439.2,755.9 440.7,755.7 442.2,755.4 443.7,755.0 445.2,754.6 446.7,754.1 448.2,753.4 449.7,752.7 451.2,751.9 452.7,750.9 454.2,749.8 455.7,748.5 457.2,747.0 458.7,745.3 460.2,743.4 461.7,741.2 463.2,738.7 464.7,735.9 466.2,732.8 467.7,729.3 469.2,725.5 470.7,721.3 472.2,716.6 473.7,711.6 475.2,706.2 476.7,700.3 478.2,694.0 479.7,687.3 481.2,680.2 482.7,672.8 484.2,665.0 485.7,657.0 487.2,648.7 488.7,640.2 490.2,631.6 491.7,623.0 493.2,614.4 494.7,606.0 496.2,597.7 497.7,589.8 499.2,582.3 500.7,575.3 502.2,568.9 503.7,563.2 505.2,558.3 506.7,554.2 508.2,551.1 509.7,548.8 511.2,547.6 512.7,547.4 514.2,547.9 515.7,549.0 517.2,550.6 518.7,552.7 520.2,555.3 521.7,558.4 523.2,562.0 524.7,566.0 526.2,570.3 527.7,575.1 529.2,580.1 530.7,585.4 532.2,591.0 533.7,596.7 535.2,602.6 536.7,608.6 538.2,614.8 539.7,620.9 541.2,627.1 542.7,633.3 544.2,639.5 545.7,645.6 547.2,651.6 548.7,657.4 550.2,663.2 551.7,668.8 553.2,674.2 554.7,679.5 556.2,684.6 557.7,689.5 559.2,694.1 560.7,698.6 562.2,702.8 563.7,706.9 565.2,710.7 566.7,714.3 568.2,717.7 569.7,720.9 571.2,723.9 572.7,726.7 574.2,729.4 575.7,731.8 577.2,734.1 578.7,736.2 580.2,738.1 581.7,739.9 583.2,741.5 584.7,743.0 586.2,744.4 587.7,745.7 589.2,746.9 590.7,747.9 592.2,748.9 593.7,749.7 595.2,750.5 596.7,751.2 598.2,751.9 599.7,752.5 601.2,753.0 602.7,753.5 604.2,753.9 605.7,754.3 607.2,754.6 608.7,754.9 610.2,755.2 611.7,755.4 613.2,755.6 614.7,755.8 616.2,756.0 617.7,756.1 619.2,756.2 620.7,756.3 622.2,756.4 623.7,756.4 625.2,756.4 626.7,756.4 628.2,756.4 629.7,756.4 631.2,756.4 632.7,756.4 634.2,756.4 635.7,756.4 637.2,756.4 638.7,756.4 640.2,756.4 641.7,756.4 643.2,756.4 644.7,756.4 646.2,756.4 647.7,756.4 649.2,756.4 650.7,756.4 652.2,756.4 653.7,756.4 655.2,756.4 656.7,756.4 658.2,756.4 659.7,756.4 661.2,756.4 662.7,756.4 664.2,756.4 665.7,756.4 667.2,756.4 668.7,756.4 670.2,756.4 671.7,756.4 673.2,756.4 674.7,756.4 676.2,756.4 677.7,756.4 679.2,756.4 679.5,756.4" fill="none" stroke="#e03a34" stroke-width="1.0" stroke-linejoin="round"/>
<polyline points="391.2,756.4 392.7,756.4 394.2,756.4 395.7,756.4 397.2,756.4 398.7,756.4 400.2,756.4 401.7,756.4 403.2,756.4 404.7,756.4 406.2,756.4 407.7,756.4 409.2,756.4 410.7,756.4 412.2,756.4 413.7,756.4 415.2,756.4 416.7,756.4 418.2,756.4 419.7,756.4 421.2,756.4 422.7,756.4 424.2,756.4 425.7,756.4 427.2,756.4 428.7,756.4 430.2,756.4 431.7,756.4 433.2,756.4 434.7,756.4 436.2,756.3 437.7,756.1 439.2,755.9 440.7,755.6 442.2,755.3 443.7,754.9 445.2,754.5 446.7,753.9 448.2,753.3 449.7,752.6 451.2,751.7 452.7,750.7 454.2,749.6 455.7,748.3 457.2,746.8 458.7,745.0 460.2,743.1 461.7,740.9 463.2,738.4 464.7,735.6 466.2,732.5 467.7,729.1 469.2,725.2 470.7,721.1 472.2,716.5 473.7,711.5 475.2,706.1 476.7,700.3 478.2,694.1 479.7,687.6 481.2,680.6 482.7,673.3 484.2,665.7 485.7,657.8 487.2,649.6 488.7,641.3 490.2,632.9 491.7,624.5 493.2,616.1 494.7,607.9 496.2,599.8 497.7,592.1 499.2,584.7 500.7,577.9 502.2,571.6 503.7,566.0 505.2,561.1 506.7,557.1 508.2,553.9 509.7,551.7 511.2,550.4 512.7,550.1 514.2,550.5 515.7,551.5 517.2,553.0 518.7,555.0 520.2,557.5 521.7,560.5 523.2,563.9 524.7,567.7 526.2,571.9 527.7,576.5 529.2,581.3 530.7,586.4 532.2,591.8 533.7,597.4 535.2,603.1 536.7,609.0 538.2,615.0 539.7,621.0 541.2,627.0 542.7,633.1 544.2,639.1 545.7,645.1 547.2,651.0 548.7,656.8 550.2,662.4 551.7,668.0 553.2,673.3 554.7,678.5 556.2,683.6 557.7,688.4 559.2,693.1 560.7,697.5 562.2,701.8 563.7,705.8 565.2,709.6 566.7,713.3 568.2,716.7 569.7,719.9 571.2,722.9 572.7,725.8 574.2,728.4 575.7,730.9 577.2,733.2 578.7,735.3 580.2,737.3 581.7,739.1 583.2,740.8 584.7,742.4 586.2,743.8 587.7,745.1 589.2,746.3 590.7,747.4 592.2,748.4 593.7,749.3 595.2,750.1 596.7,750.9 598.2,751.5 599.7,752.1 601.2,752.7 602.7,753.2 604.2,753.6 605.7,754.0 607.2,754.4 608.7,754.7 610.2,755.0 611.7,755.2 613.2,755.5 614.7,755.7 616.2,755.8 617.7,756.0 619.2,756.1 620.7,756.3 622.2,756.4 623.7,756.4 625.2,756.4 626.7,756.4 628.2,756.4 629.7,756.4 631.2,756.4 632.7,756.4 634.2,756.4 635.7,756.4 637.2,756.4 638.7,756.4 640.2,756.4 641.7,756.4 643.2,756.4 644.7,756.4 646.2,756.4 647.7,756.4 649.2,756.4 650.7,756.4 652.2,756.4 653.7,756.4 655.2,756.4 656.7,756.4 658.2,756.4 659.7,756.4 661.2,756.4 662.7,756.4 664.2,756.4 665.7,756.4 667.2,756.4 668.7,756.4 670.2,756.4 671.7,756.4 673.2,756.4 674.7,756.4 676.2,756.4 677.7,756.4 679.2,756.4 679.5,756.4" fill="none" stroke="#3434d8" stroke-width="1.0" stroke-linejoin="round"/>
<polyline points="391.2,756.4 392.7,756.4 394.2,756.4 395.7,756.4 397.2,756.4 398.7,756.4 400.2,756.4 401.7,756.4 403.2,756.4 404.7,756.4 406.2,756.4 407.7,756.4 409.2,756.4 410.7,756.4 412.2,756.4 413.7,756.4 415.2,756.4 416.7,756.4 418.2,756.4 419.7,756.4 421.2,756.4 422.7,756.4 424.2,756.4 425.7,756.4 427.2,756.4 428.7,756.4 430.2,756.4 431.7,756.4 433.2,756.4 434.7,756.4 436.2,756.2 437.7,756.0 439.2,755.8 440.7,755.5 442.2,755.2 443.7,754.8 445.2,754.3 446.7,753.8 448.2,753.1 449.7,752.4 451.2,751.5 452.7,750.5 454.2,749.3 455.7,748.0 457.2,746.4 458.7,744.7 460.2,742.7 461.7,740.5 463.2,738.0 464.7,735.2 466.2,732.1 467.7,728.6 469.2,724.8 470.7,720.6 472.2,716.1 473.7,711.2 475.2,705.8 476.7,700.1 478.2,694.0 479.7,687.5 481.2,680.7 482.7,673.5 484.2,666.1 485.7,658.4 487.2,650.4 488.7,642.3 490.2,634.2 491.7,626.0 493.2,617.8 494.7,609.8 496.2,602.0 497.7,594.5 499.2,587.4 500.7,580.8 502.2,574.7 503.7,569.3 505.2,564.6 506.7,560.7 508.2,557.6 509.7,555.5 511.2,554.3 512.7,554.0 514.2,554.4 515.7,555.3 517.2,556.7 518.7,558.7 520.2,561.1 521.7,563.9 523.2,567.2 524.7,570.9 526.2,575.0 527.7,579.4 529.2,584.1 530.7,589.0 532.2,594.2 533.7,599.6 535.2,605.1 536.7,610.8 538.2,616.6 539.7,622.5 541.2,628.3 542.7,634.2 544.2,640.1 545.7,645.9 547.2,651.6 548.7,657.3 550.2,662.8 551.7,668.2 553.2,673.5 554.7,678.6 556.2,683.6 557.7,688.3 559.2,692.9 560.7,697.3 562.2,701.5 563.7,705.4 565.2,709.2 566.7,712.8 568.2,716.2 569.7,719.4 571.2,722.4 572.7,725.3 574.2,727.9 575.7,730.4 577.2,732.7 578.7,734.8 580.2,736.8 581.7,738.7 583.2,740.4 584.7,741.9 586.2,743.4 587.7,744.7 589.2,745.9 590.7,747.0 592.2,748.1 593.7,749.0 595.2,749.8 596.7,750.6 598.2,751.3 599.7,751.9 601.2,752.5 602.7,753.0 604.2,753.4 605.7,753.9 607.2,754.2 608.7,754.6 610.2,754.9 611.7,755.1 613.2,755.4 614.7,755.6 616.2,755.8 617.7,755.9 619.2,756.1 620.7,756.2 622.2,756.3 623.7,756.4 625.2,756.4 626.7,756.4 628.2,756.4 629.7,756.4 631.2,756.4 632.7,756.4 634.2,756.4 635.7,756.4 637.2,756.4 638.7,756.4 640.2,756.4 641.7,756.4 643.2,756.4 644.7,756.4 646.2,756.4 647.7,756.4 649.2,756.4 650.7,756.4 652.2,756.4 653.7,756.4 655.2,756.4 656.7,756.4 658.2,756.4 659.7,756.4 661.2,756.4 662.7,756.4 664.2,756.4 665.7,756.4 667.2,756.4 668.7,756.4 670.2,756.4 671.7,756.4 673.2,756.4 674.7,756.4 676.2,756.4 677.7,756.4 679.2,756.4 679.5,756.4" fill="none" stroke="#e070e6" stroke-width="1.3" stroke-linejoin="round"/>
<polyline points="391.2,756.4 392.7,756.4 394.2,756.4 395.7,756.4 397.2,756.4 398.7,756.4 400.2,756.4 401.7,756.4 403.2,756.4 404.7,756.4 406.2,756.4 407.7,756.4 409.2,756.4 410.7,756.4 412.2,756.4 413.7,756.4 415.2,756.4 416.7,756.4 418.2,756.4 419.7,756.4 421.2,756.4 422.7,756.4 424.2,756.4 425.7,756.4 427.2,756.4 428.7,756.4 430.2,756.4 431.7,756.4 433.2,756.4 434.7,756.3 436.2,756.2 437.7,755.9 439.2,755.7 440.7,755.4 442.2,755.1 443.7,754.6 445.2,754.2 446.7,753.6 448.2,752.9 449.7,752.1 451.2,751.3 452.7,750.2 454.2,749.0 455.7,747.7 457.2,746.1 458.7,744.3 460.2,742.3 461.7,740.1 463.2,737.6 464.7,734.7 466.2,731.6 467.7,728.2 469.2,724.4 470.7,720.2 472.2,715.7 473.7,710.8 475.2,705.5 476.7,699.8 478.2,693.8 479.7,687.4 481.2,680.6 482.7,673.5 484.2,666.2 485.7,658.6 487.2,650.8 488.7,642.8 490.2,634.8 491.7,626.8 493.2,618.8 494.7,610.9 496.2,603.3 497.7,595.9 499.2,588.9 500.7,582.4 502.2,576.5 503.7,571.2 505.2,566.5 506.7,562.7 508.2,559.7 509.7,557.5 511.2,556.2 512.7,555.9 514.2,556.3 515.7,557.1 517.2,558.5 518.7,560.3 520.2,562.6 521.7,565.4 523.2,568.6 524.7,572.1 526.2,576.1 527.7,580.3 529.2,584.9 530.7,589.7 532.2,594.7 533.7,600.0 535.2,605.4 536.7,611.0 538.2,616.6 539.7,622.3 541.2,628.1 542.7,633.9 544.2,639.6 545.7,645.3 547.2,651.0 548.7,656.6 550.2,662.0 551.7,667.4 553.2,672.6 554.7,677.7 556.2,682.6 557.7,687.3 559.2,691.8 560.7,696.2 562.2,700.4 563.7,704.4 565.2,708.2 566.7,711.8 568.2,715.2 569.7,718.4 571.2,721.5 572.7,724.3 574.2,727.0 575.7,729.5 577.2,731.8 578.7,734.0 580.2,736.0 581.7,737.9 583.2,739.7 584.7,741.3 586.2,742.8 587.7,744.1 589.2,745.4 590.7,746.5 592.2,747.6 593.7,748.5 595.2,749.4 596.7,750.2 598.2,750.9 599.7,751.6 601.2,752.2 602.7,752.7 604.2,753.2 605.7,753.6 607.2,754.0 608.7,754.4 610.2,754.7 611.7,755.0 613.2,755.2 614.7,755.4 616.2,755.6 617.7,755.8 619.2,756.0 620.7,756.1 622.2,756.2 623.7,756.3 625.2,756.4 626.7,756.4 628.2,756.4 629.7,756.4 631.2,756.4 632.7,756.4 634.2,756.4 635.7,756.4 637.2,756.4 638.7,756.4 640.2,756.4 641.7,756.4 643.2,756.4 644.7,756.4 646.2,756.4 647.7,756.4 649.2,756.4 650.7,756.4 652.2,756.4 653.7,756.4 655.2,756.4 656.7,756.4 658.2,756.4 659.7,756.4 661.2,756.4 662.7,756.4 664.2,756.4 665.7,756.4 667.2,756.4 668.7,756.4 670.2,756.4 671.7,756.4 673.2,756.4 674.7,756.4 676.2,756.4 677.7,756.4 679.2,756.4 679.5,756.4" fill="none" stroke="#2a962a" stroke-width="1.0" stroke-linejoin="round"/>
<polyline points="391.2,756.4 392.7,756.4 394.2,756.4 395.7,756.4 397.2,756.4 398.7,756.4 400.2,756.4 401.7,756.4 403.2,756.4 404.7,756.4 406.2,756.4 407.7,756.4 409.2,756.4 410.7,756.4 412.2,756.4 413.7,756.4 415.2,756.4 416.7,756.4 418.2,756.4 419.7,756.4 421.2,756.4 422.7,756.4 424.2,756.4 425.7,756.4 427.2,756.4 428.7,756.4 430.2,756.4 431.7,756.4 433.2,756.4 434.7,756.2 436.2,756.1 437.7,755.8 439.2,755.6 440.7,755.3 442.2,754.9 443.7,754.5 445.2,754.1 446.7,753.4 448.2,752.7 449.7,751.8 451.2,750.9 452.7,749.8 454.2,748.6 455.7,747.3 457.2,745.6 458.7,743.8 460.2,741.7 461.7,739.4 463.2,737.0 464.7,734.3 466.2,731.1 467.7,727.6 469.2,723.7 470.7,719.5 472.2,714.9 473.7,710.0 475.2,704.6 476.7,698.9 478.2,692.8 479.7,686.4 481.2,679.7 482.7,672.7 484.2,665.5 485.7,658.0 487.2,650.3 488.7,642.4 490.2,634.4 491.7,626.5 493.2,618.8 494.7,611.2 496.2,603.7 497.7,596.4 499.2,589.6 500.7,583.1 502.2,577.1 503.7,571.6 505.2,566.9 506.7,563.2 508.2,560.4 509.7,558.4 511.2,557.2 512.7,556.6 514.2,556.8 515.7,557.5 517.2,559.1 518.7,561.2 520.2,563.7 521.7,566.3 523.2,569.2 524.7,572.4 526.2,576.2 527.7,580.4 529.2,584.9 530.7,589.7 532.2,594.8 533.7,600.1 535.2,605.6 536.7,610.9 538.2,616.3 539.7,621.7 541.2,627.3 542.7,632.9 544.2,638.5 545.7,644.1 547.2,649.6 548.7,655.1 550.2,660.6 551.7,666.1 553.2,671.5 554.7,676.8 556.2,681.7 557.7,686.3 559.2,690.8 560.7,695.1 562.2,699.2 563.7,703.2 565.2,706.9 566.7,710.6 568.2,714.1 569.7,717.4 571.2,720.5 572.7,723.4 574.2,726.2 575.7,728.8 577.2,731.1 578.7,733.3 580.2,735.4 581.7,737.2 583.2,739.0 584.7,740.6 586.2,742.0 587.7,743.4 589.2,744.6 590.7,745.8 592.2,746.9 593.7,747.9 595.2,748.9 596.7,749.7 598.2,750.5 599.7,751.2 601.2,751.8 602.7,752.3 604.2,752.8 605.7,753.3 607.2,753.7 608.7,754.1 610.2,754.4 611.7,754.7 613.2,755.0 614.7,755.3 616.2,755.5 617.7,755.7 619.2,755.8 620.7,756.0 622.2,756.1 623.7,756.3 625.2,756.4 626.7,756.4 628.2,756.4 629.7,756.4 631.2,756.4 632.7,756.4 634.2,756.4 635.7,756.4 637.2,756.4 638.7,756.4 640.2,756.4 641.7,756.4 643.2,756.4 644.7,756.4 646.2,756.4 647.7,756.4 649.2,756.4 650.7,756.4 652.2,756.4 653.7,756.4 655.2,756.4 656.7,756.4 658.2,756.4 659.7,756.4 661.2,756.4 662.7,756.4 664.2,756.4 665.7,756.4 667.2,756.4 668.7,756.4 670.2,756.4 671.7,756.4 673.2,756.4 674.7,756.4 676.2,756.4 677.7,756.4 679.2,756.4 679.5,756.4" fill="none" stroke="#2c2c86" stroke-width="1.0" stroke-linejoin="round"/>
<polyline points="391.2,756.4 392.7,756.4 394.2,756.4 395.7,756.4 397.2,756.4 398.7,756.4 400.2,756.4 401.7,756.4 403.2,756.4 404.7,756.4 406.2,756.4 407.7,756.4 409.2,756.4 410.7,756.4 412.2,756.4 413.7,756.4 415.2,756.4 416.7,756.4 418.2,756.4 419.7,756.4 421.2,756.4 422.7,756.4 424.2,756.4 425.7,756.4 427.2,756.4 428.7,756.4 430.2,756.4 431.7,756.4 433.2,756.3 434.7,756.2 436.2,756.0 437.7,755.8 439.2,755.5 440.7,755.2 442.2,754.8 443.7,754.3 445.2,753.7 446.7,753.1 448.2,752.5 449.7,751.7 451.2,750.8 452.7,749.6 454.2,748.3 455.7,746.8 457.2,745.3 458.7,743.5 460.2,741.5 461.7,739.2 463.2,736.6 464.7,733.6 466.2,730.4 467.7,726.8 469.2,722.9 470.7,718.6 472.2,714.2 473.7,709.4 475.2,704.3 476.7,698.6 478.2,692.5 479.7,686.1 481.2,679.4 482.7,672.5 484.2,665.3 485.7,657.9 487.2,650.4 488.7,642.7 490.2,635.0 491.7,626.9 493.2,618.8 494.7,610.8 496.2,603.4 497.7,596.6 499.2,590.3 500.7,584.2 502.2,578.2 503.7,572.8 505.2,568.1 506.7,564.1 508.2,560.9 509.7,558.5 511.2,557.4 512.7,557.4 514.2,558.1 515.7,559.1 517.2,560.1 518.7,561.6 520.2,563.5 521.7,566.2 523.2,569.3 524.7,572.8 526.2,576.5 527.7,580.4 529.2,584.7 530.7,589.2 532.2,593.9 533.7,598.9 535.2,604.0 536.7,609.5 538.2,615.2 539.7,621.0 541.2,626.6 542.7,632.2 544.2,637.8 545.7,643.4 547.2,648.9 548.7,654.3 550.2,659.7 551.7,664.9 553.2,669.9 554.7,674.8 556.2,679.7 557.7,684.5 559.2,689.1 560.7,693.5 562.2,697.8 563.7,702.0 565.2,705.9 566.7,709.6 568.2,713.0 569.7,716.3 571.2,719.4 572.7,722.3 574.2,725.0 575.7,727.6 577.2,730.0 578.7,732.2 580.2,734.3 581.7,736.2 583.2,738.0 584.7,739.6 586.2,741.2 587.7,742.7 589.2,744.1 590.7,745.3 592.2,746.4 593.7,747.5 595.2,748.4 596.7,749.3 598.2,750.2 599.7,750.9 601.2,751.6 602.7,752.1 604.2,752.6 605.7,753.0 607.2,753.5 608.7,753.9 610.2,754.2 611.7,754.5 613.2,754.8 614.7,755.1 616.2,755.3 617.7,755.5 619.2,755.7 620.7,755.9 622.2,756.0 623.7,756.1 625.2,756.2 626.7,756.4 628.2,756.4 629.7,756.4 631.2,756.4 632.7,756.4 634.2,756.4 635.7,756.4 637.2,756.4 638.7,756.4 640.2,756.4 641.7,756.4 643.2,756.4 644.7,756.4 646.2,756.4 647.7,756.4 649.2,756.4 650.7,756.4 652.2,756.4 653.7,756.4 655.2,756.4 656.7,756.4 658.2,756.4 659.7,756.4 661.2,756.4 662.7,756.4 664.2,756.4 665.7,756.4 667.2,756.4 668.7,756.4 670.2,756.4 671.7,756.4 673.2,756.4 674.7,756.4 676.2,756.4 677.7,756.4 679.2,756.4 679.5,756.4" fill="none" stroke="#9050f4" stroke-width="1.3" stroke-linejoin="round"/>
<polyline points="391.2,756.4 392.7,756.4 394.2,756.4 395.7,756.4 397.2,756.4 398.7,756.4 400.2,756.4 401.7,756.4 403.2,756.4 404.7,756.4 406.2,756.4 407.7,756.4 409.2,756.4 410.7,756.4 412.2,756.4 413.7,756.4 415.2,756.4 416.7,756.4 418.2,756.4 419.7,756.4 421.2,756.4 422.7,756.4 424.2,756.4 425.7,756.4 427.2,756.4 428.7,756.4 430.2,756.4 431.7,756.4 433.2,756.3 434.7,756.2 436.2,756.0 437.7,755.7 439.2,755.4 440.7,755.1 442.2,754.7 443.7,754.2 445.2,753.7 446.7,753.0 448.2,752.3 449.7,751.4 451.2,750.4 452.7,749.3 454.2,748.0 455.7,746.5 457.2,744.8 458.7,742.9 460.2,740.8 461.7,738.4 463.2,735.7 464.7,732.8 466.2,729.6 467.7,726.2 469.2,722.4 470.7,718.3 472.2,713.7 473.7,708.8 475.2,703.4 476.7,697.7 478.2,691.6 479.7,685.1 481.2,678.5 482.7,671.8 484.2,664.9 485.7,657.7 487.2,650.1 488.7,642.5 490.2,634.8 491.7,626.8 493.2,618.9 494.7,611.1 496.2,603.6 497.7,596.5 499.2,589.6 500.7,583.3 502.2,577.6 503.7,572.5 505.2,568.1 506.7,564.4 508.2,561.6 509.7,559.5 511.2,558.3 512.7,557.8 514.2,558.0 515.7,558.7 517.2,560.0 518.7,561.7 520.2,563.9 521.7,566.4 523.2,569.4 524.7,572.8 526.2,576.5 527.7,580.5 529.2,584.9 530.7,589.4 532.2,594.0 533.7,598.9 535.2,603.9 536.7,609.2 538.2,614.6 539.7,620.1 541.2,625.6 542.7,631.1 544.2,636.6 545.7,642.1 547.2,647.4 548.7,652.7 550.2,657.9 551.7,663.2 553.2,668.3 554.7,673.4 556.2,678.3 557.7,683.2 559.2,687.9 560.7,692.3 562.2,696.4 563.7,700.2 565.2,703.9 566.7,707.8 568.2,711.5 569.7,715.0 571.2,718.2 572.7,721.0 574.2,723.7 575.7,726.2 577.2,728.7 578.7,731.0 580.2,733.2 581.7,735.2 583.2,737.0 584.7,738.8 586.2,740.4 587.7,742.0 589.2,743.4 590.7,744.7 592.2,745.9 593.7,747.0 595.2,748.0 596.7,748.9 598.2,749.7 599.7,750.4 601.2,751.1 602.7,751.7 604.2,752.3 605.7,752.8 607.2,753.3 608.7,753.7 610.2,754.1 611.7,754.4 613.2,754.7 614.7,755.0 616.2,755.2 617.7,755.4 619.2,755.6 620.7,755.7 622.2,755.9 623.7,756.0 625.2,756.2 626.7,756.3 628.2,756.4 629.7,756.4 631.2,756.4 632.7,756.4 634.2,756.4 635.7,756.4 637.2,756.4 638.7,756.4 640.2,756.4 641.7,756.4 643.2,756.4 644.7,756.4 646.2,756.4 647.7,756.4 649.2,756.4 650.7,756.4 652.2,756.4 653.7,756.4 655.2,756.4 656.7,756.4 658.2,756.4 659.7,756.4 661.2,756.4 662.7,756.4 664.2,756.4 665.7,756.4 667.2,756.4 668.7,756.4 670.2,756.4 671.7,756.4 673.2,756.4 674.7,756.4 676.2,756.4 677.7,756.4 679.2,756.4 679.5,756.4" fill="none" stroke="#8c3090" stroke-width="1.0" stroke-linejoin="round"/>
<polyline points="391.2,756.4 392.7,756.4 394.2,756.4 395.7,756.4 397.2,756.4 398.7,756.4 400.2,756.4 401.7,756.4 403.2,756.4 404.7,756.4 406.2,756.4 407.7,756.4 409.2,756.4 410.7,756.4 412.2,756.4 413.7,756.4 415.2,756.4 416.7,756.4 418.2,756.4 419.7,756.4 421.2,756.4 422.7,756.4 424.2,756.4 425.7,756.4 427.2,756.4 428.7,756.4 430.2,756.4 431.7,756.4 433.2,756.4 434.7,756.3 436.2,756.1 437.7,755.9 439.2,755.7 440.7,755.4 442.2,755.0 443.7,754.6 445.2,754.1 446.7,753.6 448.2,752.9 449.7,752.1 451.2,751.3 452.7,750.2 454.2,749.0 455.7,747.7 457.2,746.1 458.7,744.4 460.2,742.4 461.7,740.2 463.2,737.7 464.7,734.9 466.2,731.8 467.7,728.4 469.2,724.7 470.7,720.6 472.2,716.1 473.7,711.3 475.2,706.1 476.7,700.5 478.2,694.6 479.7,688.3 481.2,681.7 482.7,674.7 484.2,667.5 485.7,660.1 487.2,652.4 488.7,644.6 490.2,636.7 491.7,628.8 493.2,621.0 494.7,613.2 496.2,605.7 497.7,598.5 499.2,591.6 500.7,585.2 502.2,579.3 503.7,574.0 505.2,569.4 506.7,565.6 508.2,562.5 509.7,560.3 511.2,559.0 512.7,558.6 514.2,558.9 515.7,559.7 517.2,561.0 518.7,562.8 520.2,565.0 521.7,567.6 523.2,570.7 524.7,574.2 526.2,578.0 527.7,582.1 529.2,586.6 530.7,591.3 532.2,596.2 533.7,601.3 535.2,606.6 536.7,612.1 538.2,617.6 539.7,623.2 541.2,628.9 542.7,634.6 544.2,640.2 545.7,645.9 547.2,651.5 548.7,656.9 550.2,662.3 551.7,667.6 553.2,672.8 554.7,677.8 556.2,682.6 557.7,687.3 559.2,691.8 560.7,696.2 562.2,700.3 563.7,704.3 565.2,708.1 566.7,711.6 568.2,715.0 569.7,718.2 571.2,721.3 572.7,724.1 574.2,726.8 575.7,729.3 577.2,731.6 578.7,733.8 580.2,735.8 581.7,737.7 583.2,739.5 584.7,741.1 586.2,742.6 587.7,743.9 589.2,745.2 590.7,746.4 592.2,747.4 593.7,748.4 595.2,749.3 596.7,750.1 598.2,750.8 599.7,751.5 601.2,752.1 602.7,752.6 604.2,753.1 605.7,753.5 607.2,753.9 608.7,754.3 610.2,754.6 611.7,754.9 613.2,755.2 614.7,755.4 616.2,755.6 617.7,755.8 619.2,755.9 620.7,756.1 622.2,756.2 623.7,756.3 625.2,756.4 626.7,756.4 628.2,756.4 629.7,756.4 631.2,756.4 632.7,756.4 634.2,756.4 635.7,756.4 637.2,756.4 638.7,756.4 640.2,756.4 641.7,756.4 643.2,756.4 644.7,756.4 646.2,756.4 647.7,756.4 649.2,756.4 650.7,756.4 652.2,756.4 653.7,756.4 655.2,756.4 656.7,756.4 658.2,756.4 659.7,756.4 661.2,756.4 662.7,756.4 664.2,756.4 665.7,756.4 667.2,756.4 668.7,756.4 670.2,756.4 671.7,756.4 673.2,756.4 674.7,756.4 676.2,756.4 677.7,756.4 679.2,756.4 679.5,756.4" fill="none" stroke="#4c22a8" stroke-width="1.3" stroke-linejoin="round"/>
<rect x="390.4" y="544.3" width="289.9" height="212.8" fill="none" stroke="#000" stroke-width="1.8"/>
<line x1="426.6" y1="757.1" x2="426.6" y2="749.1" stroke="#000" stroke-width="1.6"/>
<text x="426.6" y="776.6" text-anchor="middle" class="tl">-7.8</text>
<line x1="499.1" y1="757.1" x2="499.1" y2="749.1" stroke="#000" stroke-width="1.6"/>
<text x="499.1" y="776.6" text-anchor="middle" class="tl">-7.6</text>
<line x1="571.6" y1="757.1" x2="571.6" y2="749.1" stroke="#000" stroke-width="1.6"/>
<text x="571.6" y="776.6" text-anchor="middle" class="tl">-7.4</text>
<line x1="644.1" y1="757.1" x2="644.1" y2="749.1" stroke="#000" stroke-width="1.6"/>
<text x="644.1" y="776.6" text-anchor="middle" class="tl">-7.2</text>
<line x1="462.9" y1="757.1" x2="462.9" y2="752.6" stroke="#000" stroke-width="1.6"/>
<line x1="535.3" y1="757.1" x2="535.3" y2="752.6" stroke="#000" stroke-width="1.6"/>
<line x1="607.8" y1="757.1" x2="607.8" y2="752.6" stroke="#000" stroke-width="1.6"/>
<line x1="680.3" y1="757.1" x2="680.3" y2="752.6" stroke="#000" stroke-width="1.6"/>
<line x1="390.4" y1="757.1" x2="398.4" y2="757.1" stroke="#000" stroke-width="1.6"/>
<text x="381.4" y="761.6" text-anchor="end" class="tl">0</text>
<line x1="390.4" y1="718.4" x2="398.4" y2="718.4" stroke="#000" stroke-width="1.6"/>
<text x="381.4" y="722.9" text-anchor="end" class="tl">1</text>
<line x1="390.4" y1="679.7" x2="398.4" y2="679.7" stroke="#000" stroke-width="1.6"/>
<text x="381.4" y="684.2" text-anchor="end" class="tl">2</text>
<line x1="390.4" y1="641.0" x2="398.4" y2="641.0" stroke="#000" stroke-width="1.6"/>
<text x="381.4" y="645.5" text-anchor="end" class="tl">3</text>
<line x1="390.4" y1="602.3" x2="398.4" y2="602.3" stroke="#000" stroke-width="1.6"/>
<text x="381.4" y="606.8" text-anchor="end" class="tl">4</text>
<line x1="390.4" y1="563.6" x2="398.4" y2="563.6" stroke="#000" stroke-width="1.6"/>
<text x="381.4" y="568.1" text-anchor="end" class="tl">5</text>
<line x1="390.4" y1="737.8" x2="394.9" y2="737.8" stroke="#000" stroke-width="1.6"/>
<line x1="390.4" y1="699.1" x2="394.9" y2="699.1" stroke="#000" stroke-width="1.6"/>
<line x1="390.4" y1="660.4" x2="394.9" y2="660.4" stroke="#000" stroke-width="1.6"/>
<line x1="390.4" y1="621.7" x2="394.9" y2="621.7" stroke="#000" stroke-width="1.6"/>
<line x1="390.4" y1="583.0" x2="394.9" y2="583.0" stroke="#000" stroke-width="1.6"/>
<text x="511.9" y="800.9" class="at"><tspan font-style="italic">E</tspan><tspan class="sub" dy="6">p</tspan><tspan dy="-6"> (eV)</tspan></text>
<text transform="translate(362.0,662.0) rotate(-90)" text-anchor="middle" class="at"><tspan font-style="italic">P</tspan>(<tspan font-style="italic">E</tspan><tspan class="sub" dy="6">p</tspan><tspan dy="-6">)</tspan></text>
<text x="401.0" y="560.6" class="pl">(f)</text>
<line x1="404.7" y1="592.6" x2="428.8" y2="592.6" stroke="#111" stroke-width="1.7" stroke-dasharray="4 2.6"/>
<text x="431.7" y="596.6" class="lg">Total</text>
<line x1="404.7" y1="608.7" x2="428.8" y2="608.7" stroke="#e03a34" stroke-width="1.0"/>
<text x="431.7" y="612.7" class="lg"><tspan class="lgN">N</tspan><tspan class="lsub" dx="-1" dy="4.5">Q</tspan><tspan dy="-4.5"> = 0</tspan></text>
<line x1="404.7" y1="628.3" x2="428.8" y2="628.3" stroke="#3434d8" stroke-width="1.1"/>
<text x="431.7" y="632.3" class="lg"><tspan class="lgN">N</tspan><tspan class="lsub" dx="-1" dy="4.5">Q</tspan><tspan dy="-4.5"> = 1</tspan></text>
<line x1="404.7" y1="647.9" x2="428.8" y2="647.9" stroke="#e070e6" stroke-width="1.6"/>
<text x="431.7" y="651.9" class="lg"><tspan class="lgN">N</tspan><tspan class="lsub" dx="-1" dy="4.5">Q</tspan><tspan dy="-4.5"> = 2</tspan></text>
<line x1="404.7" y1="667.5" x2="428.8" y2="667.5" stroke="#2a962a" stroke-width="1.0"/>
<text x="431.7" y="671.5" class="lg"><tspan class="lgN">N</tspan><tspan class="lsub" dx="-1" dy="4.5">Q</tspan><tspan dy="-4.5"> = 3</tspan></text>
<line x1="404.7" y1="687.1" x2="428.8" y2="687.1" stroke="#2c2c86" stroke-width="1.1"/>
<text x="431.7" y="691.1" class="lg"><tspan class="lgN">N</tspan><tspan class="lsub" dx="-1" dy="4.5">Q</tspan><tspan dy="-4.5"> = 4</tspan></text>
<line x1="404.7" y1="706.7" x2="428.8" y2="706.7" stroke="#9050f4" stroke-width="1.6"/>
<text x="431.7" y="710.7" class="lg"><tspan class="lgN">N</tspan><tspan class="lsub" dx="-1" dy="4.5">Q</tspan><tspan dy="-4.5"> = 5</tspan></text>
<line x1="404.7" y1="726.3" x2="428.8" y2="726.3" stroke="#8c3090" stroke-width="1.1"/>
<text x="431.7" y="730.3" class="lg"><tspan class="lgN">N</tspan><tspan class="lsub" dx="-1" dy="4.5">Q</tspan><tspan dy="-4.5"> = 6</tspan></text>
<text x="582.9" y="704.3" class="ml">P (Ni<tspan class="msub" dy="6.5">80</tspan><tspan dy="-6.5">P</tspan><tspan class="msub" dy="6.5">20</tspan><tspan dy="-6.5">)</tspan></text>
<rect x="566.7" y="549.0" width="111.5" height="84.4" fill="#fff" stroke="#000" stroke-width="1.3"/>
<line x1="566.7" y1="633.4" x2="566.7" y2="629.4" stroke="#000" stroke-width="1"/>
<text x="566.7" y="644.9" text-anchor="middle" class="il">0</text>
<line x1="580.6" y1="633.4" x2="580.6" y2="630.9" stroke="#000" stroke-width="1"/>
<line x1="594.6" y1="633.4" x2="594.6" y2="629.4" stroke="#000" stroke-width="1"/>
<text x="594.6" y="644.9" text-anchor="middle" class="il">2</text>
<line x1="608.5" y1="633.4" x2="608.5" y2="630.9" stroke="#000" stroke-width="1"/>
<line x1="622.5" y1="633.4" x2="622.5" y2="629.4" stroke="#000" stroke-width="1"/>
<text x="622.5" y="644.9" text-anchor="middle" class="il">4</text>
<line x1="636.4" y1="633.4" x2="636.4" y2="630.9" stroke="#000" stroke-width="1"/>
<line x1="650.3" y1="633.4" x2="650.3" y2="629.4" stroke="#000" stroke-width="1"/>
<text x="650.3" y="644.9" text-anchor="middle" class="il">6</text>
<line x1="664.3" y1="633.4" x2="664.3" y2="630.9" stroke="#000" stroke-width="1"/>
<line x1="678.2" y1="633.4" x2="678.2" y2="629.4" stroke="#000" stroke-width="1"/>
<text x="678.2" y="644.9" text-anchor="middle" class="il">8</text>
<line x1="566.7" y1="549.0" x2="570.7" y2="549.0" stroke="#000" stroke-width="1"/>
<text x="563.7" y="552.2" text-anchor="end" class="il">-7.538</text>
<line x1="566.7" y1="573.0" x2="570.7" y2="573.0" stroke="#000" stroke-width="1"/>
<text x="563.7" y="576.2" text-anchor="end" class="il">-7.540</text>
<line x1="566.7" y1="596.8" x2="570.7" y2="596.8" stroke="#000" stroke-width="1"/>
<text x="563.7" y="600.0" text-anchor="end" class="il">-7.542</text>
<line x1="566.7" y1="621.0" x2="570.7" y2="621.0" stroke="#000" stroke-width="1"/>
<text x="563.7" y="624.2" text-anchor="end" class="il">-7.544</text>
<line x1="566.7" y1="561.0" x2="569.2" y2="561.0" stroke="#000" stroke-width="1"/>
<line x1="566.7" y1="585.0" x2="569.2" y2="585.0" stroke="#000" stroke-width="1"/>
<line x1="566.7" y1="609.0" x2="569.2" y2="609.0" stroke="#000" stroke-width="1"/>
<polyline points="566.7,620.3 580.6,631.2 594.6,623.7 608.5,612.4 622.5,603.3 636.4,595.0 650.3,583.0 664.3,562.8 678.2,558.8" fill="none" stroke="#000" stroke-width="1.1"/>
<rect x="564.7" y="618.3" width="4" height="4" fill="#fff" stroke="#000" stroke-width="1"/>
<rect x="578.6" y="629.2" width="4" height="4" fill="#fff" stroke="#000" stroke-width="1"/>
<rect x="592.6" y="621.7" width="4" height="4" fill="#fff" stroke="#000" stroke-width="1"/>
<rect x="606.5" y="610.4" width="4" height="4" fill="#fff" stroke="#000" stroke-width="1"/>
<rect x="620.5" y="601.3" width="4" height="4" fill="#fff" stroke="#000" stroke-width="1"/>
<rect x="634.4" y="593.0" width="4" height="4" fill="#fff" stroke="#000" stroke-width="1"/>
<rect x="648.3" y="581.0" width="4" height="4" fill="#fff" stroke="#000" stroke-width="1"/>
<rect x="662.3" y="560.8" width="4" height="4" fill="#fff" stroke="#000" stroke-width="1"/>
<rect x="676.2" y="556.8" width="4" height="4" fill="#fff" stroke="#000" stroke-width="1"/>
<text x="622.5" y="660.0" text-anchor="middle" class="iat"><tspan font-style="italic">N</tspan><tspan font-size="6.5" font-style="italic" dy="3">Q</tspan></text>
<text transform="translate(530.0,576.0) rotate(-90)" text-anchor="middle" class="iat">&lt;<tspan font-style="italic">E</tspan><tspan font-size="6.5" font-style="italic" dy="2.5">p</tspan><tspan dy="-2.5">&gt;</tspan></text>
</svg></body></html>
